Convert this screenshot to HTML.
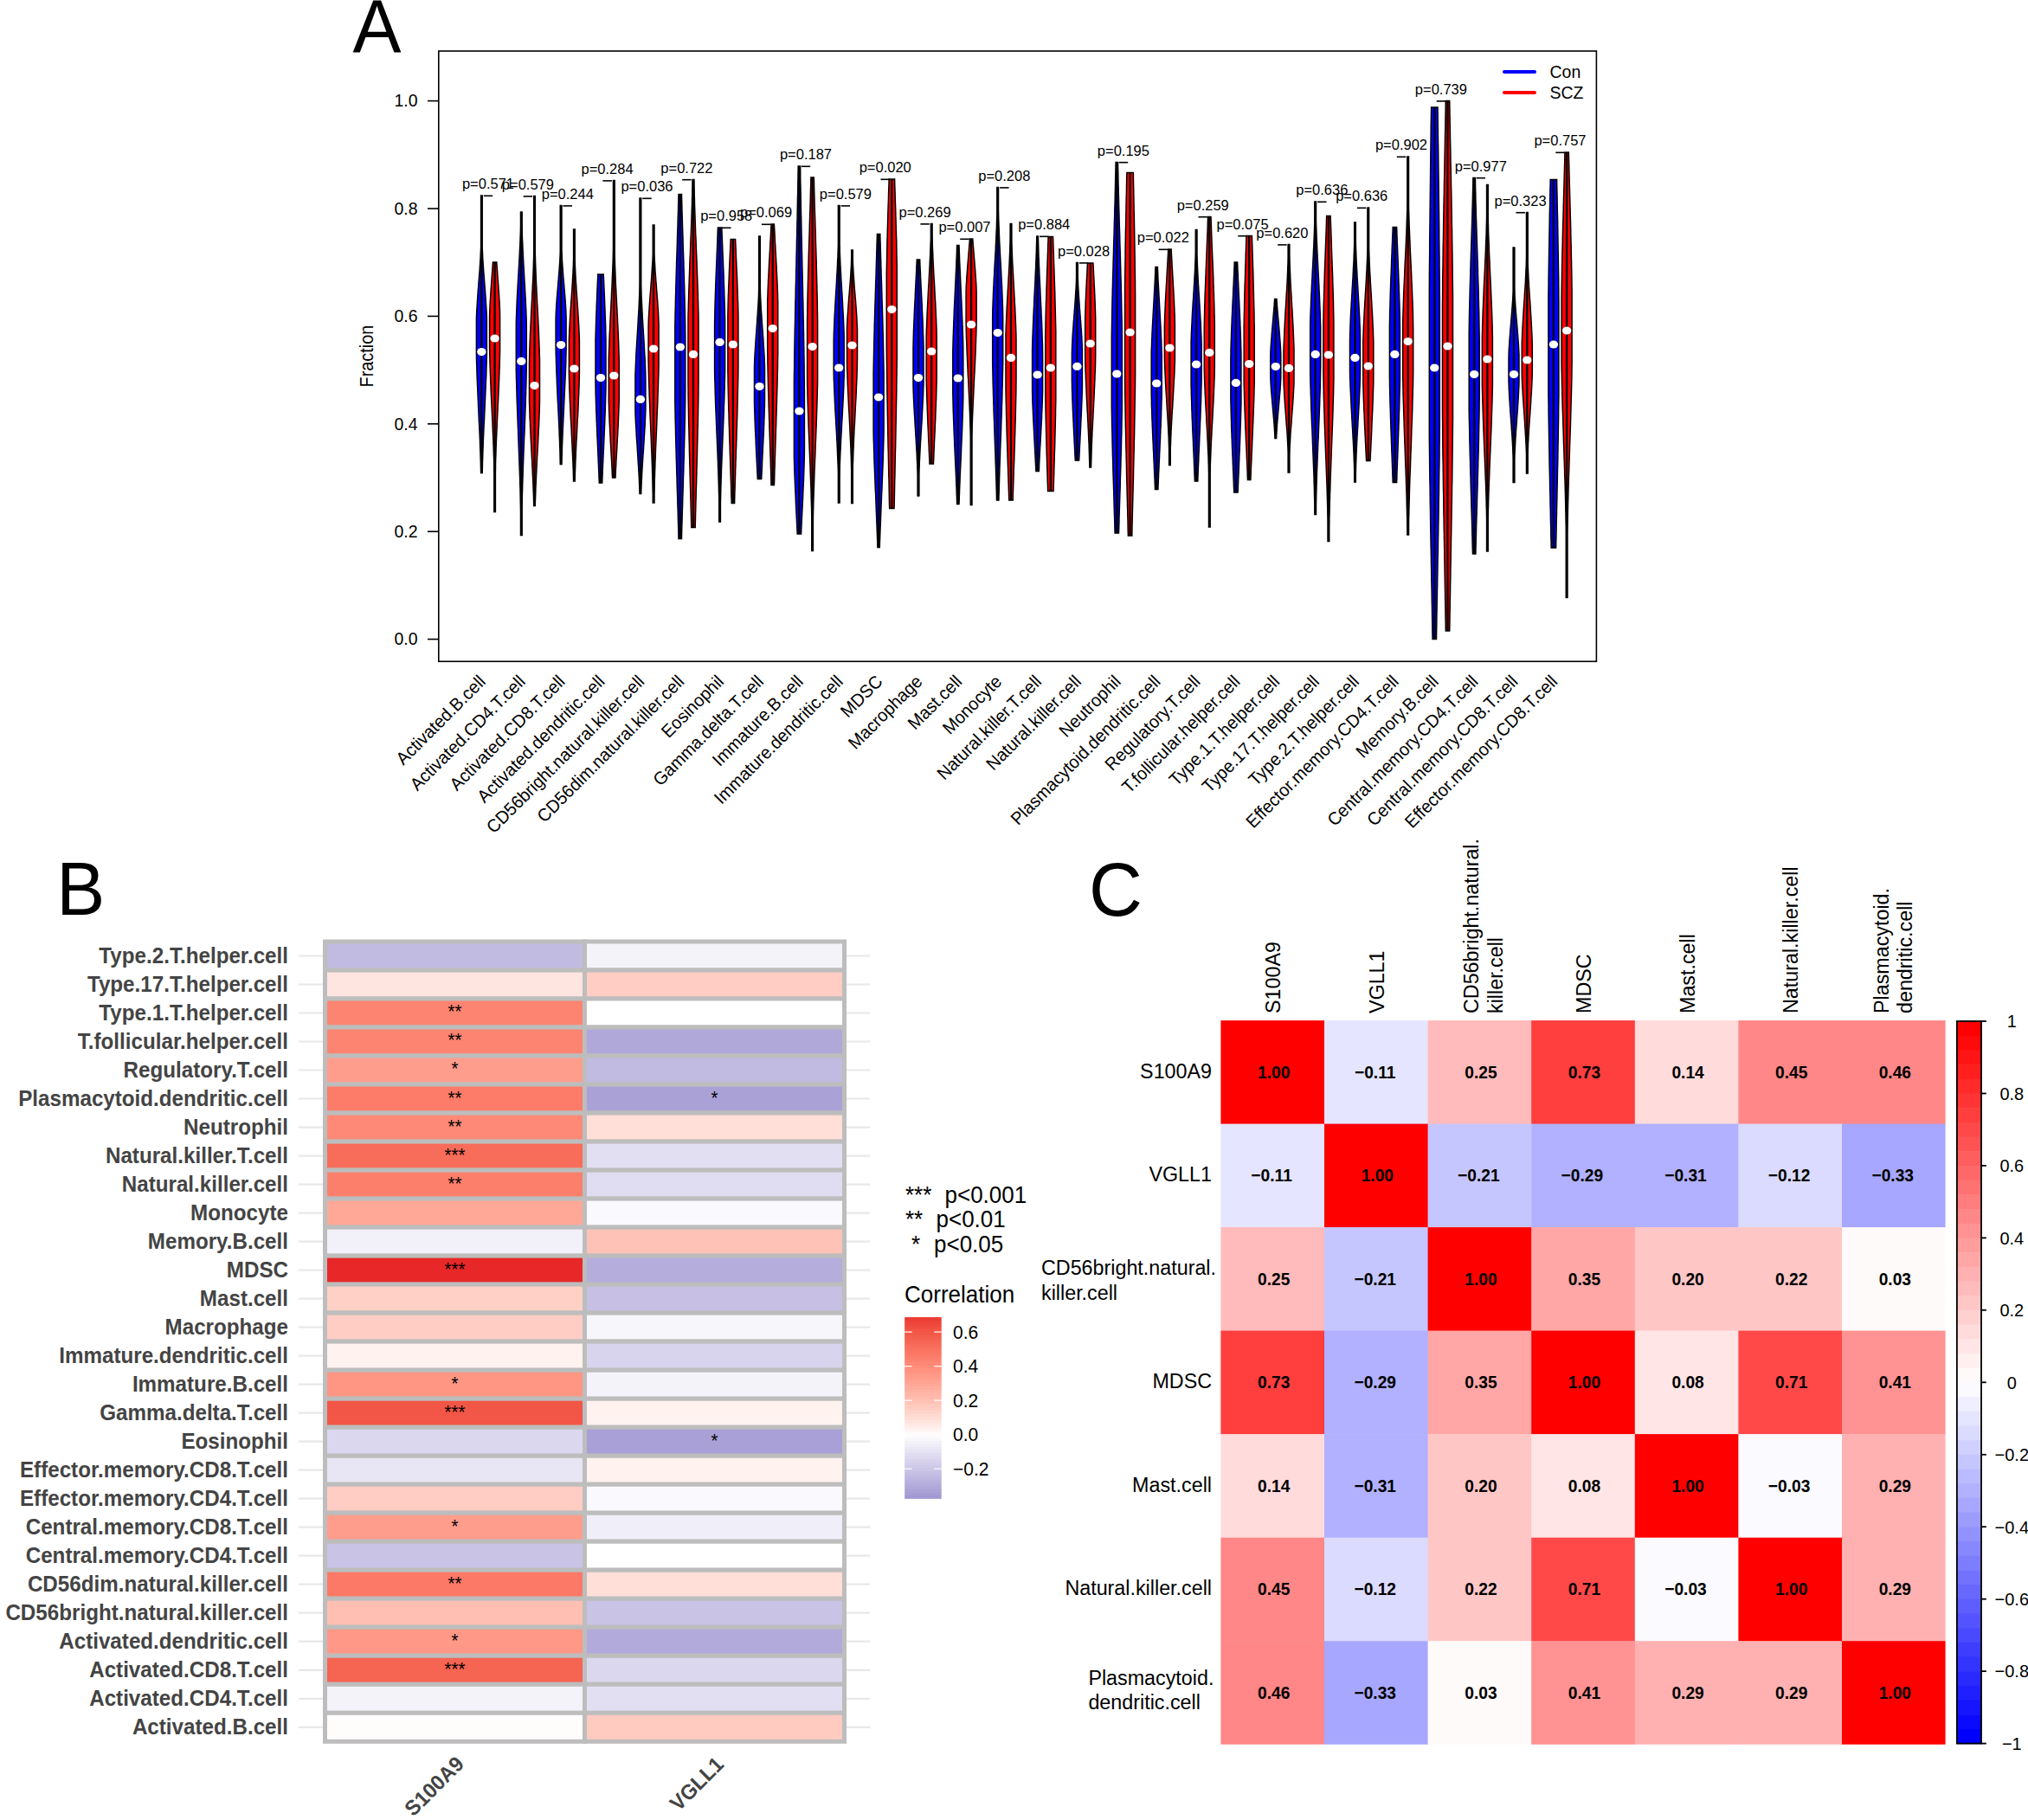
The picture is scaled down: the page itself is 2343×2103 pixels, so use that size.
<!DOCTYPE html>
<html lang="en"><head><meta charset="utf-8"><title>Figure</title>
<style>
html,body{margin:0;padding:0;background:#fff;}
body{width:2343px;height:2103px;overflow:hidden;}
svg{display:block;}
.t{font-family:'Liberation Sans', sans-serif;fill:#000;}
.tb{font-family:'Liberation Sans', sans-serif;}
.ln{stroke:#000;stroke-width:1.6;}
.vp{stroke:#000;stroke-width:1.5;stroke-linejoin:miter;}
</style></head><body>
<svg width="2343" height="2103" viewBox="0 0 2343 2103">
<rect width="2343" height="2103" fill="#fff"/>
<g id="panelA">
<text transform="translate(407.4,60.9) scale(1,1.045)" font-size="84" class="t">A</text>
<line x1="494" y1="738.6" x2="506.8" y2="738.6" class="ln"/>
<text transform="translate(482.6,745.4) scale(1,1.058)" font-size="19.5" text-anchor="end" class="t">0.0</text>
<line x1="494" y1="614.2" x2="506.8" y2="614.2" class="ln"/>
<text transform="translate(482.6,621) scale(1,1.058)" font-size="19.5" text-anchor="end" class="t">0.2</text>
<line x1="494" y1="489.8" x2="506.8" y2="489.8" class="ln"/>
<text transform="translate(482.6,496.6) scale(1,1.058)" font-size="19.5" text-anchor="end" class="t">0.4</text>
<line x1="494" y1="365.4" x2="506.8" y2="365.4" class="ln"/>
<text transform="translate(482.6,372.2) scale(1,1.058)" font-size="19.5" text-anchor="end" class="t">0.6</text>
<line x1="494" y1="241" x2="506.8" y2="241" class="ln"/>
<text transform="translate(482.6,247.8) scale(1,1.058)" font-size="19.5" text-anchor="end" class="t">0.8</text>
<line x1="494" y1="116.6" x2="506.8" y2="116.6" class="ln"/>
<text transform="translate(482.6,123.4) scale(1,1.058)" font-size="19.5" text-anchor="end" class="t">1.0</text>
<text transform="translate(430.6,411.6) rotate(-90) scale(1,1.065)" font-size="19.9" text-anchor="middle" class="t">Fraction</text>
<polygon points="555.6,226 555.6,230.6 555.6,235.2 555.6,239.7 555.6,244.3 555.6,248.9 555.6,253.5 555.6,258 555.6,262.6 555.6,267.2 555.6,271.8 555.6,276.3 555.6,280.9 555.6,285.5 555.4,290.1 555.2,294.7 555,299.2 554.7,303.8 554.4,308.4 554.1,313 553.7,317.5 553.4,322.1 553,326.7 552.7,331.3 552.3,335.9 552,340.4 551.7,345 551.4,349.6 551.1,354.2 550.8,358.7 550.6,363.3 550.4,367.9 550.4,372.5 550.4,377 550.4,381.6 550.4,386.2 550.4,390.8 550.4,395.4 550.4,399.9 550.4,404.5 550.4,409.1 550.5,413.7 550.6,418.2 550.8,422.8 550.9,427.4 551,432 551.2,436.5 551.4,441.1 551.6,445.7 551.8,450.3 552,454.9 552.2,459.4 552.4,464 552.6,468.6 552.8,473.2 553,477.7 553.2,482.3 553.4,486.9 553.7,491.5 553.9,496.1 554.1,500.6 554.3,505.2 554.5,509.8 554.6,514.4 554.8,518.9 555,523.5 555.1,528.1 555.3,532.7 555.4,537.2 555.5,541.8 555.6,546.4 557.2,546.4 557.3,541.8 557.4,537.2 557.5,532.7 557.7,528.1 557.8,523.5 558,518.9 558.2,514.4 558.3,509.8 558.5,505.2 558.7,500.6 558.9,496.1 559.1,491.5 559.4,486.9 559.6,482.3 559.8,477.7 560,473.2 560.2,468.6 560.4,464 560.6,459.4 560.8,454.9 561,450.3 561.2,445.7 561.4,441.1 561.6,436.5 561.8,432 561.9,427.4 562,422.8 562.2,418.2 562.3,413.7 562.4,409.1 562.4,404.5 562.4,399.9 562.4,395.4 562.4,390.8 562.4,386.2 562.4,381.6 562.4,377 562.4,372.5 562.4,367.9 562.2,363.3 562,358.7 561.7,354.2 561.4,349.6 561.1,345 560.8,340.4 560.5,335.9 560.1,331.3 559.8,326.7 559.4,322.1 559.1,317.5 558.7,313 558.4,308.4 558.1,303.8 557.8,299.2 557.6,294.7 557.4,290.1 557.2,285.5 557.2,280.9 557.2,276.3 557.2,271.8 557.2,267.2 557.2,262.6 557.2,258 557.2,253.5 557.2,248.9 557.2,244.3 557.2,239.7 557.2,235.2 557.2,230.6 557.2,226" fill="#0000FF" class="vp"/>
<line x1="556.4" y1="226" x2="556.4" y2="546.4" stroke="#000" stroke-width="2.3"/>
<ellipse cx="556.4" cy="406.6" rx="5.2" ry="4.6" fill="#fff"/>
<polygon points="569.5,303 569.2,307.1 568.9,311.2 568.6,315.4 568.3,319.5 568,323.6 567.7,327.7 567.4,331.8 567.1,336 566.8,340.1 566.6,344.2 566.3,348.3 566.1,352.4 565.9,356.6 565.8,360.7 565.6,364.8 565.6,368.9 565.6,373 565.6,377.2 565.6,381.3 565.6,385.4 565.6,389.5 565.6,393.6 565.6,397.8 565.6,401.9 565.7,406 565.8,410.1 565.9,414.2 566,418.4 566.1,422.5 566.3,426.6 566.4,430.7 566.6,434.8 566.7,439 566.9,443.1 567.1,447.2 567.2,451.3 567.4,455.4 567.6,459.6 567.8,463.7 568,467.8 568.2,471.9 568.4,476 568.6,480.2 568.8,484.3 569,488.4 569.1,492.5 569.3,496.6 569.5,500.8 569.7,504.9 569.9,509 570,513.1 570.2,517.2 570.3,521.4 570.4,525.5 570.6,529.6 570.7,533.7 570.8,537.8 570.8,542 570.9,546.1 570.9,550.2 570.9,554.3 570.9,558.4 570.9,562.6 570.9,566.7 570.9,570.8 570.9,574.9 570.9,579 570.9,583.2 570.9,587.3 570.9,591.4 572.4,591.4 572.4,587.3 572.4,583.2 572.4,579 572.4,574.9 572.4,570.8 572.4,566.7 572.4,562.6 572.4,558.4 572.4,554.3 572.4,550.2 572.4,546.1 572.5,542 572.5,537.8 572.6,533.7 572.7,529.6 572.9,525.5 573,521.4 573.1,517.2 573.3,513.1 573.4,509 573.6,504.9 573.8,500.8 574,496.6 574.2,492.5 574.3,488.4 574.5,484.3 574.7,480.2 574.9,476 575.1,471.9 575.3,467.8 575.5,463.7 575.7,459.6 575.9,455.4 576.1,451.3 576.2,447.2 576.4,443.1 576.6,439 576.7,434.8 576.9,430.7 577,426.6 577.2,422.5 577.3,418.4 577.4,414.2 577.5,410.1 577.6,406 577.6,401.9 577.6,397.8 577.6,393.6 577.6,389.5 577.6,385.4 577.6,381.3 577.6,377.2 577.6,373 577.6,368.9 577.6,364.8 577.5,360.7 577.4,356.6 577.2,352.4 577,348.3 576.7,344.2 576.5,340.1 576.2,336 575.9,331.8 575.6,327.7 575.3,323.6 575,319.5 574.7,315.4 574.4,311.2 574.1,307.1 573.8,303" fill="#FF0000" class="vp"/>
<line x1="571.6" y1="303" x2="571.6" y2="591.4" stroke="#000" stroke-width="2.3"/>
<ellipse cx="571.6" cy="391" rx="5.2" ry="4.6" fill="#fff"/>
<line x1="558.8" y1="226.3" x2="569.2" y2="226.3" class="ln"/>
<text transform="translate(564,218.1) scale(1,1.04)" font-size="16.5" text-anchor="middle" class="t">p=0.571</text>
<text transform="translate(562.2,788.8) rotate(-45) scale(1,1.04)" font-size="19.9" text-anchor="end" class="t">Activated.B.cell</text>
<polygon points="601.5,245 601.5,250.3 601.5,255.7 601.5,261 601.4,266.3 601.2,271.7 601,277 600.8,282.4 600.5,287.7 600.3,293 600,298.4 599.7,303.7 599.4,309 599.1,314.4 598.8,319.7 598.5,325.1 598.2,330.4 597.9,335.7 597.6,341.1 597.3,346.4 597.1,351.7 596.9,357.1 596.7,362.4 596.5,367.8 596.3,373.1 596.3,378.4 596.3,383.8 596.3,389.1 596.3,394.4 596.3,399.8 596.3,405.1 596.3,410.5 596.3,415.8 596.3,421.1 596.3,426.5 596.4,431.8 596.5,437.1 596.7,442.5 596.8,447.8 597,453.1 597.1,458.5 597.3,463.8 597.5,469.2 597.7,474.5 597.9,479.8 598.1,485.2 598.3,490.5 598.5,495.8 598.7,501.2 598.9,506.5 599.1,511.9 599.3,517.2 599.5,522.5 599.7,527.9 599.9,533.2 600.1,538.5 600.3,543.9 600.5,549.2 600.7,554.6 600.8,559.9 601,565.2 601.1,570.6 601.2,575.9 601.3,581.2 601.4,586.6 601.5,591.9 601.5,597.3 601.5,602.6 601.5,607.9 601.5,613.3 601.5,618.6 603.1,618.6 603.1,613.3 603.1,607.9 603.1,602.6 603.1,597.3 603.1,591.9 603.1,586.6 603.2,581.2 603.3,575.9 603.4,570.6 603.6,565.2 603.7,559.9 603.9,554.6 604.1,549.2 604.2,543.9 604.4,538.5 604.6,533.2 604.8,527.9 605,522.5 605.2,517.2 605.4,511.9 605.6,506.5 605.9,501.2 606.1,495.8 606.3,490.5 606.5,485.2 606.7,479.8 606.9,474.5 607.1,469.2 607.3,463.8 607.4,458.5 607.6,453.1 607.7,447.8 607.9,442.5 608,437.1 608.1,431.8 608.2,426.5 608.3,421.1 608.3,415.8 608.3,410.5 608.3,405.1 608.3,399.8 608.3,394.4 608.3,389.1 608.3,383.8 608.3,378.4 608.2,373.1 608.1,367.8 607.9,362.4 607.7,357.1 607.4,351.7 607.2,346.4 606.9,341.1 606.6,335.7 606.3,330.4 606,325.1 605.7,319.7 605.4,314.4 605.1,309 604.8,303.7 604.5,298.4 604.3,293 604,287.7 603.8,282.4 603.5,277 603.3,271.7 603.2,266.3 603.1,261 603.1,255.7 603.1,250.3 603.1,245" fill="#0000FF" class="vp"/>
<line x1="602.3" y1="245" x2="602.3" y2="618.6" stroke="#000" stroke-width="2.3"/>
<ellipse cx="602.3" cy="417.4" rx="5.2" ry="4.6" fill="#fff"/>
<polygon points="616.7,226.6 616.7,231.7 616.7,236.8 616.7,241.9 616.7,247 616.7,252.2 616.7,257.3 616.7,262.4 616.7,267.5 616.7,272.6 616.7,277.7 616.7,282.8 616.7,287.9 616.7,293 616.6,298.2 616.4,303.3 616.3,308.4 616.1,313.5 615.9,318.6 615.7,323.7 615.4,328.8 615.2,333.9 614.9,339.1 614.7,344.2 614.4,349.3 614.1,354.4 613.9,359.5 613.6,364.6 613.4,369.7 613.1,374.8 612.9,379.9 612.6,385.1 612.4,390.2 612.2,395.3 612,400.4 611.8,405.5 611.7,410.6 611.6,415.7 611.5,420.8 611.5,425.9 611.5,431.1 611.5,436.2 611.5,441.3 611.5,446.4 611.5,451.5 611.5,456.6 611.5,461.7 611.6,466.8 611.8,471.9 612,477.1 612.1,482.2 612.4,487.3 612.6,492.4 612.8,497.5 613.1,502.6 613.3,507.7 613.6,512.8 613.9,518 614.1,523.1 614.4,528.2 614.7,533.3 614.9,538.4 615.2,543.5 615.4,548.6 615.7,553.7 615.9,558.8 616.1,564 616.3,569.1 616.5,574.2 616.6,579.3 616.7,584.4 618.3,584.4 618.4,579.3 618.6,574.2 618.8,569.1 618.9,564 619.2,558.8 619.4,553.7 619.6,548.6 619.9,543.5 620.1,538.4 620.4,533.3 620.6,528.2 620.9,523.1 621.2,518 621.5,512.8 621.7,507.7 622,502.6 622.2,497.5 622.5,492.4 622.7,487.3 622.9,482.2 623.1,477.1 623.3,471.9 623.4,466.8 623.5,461.7 623.5,456.6 623.5,451.5 623.5,446.4 623.5,441.3 623.5,436.2 623.5,431.1 623.5,425.9 623.5,420.8 623.5,415.7 623.3,410.6 623.2,405.5 623,400.4 622.8,395.3 622.6,390.2 622.4,385.1 622.2,379.9 621.9,374.8 621.7,369.7 621.4,364.6 621.2,359.5 620.9,354.4 620.6,349.3 620.4,344.2 620.1,339.1 619.9,333.9 619.6,328.8 619.4,323.7 619.2,318.6 619,313.5 618.8,308.4 618.6,303.3 618.5,298.2 618.3,293 618.3,287.9 618.3,282.8 618.3,277.7 618.3,272.6 618.3,267.5 618.3,262.4 618.3,257.3 618.3,252.2 618.3,247 618.3,241.9 618.3,236.8 618.3,231.7 618.3,226.6" fill="#FF0000" class="vp"/>
<line x1="617.5" y1="226.6" x2="617.5" y2="584.4" stroke="#000" stroke-width="2.3"/>
<ellipse cx="617.5" cy="445.6" rx="5.2" ry="4.6" fill="#fff"/>
<line x1="604.7" y1="226.9" x2="615.1" y2="226.9" class="ln"/>
<text transform="translate(609.9,218.7) scale(1,1.04)" font-size="16.5" text-anchor="middle" class="t">p=0.579</text>
<text transform="translate(608.1,788.8) rotate(-45) scale(1,1.04)" font-size="19.9" text-anchor="end" class="t">Activated.CD4.T.cell</text>
<polygon points="647.3,237.6 647.3,241.9 647.3,246.1 647.3,250.4 647.3,254.7 647.3,258.9 647.3,263.2 647.3,267.5 647.3,271.7 647.3,276 647.3,280.3 647.3,284.6 647.3,288.8 647.2,293.1 647,297.4 646.8,301.6 646.5,305.9 646.2,310.2 645.9,314.4 645.5,318.7 645.2,323 644.8,327.2 644.5,331.5 644.1,335.8 643.8,340 643.4,344.3 643.1,348.6 642.8,352.9 642.6,357.1 642.3,361.4 642.2,365.7 642.1,369.9 642.1,374.2 642.1,378.5 642.1,382.7 642.1,387 642.1,391.3 642.1,395.5 642.1,399.8 642.2,404.1 642.2,408.3 642.4,412.6 642.5,416.9 642.6,421.1 642.8,425.4 642.9,429.7 643.1,434 643.3,438.2 643.4,442.5 643.6,446.8 643.8,451 644,455.3 644.2,459.6 644.4,463.8 644.7,468.1 644.9,472.4 645.1,476.6 645.3,480.9 645.5,485.2 645.7,489.4 645.9,493.7 646.1,498 646.2,502.3 646.4,506.5 646.6,510.8 646.7,515.1 646.9,519.3 647,523.6 647.1,527.9 647.2,532.1 647.3,536.4 648.9,536.4 649,532.1 649.1,527.9 649.3,523.6 649.4,519.3 649.5,515.1 649.7,510.8 649.9,506.5 650,502.3 650.2,498 650.4,493.7 650.6,489.4 650.8,485.2 651,480.9 651.2,476.6 651.4,472.4 651.6,468.1 651.8,463.8 652,459.6 652.2,455.3 652.4,451 652.6,446.8 652.8,442.5 653,438.2 653.2,434 653.4,429.7 653.5,425.4 653.7,421.1 653.8,416.9 653.9,412.6 654,408.3 654.1,404.1 654.1,399.8 654.1,395.5 654.1,391.3 654.1,387 654.1,382.7 654.1,378.5 654.1,374.2 654.1,369.9 654.1,365.7 653.9,361.4 653.7,357.1 653.5,352.9 653.2,348.6 652.9,344.3 652.5,340 652.2,335.8 651.8,331.5 651.5,327.2 651.1,323 650.7,318.7 650.4,314.4 650.1,310.2 649.8,305.9 649.5,301.6 649.3,297.4 649.1,293.1 648.9,288.8 648.9,284.6 648.9,280.3 648.9,276 648.9,271.7 648.9,267.5 648.9,263.2 648.9,258.9 648.9,254.7 648.9,250.4 648.9,246.1 648.9,241.9 648.9,237.6" fill="#0000FF" class="vp"/>
<line x1="648.1" y1="237.6" x2="648.1" y2="536.4" stroke="#000" stroke-width="2.3"/>
<ellipse cx="648.1" cy="398.6" rx="5.2" ry="4.6" fill="#fff"/>
<polygon points="662.6,265 662.6,269.2 662.6,273.3 662.6,277.5 662.6,281.6 662.6,285.8 662.6,289.9 662.6,294.1 662.6,298.3 662.5,302.4 662.4,306.6 662.2,310.7 662,314.9 661.8,319 661.5,323.2 661.3,327.4 661,331.5 660.8,335.7 660.5,339.8 660.2,344 659.9,348.1 659.6,352.3 659.3,356.5 659,360.6 658.8,364.8 658.5,368.9 658.3,373.1 658.1,377.2 657.8,381.4 657.7,385.6 657.5,389.7 657.4,393.9 657.4,398 657.4,402.2 657.4,406.3 657.4,410.5 657.4,414.7 657.4,418.8 657.4,423 657.4,427.1 657.4,431.3 657.5,435.4 657.6,439.6 657.7,443.8 657.8,447.9 658,452.1 658.2,456.2 658.3,460.4 658.5,464.5 658.7,468.7 658.9,472.9 659.1,477 659.3,481.2 659.5,485.3 659.8,489.5 660,493.6 660.2,497.8 660.4,502 660.6,506.1 660.8,510.3 661,514.4 661.2,518.6 661.4,522.7 661.6,526.9 661.8,531.1 662,535.2 662.1,539.4 662.3,543.5 662.4,547.7 662.5,551.8 662.6,556 664.2,556 664.3,551.8 664.4,547.7 664.5,543.5 664.7,539.4 664.8,535.2 665,531.1 665.2,526.9 665.3,522.7 665.5,518.6 665.7,514.4 665.9,510.3 666.2,506.1 666.4,502 666.6,497.8 666.8,493.6 667,489.5 667.2,485.3 667.5,481.2 667.7,477 667.9,472.9 668.1,468.7 668.3,464.5 668.4,460.4 668.6,456.2 668.8,452.1 668.9,447.9 669.1,443.8 669.2,439.6 669.3,435.4 669.4,431.3 669.4,427.1 669.4,423 669.4,418.8 669.4,414.7 669.4,410.5 669.4,406.3 669.4,402.2 669.4,398 669.4,393.9 669.3,389.7 669.1,385.6 668.9,381.4 668.7,377.2 668.5,373.1 668.3,368.9 668,364.8 667.7,360.6 667.5,356.5 667.2,352.3 666.9,348.1 666.6,344 666.3,339.8 666,335.7 665.8,331.5 665.5,327.4 665.2,323.2 665,319 664.8,314.9 664.6,310.7 664.4,306.6 664.3,302.4 664.2,298.3 664.2,294.1 664.2,289.9 664.2,285.8 664.2,281.6 664.2,277.5 664.2,273.3 664.2,269.2 664.2,265" fill="#FF0000" class="vp"/>
<line x1="663.4" y1="265" x2="663.4" y2="556" stroke="#000" stroke-width="2.3"/>
<ellipse cx="663.4" cy="426" rx="5.2" ry="4.6" fill="#fff"/>
<line x1="650.5" y1="237.9" x2="661" y2="237.9" class="ln"/>
<text transform="translate(655.8,229.7) scale(1,1.04)" font-size="16.5" text-anchor="middle" class="t">p=0.244</text>
<text transform="translate(654,788.8) rotate(-45) scale(1,1.04)" font-size="19.9" text-anchor="end" class="t">Activated.CD8.T.cell</text>
<polygon points="690.8,317 690.7,320.4 690.5,323.9 690.3,327.3 690.2,330.8 690,334.2 689.9,337.7 689.7,341.1 689.6,344.5 689.5,348 689.3,351.4 689.2,354.9 689.1,358.3 688.9,361.8 688.8,365.2 688.7,368.6 688.6,372.1 688.5,375.5 688.4,379 688.3,382.4 688.2,385.9 688.1,389.3 688,392.7 688,396.2 688,399.6 688,403.1 688,406.5 688,410 688,413.4 688,416.8 688,420.3 688,423.7 688,427.2 688,430.6 688,434.1 688,437.5 688,440.9 688,444.4 688.1,447.8 688.1,451.3 688.2,454.7 688.3,458.2 688.4,461.6 688.5,465 688.6,468.5 688.7,471.9 688.8,475.4 689,478.8 689.1,482.3 689.2,485.7 689.4,489.1 689.5,492.6 689.7,496 689.8,499.5 689.9,502.9 690.1,506.4 690.3,509.8 690.4,513.2 690.6,516.7 690.7,520.1 690.9,523.6 691,527 691.2,530.5 691.3,533.9 691.5,537.3 691.6,540.8 691.8,544.2 691.9,547.7 692,551.1 692.2,554.6 692.3,558 695.7,558 695.8,554.6 696,551.1 696.1,547.7 696.2,544.2 696.4,540.8 696.5,537.3 696.7,533.9 696.8,530.5 697,527 697.1,523.6 697.3,520.1 697.5,516.7 697.6,513.2 697.8,509.8 697.9,506.4 698.1,502.9 698.2,499.5 698.4,496 698.5,492.6 698.7,489.1 698.8,485.7 698.9,482.3 699.1,478.8 699.2,475.4 699.3,471.9 699.4,468.5 699.5,465 699.6,461.6 699.7,458.2 699.8,454.7 699.9,451.3 700,447.8 700,444.4 700,440.9 700,437.5 700,434.1 700,430.6 700,427.2 700,423.7 700,420.3 700,416.8 700,413.4 700,410 700,406.5 700,403.1 700,399.6 700,396.2 700,392.7 699.9,389.3 699.8,385.9 699.7,382.4 699.7,379 699.6,375.5 699.5,372.1 699.3,368.6 699.2,365.2 699.1,361.8 699,358.3 698.8,354.9 698.7,351.4 698.6,348 698.4,344.5 698.3,341.1 698.1,337.7 698,334.2 697.8,330.8 697.7,327.3 697.5,323.9 697.4,320.4 697.2,317" fill="#0000FF" class="vp"/>
<line x1="694" y1="317" x2="694" y2="558" stroke="#000" stroke-width="2.3"/>
<ellipse cx="694" cy="436.6" rx="5.2" ry="4.6" fill="#fff"/>
<polygon points="708.5,208.6 708.5,213.5 708.5,218.4 708.5,223.3 708.5,228.2 708.5,233.1 708.5,238 708.5,242.9 708.5,247.8 708.5,252.8 708.5,257.7 708.5,262.6 708.5,267.5 708.5,272.4 708.5,277.3 708.5,282.2 708.5,287.1 708.4,292 708.3,296.9 708.2,301.8 708,306.7 707.8,311.6 707.6,316.5 707.4,321.4 707.2,326.3 707,331.2 706.7,336.1 706.5,341.1 706.3,346 706,350.9 705.8,355.8 705.5,360.7 705.3,365.6 705,370.5 704.8,375.4 704.6,380.3 704.3,385.2 704.1,390.1 703.9,395 703.8,399.9 703.6,404.8 703.4,409.7 703.3,414.6 703.3,419.5 703.3,424.5 703.3,429.4 703.3,434.3 703.3,439.2 703.3,444.1 703.3,449 703.3,453.9 703.3,458.8 703.3,463.7 703.5,468.6 703.6,473.5 703.8,478.4 704,483.3 704.2,488.2 704.5,493.1 704.7,498 705,502.9 705.2,507.8 705.5,512.8 705.8,517.7 706,522.6 706.3,527.5 706.6,532.4 706.8,537.3 707.1,542.2 707.3,547.1 707.6,552 711,552 711.2,547.1 711.4,542.2 711.7,537.3 711.9,532.4 712.2,527.5 712.5,522.6 712.8,517.7 713,512.8 713.3,507.8 713.6,502.9 713.8,498 714.1,493.1 714.3,488.2 714.5,483.3 714.7,478.4 714.9,473.5 715.1,468.6 715.2,463.7 715.3,458.8 715.3,453.9 715.3,449 715.3,444.1 715.3,439.2 715.3,434.3 715.3,429.4 715.3,424.5 715.3,419.5 715.2,414.6 715.1,409.7 714.9,404.8 714.8,399.9 714.6,395 714.4,390.1 714.2,385.2 714,380.3 713.7,375.4 713.5,370.5 713.3,365.6 713,360.7 712.8,355.8 712.5,350.9 712.3,346 712,341.1 711.8,336.1 711.5,331.2 711.3,326.3 711.1,321.4 710.9,316.5 710.7,311.6 710.5,306.7 710.4,301.8 710.2,296.9 710.1,292 710.1,287.1 710.1,282.2 710.1,277.3 710.1,272.4 710.1,267.5 710.1,262.6 710.1,257.7 710.1,252.8 710.1,247.8 710.1,242.9 710.1,238 710.1,233.1 710.1,228.2 710.1,223.3 710.1,218.4 710.1,213.5 710.1,208.6" fill="#FF0000" class="vp"/>
<line x1="709.3" y1="208.6" x2="709.3" y2="552" stroke="#000" stroke-width="2.3"/>
<ellipse cx="709.3" cy="434" rx="5.2" ry="4.6" fill="#fff"/>
<line x1="696.4" y1="208.9" x2="706.9" y2="208.9" class="ln"/>
<text transform="translate(701.6,200.7) scale(1,1.04)" font-size="16.5" text-anchor="middle" class="t">p=0.284</text>
<text transform="translate(699.8,788.8) rotate(-45) scale(1,1.04)" font-size="19.9" text-anchor="end" class="t">Activated.dendritic.cell</text>
<polygon points="739.1,229 739.1,233.9 739.1,238.8 739.1,243.6 739.1,248.5 739.1,253.4 739.1,258.3 739.1,263.1 739.1,268 739.1,272.9 739.1,277.8 739.1,282.6 739.1,287.5 739.1,292.4 739.1,297.3 739.1,302.2 739.1,307 739.1,311.9 739.1,316.8 739.1,321.7 739.1,326.5 739,331.4 738.9,336.3 738.7,341.2 738.5,346.1 738.3,350.9 738.1,355.8 737.8,360.7 737.5,365.6 737.2,370.4 737,375.3 736.7,380.2 736.4,385.1 736.1,389.9 735.8,394.8 735.5,399.7 735.2,404.6 734.9,409.5 734.7,414.3 734.5,419.2 734.3,424.1 734.1,429 733.9,433.8 733.9,438.7 733.9,443.6 733.9,448.5 733.9,453.3 733.9,458.2 733.9,463.1 733.9,468 733.9,472.9 734,477.7 734.2,482.6 734.4,487.5 734.7,492.4 735,497.2 735.2,502.1 735.5,507 735.9,511.9 736.2,516.8 736.5,521.6 736.8,526.5 737.1,531.4 737.4,536.3 737.7,541.1 738,546 738.3,550.9 738.5,555.8 738.7,560.6 738.9,565.5 739.1,570.4 740.7,570.4 740.8,565.5 741,560.6 741.2,555.8 741.5,550.9 741.7,546 742,541.1 742.3,536.3 742.6,531.4 742.9,526.5 743.3,521.6 743.6,516.8 743.9,511.9 744.2,507 744.5,502.1 744.8,497.2 745.1,492.4 745.3,487.5 745.5,482.6 745.7,477.7 745.9,472.9 745.9,468 745.9,463.1 745.9,458.2 745.9,453.3 745.9,448.5 745.9,443.6 745.9,438.7 745.8,433.8 745.7,429 745.5,424.1 745.3,419.2 745.1,414.3 744.8,409.5 744.5,404.6 744.3,399.7 744,394.8 743.7,389.9 743.4,385.1 743.1,380.2 742.8,375.3 742.5,370.4 742.2,365.6 742,360.7 741.7,355.8 741.5,350.9 741.2,346.1 741,341.2 740.9,336.3 740.7,331.4 740.7,326.5 740.7,321.7 740.7,316.8 740.7,311.9 740.7,307 740.7,302.2 740.7,297.3 740.7,292.4 740.7,287.5 740.7,282.6 740.7,277.8 740.7,272.9 740.7,268 740.7,263.1 740.7,258.3 740.7,253.4 740.7,248.5 740.7,243.6 740.7,238.8 740.7,233.9 740.7,229" fill="#0000FF" class="vp"/>
<line x1="739.9" y1="229" x2="739.9" y2="570.4" stroke="#000" stroke-width="2.3"/>
<ellipse cx="739.9" cy="461.4" rx="5.2" ry="4.6" fill="#fff"/>
<polygon points="754.3,260 754.3,264.6 754.3,269.2 754.3,273.8 754.3,278.3 754.3,282.9 754.3,287.5 754.3,292.1 754.2,296.7 754,301.3 753.7,305.9 753.4,310.4 753.1,315 752.8,319.6 752.5,324.2 752.1,328.8 751.8,333.4 751.4,338 751,342.5 750.7,347.1 750.4,351.7 750.1,356.3 749.8,360.9 749.5,365.5 749.3,370.1 749.2,374.6 749.1,379.2 749.1,383.8 749.1,388.4 749.1,393 749.1,397.6 749.1,402.2 749.1,406.7 749.1,411.3 749.1,415.9 749.2,420.5 749.3,425.1 749.4,429.7 749.5,434.3 749.6,438.8 749.8,443.4 749.9,448 750.1,452.6 750.2,457.2 750.4,461.8 750.6,466.4 750.8,470.9 750.9,475.5 751.1,480.1 751.3,484.7 751.5,489.3 751.7,493.9 751.9,498.5 752.1,503 752.3,507.6 752.5,512.2 752.6,516.8 752.8,521.4 753,526 753.2,530.6 753.3,535.1 753.5,539.7 753.6,544.3 753.8,548.9 753.9,553.5 754,558.1 754.1,562.7 754.2,567.2 754.3,571.8 754.3,576.4 754.3,581 755.9,581 755.9,576.4 755.9,571.8 756,567.2 756.1,562.7 756.2,558.1 756.3,553.5 756.5,548.9 756.6,544.3 756.8,539.7 756.9,535.1 757.1,530.6 757.3,526 757.4,521.4 757.6,516.8 757.8,512.2 758,507.6 758.2,503 758.4,498.5 758.6,493.9 758.8,489.3 758.9,484.7 759.1,480.1 759.3,475.5 759.5,470.9 759.7,466.4 759.9,461.8 760,457.2 760.2,452.6 760.3,448 760.5,443.4 760.6,438.8 760.8,434.3 760.9,429.7 761,425.1 761.1,420.5 761.1,415.9 761.1,411.3 761.1,406.7 761.1,402.2 761.1,397.6 761.1,393 761.1,388.4 761.1,383.8 761.1,379.2 761.1,374.6 760.9,370.1 760.7,365.5 760.5,360.9 760.2,356.3 759.9,351.7 759.6,347.1 759.2,342.5 758.9,338 758.5,333.4 758.2,328.8 757.8,324.2 757.5,319.6 757.1,315 756.8,310.4 756.6,305.9 756.3,301.3 756.1,296.7 755.9,292.1 755.9,287.5 755.9,282.9 755.9,278.3 755.9,273.8 755.9,269.2 755.9,264.6 755.9,260" fill="#FF0000" class="vp"/>
<line x1="755.1" y1="260" x2="755.1" y2="581" stroke="#000" stroke-width="2.3"/>
<ellipse cx="755.1" cy="403" rx="5.2" ry="4.6" fill="#fff"/>
<line x1="742.3" y1="229.3" x2="752.7" y2="229.3" class="ln"/>
<text transform="translate(747.5,221.1) scale(1,1.04)" font-size="16.5" text-anchor="middle" class="t">p=0.036</text>
<text transform="translate(745.7,788.8) rotate(-45) scale(1,1.04)" font-size="19.9" text-anchor="end" class="t">CD56bright.natural.killer.cell</text>
<polygon points="784,224.4 783.9,230.1 783.7,235.8 783.6,241.5 783.4,247.2 783.2,252.8 783.1,258.5 782.9,264.2 782.7,269.9 782.5,275.6 782.4,281.3 782.2,287 782,292.7 781.8,298.4 781.6,304 781.5,309.7 781.3,315.4 781.1,321.1 781,326.8 780.8,332.5 780.7,338.2 780.5,343.9 780.4,349.5 780.3,355.2 780.1,360.9 780,366.6 779.9,372.3 779.8,378 779.8,383.7 779.8,389.4 779.8,395.1 779.8,400.7 779.8,406.4 779.8,412.1 779.8,417.8 779.8,423.5 779.8,429.2 779.8,434.9 779.8,440.6 779.8,446.3 779.8,451.9 779.8,457.6 779.8,463.3 779.9,469 780,474.7 780.1,480.4 780.2,486.1 780.4,491.8 780.5,497.5 780.6,503.1 780.8,508.8 780.9,514.5 781.1,520.2 781.2,525.9 781.4,531.6 781.6,537.3 781.7,543 781.9,548.6 782.1,554.3 782.2,560 782.4,565.7 782.6,571.4 782.8,577.1 782.9,582.8 783.1,588.5 783.3,594.2 783.4,599.8 783.6,605.5 783.8,611.2 783.9,616.9 784,622.6 787.5,622.6 787.6,616.9 787.7,611.2 787.9,605.5 788.1,599.8 788.2,594.2 788.4,588.5 788.6,582.8 788.7,577.1 788.9,571.4 789.1,565.7 789.3,560 789.4,554.3 789.6,548.6 789.8,543 789.9,537.3 790.1,531.6 790.3,525.9 790.4,520.2 790.6,514.5 790.7,508.8 790.9,503.1 791,497.5 791.1,491.8 791.3,486.1 791.4,480.4 791.5,474.7 791.6,469 791.7,463.3 791.7,457.6 791.8,451.9 791.8,446.3 791.8,440.6 791.8,434.9 791.8,429.2 791.8,423.5 791.8,417.8 791.8,412.1 791.8,406.4 791.8,400.7 791.8,395.1 791.8,389.4 791.7,383.7 791.7,378 791.6,372.3 791.5,366.6 791.4,360.9 791.2,355.2 791.1,349.5 791,343.9 790.8,338.2 790.7,332.5 790.5,326.8 790.4,321.1 790.2,315.4 790,309.7 789.9,304 789.7,298.4 789.5,292.7 789.3,287 789.1,281.3 789,275.6 788.8,269.9 788.6,264.2 788.4,258.5 788.3,252.8 788.1,247.2 787.9,241.5 787.8,235.8 787.6,230.1 787.5,224.4" fill="#0000FF" class="vp"/>
<line x1="785.8" y1="224.4" x2="785.8" y2="622.6" stroke="#000" stroke-width="2.3"/>
<ellipse cx="785.8" cy="401" rx="5.2" ry="4.6" fill="#fff"/>
<polygon points="800.1,207.4 800,213.1 799.9,218.9 799.8,224.6 799.6,230.4 799.5,236.1 799.3,241.9 799.1,247.6 798.9,253.4 798.7,259.1 798.5,264.9 798.3,270.6 798,276.3 797.8,282.1 797.6,287.8 797.4,293.6 797.1,299.3 796.9,305.1 796.7,310.8 796.5,316.6 796.3,322.3 796.1,328.1 795.9,333.8 795.7,339.6 795.6,345.3 795.4,351 795.3,356.8 795.1,362.5 795,368.3 795,374 795,379.8 795,385.5 795,391.3 795,397 795,402.8 795,408.5 795,414.2 795,420 795,425.7 795,431.5 795,437.2 795,443 795.1,448.7 795.1,454.5 795.2,460.2 795.3,466 795.4,471.7 795.5,477.4 795.6,483.2 795.7,488.9 795.9,494.7 796,500.4 796.1,506.2 796.3,511.9 796.4,517.7 796.5,523.4 796.7,529.2 796.8,534.9 797,540.7 797.1,546.4 797.3,552.1 797.4,557.9 797.6,563.6 797.8,569.4 797.9,575.1 798.1,580.9 798.2,586.6 798.4,592.4 798.5,598.1 798.7,603.9 798.8,609.6 803.2,609.6 803.3,603.9 803.5,598.1 803.6,592.4 803.8,586.6 803.9,580.9 804.1,575.1 804.2,569.4 804.4,563.6 804.6,557.9 804.7,552.1 804.9,546.4 805,540.7 805.2,534.9 805.3,529.2 805.5,523.4 805.6,517.7 805.7,511.9 805.9,506.2 806,500.4 806.1,494.7 806.3,488.9 806.4,483.2 806.5,477.4 806.6,471.7 806.7,466 806.8,460.2 806.9,454.5 806.9,448.7 807,443 807,437.2 807,431.5 807,425.7 807,420 807,414.2 807,408.5 807,402.8 807,397 807,391.3 807,385.5 807,379.8 807,374 807,368.3 806.9,362.5 806.7,356.8 806.6,351 806.4,345.3 806.3,339.6 806.1,333.8 805.9,328.1 805.7,322.3 805.5,316.6 805.3,310.8 805.1,305.1 804.9,299.3 804.6,293.6 804.4,287.8 804.2,282.1 804,276.3 803.7,270.6 803.5,264.9 803.3,259.1 803.1,253.4 802.9,247.6 802.7,241.9 802.5,236.1 802.4,230.4 802.2,224.6 802.1,218.9 802,213.1 801.9,207.4" fill="#FF0000" class="vp"/>
<line x1="801" y1="207.4" x2="801" y2="609.6" stroke="#000" stroke-width="2.3"/>
<ellipse cx="801" cy="409.4" rx="5.2" ry="4.6" fill="#fff"/>
<line x1="788.1" y1="207.7" x2="798.6" y2="207.7" class="ln"/>
<text transform="translate(793.4,199.5) scale(1,1.04)" font-size="16.5" text-anchor="middle" class="t">p=0.722</text>
<text transform="translate(791.6,788.8) rotate(-45) scale(1,1.04)" font-size="19.9" text-anchor="end" class="t">CD56dim.natural.killer.cell</text>
<polygon points="829.4,263 829.2,267.9 829,272.7 828.9,277.6 828.7,282.4 828.5,287.3 828.3,292.1 828.1,297 827.9,301.9 827.7,306.7 827.5,311.6 827.3,316.4 827.1,321.3 826.9,326.1 826.7,331 826.6,335.9 826.4,340.7 826.3,345.6 826.1,350.4 826,355.3 825.9,360.1 825.8,365 825.7,369.9 825.6,374.7 825.6,379.6 825.6,384.4 825.6,389.3 825.6,394.1 825.6,399 825.6,403.9 825.6,408.7 825.6,413.6 825.6,418.4 825.6,423.3 825.6,428.1 825.7,433 825.8,437.9 826,442.7 826.1,447.6 826.2,452.4 826.4,457.3 826.5,462.1 826.7,467 826.9,471.9 827.1,476.7 827.3,481.6 827.5,486.4 827.7,491.3 827.9,496.1 828.1,501 828.3,505.9 828.5,510.7 828.7,515.6 828.9,520.4 829.1,525.3 829.3,530.1 829.5,535 829.6,539.9 829.8,544.7 830,549.6 830.1,554.4 830.3,559.3 830.4,564.1 830.5,569 830.7,573.9 830.8,578.7 830.8,583.6 830.8,588.4 830.8,593.3 830.8,598.1 830.8,603 832.4,603 832.4,598.1 832.4,593.3 832.4,588.4 832.4,583.6 832.5,578.7 832.6,573.9 832.7,569 832.8,564.1 833,559.3 833.1,554.4 833.3,549.6 833.4,544.7 833.6,539.9 833.8,535 834,530.1 834.2,525.3 834.4,520.4 834.6,515.6 834.8,510.7 835,505.9 835.2,501 835.4,496.1 835.6,491.3 835.8,486.4 836,481.6 836.2,476.7 836.3,471.9 836.5,467 836.7,462.1 836.9,457.3 837,452.4 837.2,447.6 837.3,442.7 837.4,437.9 837.5,433 837.6,428.1 837.6,423.3 837.6,418.4 837.6,413.6 837.6,408.7 837.6,403.9 837.6,399 837.6,394.1 837.6,389.3 837.6,384.4 837.6,379.6 837.6,374.7 837.6,369.9 837.5,365 837.4,360.1 837.3,355.3 837.1,350.4 837,345.6 836.8,340.7 836.7,335.9 836.5,331 836.3,326.1 836.2,321.3 836,316.4 835.8,311.6 835.6,306.7 835.4,301.9 835.2,297 835,292.1 834.8,287.3 834.6,282.4 834.4,277.6 834.2,272.7 834,267.9 833.8,263" fill="#0000FF" class="vp"/>
<line x1="831.6" y1="263" x2="831.6" y2="603" stroke="#000" stroke-width="2.3"/>
<ellipse cx="831.6" cy="395.4" rx="5.2" ry="4.6" fill="#fff"/>
<polygon points="844.2,276.4 844,280.8 843.8,285.1 843.6,289.5 843.4,293.8 843.2,298.2 843,302.6 842.8,306.9 842.6,311.3 842.4,315.6 842.3,320 842.1,324.4 841.9,328.7 841.7,333.1 841.6,337.4 841.4,341.8 841.3,346.2 841.2,350.5 841.1,354.9 841,359.2 840.9,363.6 840.9,368 840.9,372.3 840.9,376.7 840.9,381 840.9,385.4 840.9,389.8 840.9,394.1 840.9,398.5 840.9,402.8 840.9,407.2 840.9,411.6 840.9,415.9 840.9,420.3 840.9,424.6 840.9,429 841,433.4 841.1,437.7 841.1,442.1 841.2,446.4 841.3,450.8 841.4,455.2 841.5,459.5 841.6,463.9 841.7,468.2 841.8,472.6 842,477 842.1,481.3 842.2,485.7 842.3,490 842.5,494.4 842.6,498.8 842.7,503.1 842.9,507.5 843,511.8 843.2,516.2 843.3,520.6 843.4,524.9 843.6,529.3 843.7,533.6 843.9,538 844,542.4 844.1,546.7 844.3,551.1 844.4,555.4 844.6,559.8 844.7,564.2 844.8,568.5 844.9,572.9 845.1,577.2 845.2,581.6 848.6,581.6 848.7,577.2 848.8,572.9 848.9,568.5 849.1,564.2 849.2,559.8 849.3,555.4 849.5,551.1 849.6,546.7 849.7,542.4 849.9,538 850,533.6 850.2,529.3 850.3,524.9 850.4,520.6 850.6,516.2 850.7,511.8 850.9,507.5 851,503.1 851.1,498.8 851.3,494.4 851.4,490 851.5,485.7 851.7,481.3 851.8,477 851.9,472.6 852,468.2 852.1,463.9 852.2,459.5 852.3,455.2 852.4,450.8 852.5,446.4 852.6,442.1 852.7,437.7 852.8,433.4 852.8,429 852.9,424.6 852.9,420.3 852.9,415.9 852.9,411.6 852.9,407.2 852.9,402.8 852.9,398.5 852.9,394.1 852.9,389.8 852.9,385.4 852.9,381 852.9,376.7 852.9,372.3 852.9,368 852.9,363.6 852.8,359.2 852.7,354.9 852.6,350.5 852.4,346.2 852.3,341.8 852.1,337.4 852,333.1 851.8,328.7 851.7,324.4 851.5,320 851.3,315.6 851.1,311.3 850.9,306.9 850.7,302.6 850.5,298.2 850.3,293.8 850.2,289.5 850,285.1 849.8,280.8 849.6,276.4" fill="#FF0000" class="vp"/>
<line x1="846.9" y1="276.4" x2="846.9" y2="581.6" stroke="#000" stroke-width="2.3"/>
<ellipse cx="846.9" cy="398" rx="5.2" ry="4.6" fill="#fff"/>
<line x1="834" y1="263.3" x2="844.5" y2="263.3" class="ln"/>
<text transform="translate(839.2,255.1) scale(1,1.04)" font-size="16.5" text-anchor="middle" class="t">p=0.958</text>
<text transform="translate(837.4,788.8) rotate(-45) scale(1,1.04)" font-size="19.9" text-anchor="end" class="t">Eosinophil</text>
<polygon points="876.7,273 876.7,277 876.7,281 876.7,285 876.7,289 876.7,293 876.7,297 876.7,301 876.7,305 876.7,309.1 876.7,313.1 876.7,317.1 876.7,321.1 876.7,325.1 876.7,329.1 876.7,333.1 876.6,337.1 876.5,341.1 876.3,345.1 876.1,349.1 875.9,353.1 875.6,357.1 875.4,361.1 875.1,365.1 874.8,369.1 874.6,373.1 874.3,377.1 874,381.2 873.7,385.2 873.4,389.2 873.1,393.2 872.9,397.2 872.6,401.2 872.4,405.2 872.1,409.2 871.9,413.2 871.7,417.2 871.6,421.2 871.5,425.2 871.5,429.2 871.5,433.2 871.5,437.2 871.5,441.2 871.5,445.2 871.5,449.3 871.5,453.3 871.5,457.3 871.5,461.3 871.5,465.3 871.6,469.3 871.7,473.3 871.9,477.3 872,481.3 872.1,485.3 872.3,489.3 872.4,493.3 872.6,497.3 872.8,501.3 873,505.3 873.2,509.3 873.3,513.3 873.5,517.3 873.7,521.4 873.9,525.4 874.1,529.4 874.3,533.4 874.5,537.4 874.7,541.4 874.9,545.4 875.1,549.4 875.3,553.4 879.7,553.4 879.9,549.4 880.1,545.4 880.3,541.4 880.5,537.4 880.6,533.4 880.8,529.4 881,525.4 881.2,521.4 881.4,517.3 881.6,513.3 881.8,509.3 882,505.3 882.2,501.3 882.4,497.3 882.5,493.3 882.7,489.3 882.8,485.3 883,481.3 883.1,477.3 883.2,473.3 883.4,469.3 883.4,465.3 883.5,461.3 883.5,457.3 883.5,453.3 883.5,449.3 883.5,445.2 883.5,441.2 883.5,437.2 883.5,433.2 883.5,429.2 883.5,425.2 883.4,421.2 883.2,417.2 883.1,413.2 882.9,409.2 882.6,405.2 882.4,401.2 882.1,397.2 881.9,393.2 881.6,389.2 881.3,385.2 881,381.2 880.7,377.1 880.4,373.1 880.1,369.1 879.9,365.1 879.6,361.1 879.3,357.1 879.1,353.1 878.9,349.1 878.7,345.1 878.5,341.1 878.4,337.1 878.3,333.1 878.3,329.1 878.3,325.1 878.3,321.1 878.3,317.1 878.3,313.1 878.3,309.1 878.3,305 878.3,301 878.3,297 878.3,293 878.3,289 878.3,285 878.3,281 878.3,277 878.3,273" fill="#0000FF" class="vp"/>
<line x1="877.5" y1="273" x2="877.5" y2="553.4" stroke="#000" stroke-width="2.3"/>
<ellipse cx="877.5" cy="446.6" rx="5.2" ry="4.6" fill="#fff"/>
<polygon points="891,259 890.8,263.3 890.6,267.6 890.4,271.9 890.2,276.2 889.9,280.5 889.7,284.9 889.5,289.2 889.2,293.5 889,297.8 888.7,302.1 888.5,306.4 888.3,310.7 888.1,315 887.9,319.3 887.6,323.6 887.5,327.9 887.3,332.2 887.1,336.6 887,340.9 886.8,345.2 886.7,349.5 886.7,353.8 886.7,358.1 886.7,362.4 886.7,366.7 886.7,371 886.7,375.3 886.7,379.6 886.7,383.9 886.7,388.3 886.7,392.6 886.7,396.9 886.7,401.2 886.7,405.5 886.8,409.8 886.9,414.1 886.9,418.4 887,422.7 887.1,427 887.2,431.3 887.3,435.7 887.4,440 887.5,444.3 887.6,448.6 887.7,452.9 887.9,457.2 888,461.5 888.1,465.8 888.2,470.1 888.4,474.4 888.5,478.7 888.6,483 888.8,487.4 888.9,491.7 889,496 889.2,500.3 889.3,504.6 889.5,508.9 889.6,513.2 889.7,517.5 889.9,521.8 890,526.1 890.2,530.4 890.3,534.7 890.4,539.1 890.6,543.4 890.7,547.7 890.8,552 890.9,556.3 891,560.6 894.4,560.6 894.6,556.3 894.7,552 894.8,547.7 894.9,543.4 895.1,539.1 895.2,534.7 895.3,530.4 895.5,526.1 895.6,521.8 895.7,517.5 895.9,513.2 896,508.9 896.2,504.6 896.3,500.3 896.4,496 896.6,491.7 896.7,487.4 896.8,483 897,478.7 897.1,474.4 897.2,470.1 897.4,465.8 897.5,461.5 897.6,457.2 897.7,452.9 897.9,448.6 898,444.3 898.1,440 898.2,435.7 898.3,431.3 898.4,427 898.5,422.7 898.5,418.4 898.6,414.1 898.7,409.8 898.7,405.5 898.7,401.2 898.7,396.9 898.7,392.6 898.7,388.3 898.7,383.9 898.7,379.6 898.7,375.3 898.7,371 898.7,366.7 898.7,362.4 898.7,358.1 898.7,353.8 898.7,349.5 898.6,345.2 898.5,340.9 898.4,336.6 898.2,332.2 898,327.9 897.8,323.6 897.6,319.3 897.4,315 897.2,310.7 897,306.4 896.7,302.1 896.5,297.8 896.3,293.5 896,289.2 895.8,284.9 895.5,280.5 895.3,276.2 895.1,271.9 894.9,267.6 894.6,263.3 894.4,259" fill="#FF0000" class="vp"/>
<line x1="892.7" y1="259" x2="892.7" y2="560.6" stroke="#000" stroke-width="2.3"/>
<ellipse cx="892.7" cy="379.6" rx="5.2" ry="4.6" fill="#fff"/>
<line x1="879.9" y1="259.3" x2="890.3" y2="259.3" class="ln"/>
<text transform="translate(885.1,251.1) scale(1,1.04)" font-size="16.5" text-anchor="middle" class="t">p=0.069</text>
<text transform="translate(883.3,788.8) rotate(-45) scale(1,1.04)" font-size="19.9" text-anchor="end" class="t">Gamma.delta.T.cell</text>
<polygon points="922.2,192 922.1,198.1 922,204.1 921.9,210.2 921.8,216.3 921.7,222.4 921.5,228.4 921.4,234.5 921.3,240.6 921.2,246.6 921.1,252.7 920.9,258.8 920.8,264.9 920.7,270.9 920.5,277 920.4,283.1 920.3,289.1 920.1,295.2 920,301.3 919.9,307.4 919.7,313.4 919.6,319.5 919.5,325.6 919.3,331.6 919.2,337.7 919.1,343.8 918.9,349.9 918.8,355.9 918.7,362 918.6,368.1 918.5,374.1 918.3,380.2 918.2,386.3 918.1,392.4 918,398.4 917.9,404.5 917.8,410.6 917.7,416.6 917.7,422.7 917.6,428.8 917.5,434.9 917.4,440.9 917.4,447 917.4,453.1 917.4,459.1 917.4,465.2 917.4,471.3 917.4,477.4 917.4,483.4 917.4,489.5 917.4,495.6 917.4,501.6 917.4,507.7 917.4,513.8 917.4,519.9 917.4,525.9 917.5,532 917.7,538.1 917.9,544.1 918.1,550.2 918.4,556.3 918.6,562.4 918.9,568.4 919.2,574.5 919.4,580.6 919.7,586.6 920,592.7 920.3,598.8 920.6,604.9 920.9,610.9 921.2,617 925.6,617 925.8,610.9 926.1,604.9 926.4,598.8 926.7,592.7 927,586.6 927.3,580.6 927.6,574.5 927.8,568.4 928.1,562.4 928.4,556.3 928.6,550.2 928.8,544.1 929,538.1 929.2,532 929.3,525.9 929.4,519.9 929.4,513.8 929.4,507.7 929.4,501.6 929.4,495.6 929.4,489.5 929.4,483.4 929.4,477.4 929.4,471.3 929.4,465.2 929.4,459.1 929.4,453.1 929.3,447 929.3,440.9 929.2,434.9 929.1,428.8 929.1,422.7 929,416.6 928.9,410.6 928.8,404.5 928.7,398.4 928.6,392.4 928.5,386.3 928.4,380.2 928.3,374.1 928.1,368.1 928,362 927.9,355.9 927.8,349.9 927.6,343.8 927.5,337.7 927.4,331.6 927.3,325.6 927.1,319.5 927,313.4 926.8,307.4 926.7,301.3 926.6,295.2 926.4,289.1 926.3,283.1 926.2,277 926,270.9 925.9,264.9 925.8,258.8 925.7,252.7 925.5,246.6 925.4,240.6 925.3,234.5 925.2,228.4 925.1,222.4 925,216.3 924.8,210.2 924.7,204.1 924.7,198.1 924.6,192" fill="#0000FF" class="vp"/>
<line x1="923.4" y1="192" x2="923.4" y2="617" stroke="#000" stroke-width="2.3"/>
<ellipse cx="923.4" cy="475" rx="5.2" ry="4.6" fill="#fff"/>
<polygon points="936.9,205 936.8,211.2 936.6,217.3 936.4,223.5 936.3,229.7 936.1,235.8 935.9,242 935.7,248.2 935.5,254.3 935.3,260.5 935.2,266.7 935,272.8 934.8,279 934.6,285.2 934.4,291.3 934.2,297.5 934.1,303.7 933.9,309.8 933.7,316 933.6,322.1 933.4,328.3 933.3,334.5 933.1,340.6 933,346.8 932.9,353 932.8,359.1 932.7,365.3 932.6,371.5 932.6,377.6 932.6,383.8 932.6,390 932.6,396.1 932.6,402.3 932.6,408.5 932.6,414.6 932.6,420.8 932.6,427 932.6,433.1 932.6,439.3 932.7,445.5 932.9,451.6 933,457.8 933.2,464 933.4,470.1 933.6,476.3 933.8,482.5 934,488.6 934.2,494.8 934.5,501 934.7,507.1 935,513.3 935.2,519.5 935.5,525.6 935.7,531.8 936,537.9 936.2,544.1 936.4,550.3 936.6,556.4 936.9,562.6 937.1,568.8 937.2,574.9 937.4,581.1 937.6,587.3 937.7,593.4 937.8,599.6 937.8,605.8 937.8,611.9 937.8,618.1 937.8,624.3 937.8,630.4 937.8,636.6 939.4,636.6 939.4,630.4 939.4,624.3 939.4,618.1 939.4,611.9 939.4,605.8 939.4,599.6 939.5,593.4 939.7,587.3 939.8,581.1 940,574.9 940.2,568.8 940.4,562.6 940.6,556.4 940.8,550.3 941,544.1 941.3,537.9 941.5,531.8 941.8,525.6 942,519.5 942.2,513.3 942.5,507.1 942.7,501 943,494.8 943.2,488.6 943.4,482.5 943.6,476.3 943.8,470.1 944,464 944.2,457.8 944.3,451.6 944.5,445.5 944.6,439.3 944.6,433.1 944.6,427 944.6,420.8 944.6,414.6 944.6,408.5 944.6,402.3 944.6,396.1 944.6,390 944.6,383.8 944.6,377.6 944.6,371.5 944.5,365.3 944.4,359.1 944.3,353 944.2,346.8 944.1,340.6 943.9,334.5 943.8,328.3 943.6,322.1 943.5,316 943.3,309.8 943.2,303.7 943,297.5 942.8,291.3 942.6,285.2 942.4,279 942.3,272.8 942.1,266.7 941.9,260.5 941.7,254.3 941.5,248.2 941.3,242 941.1,235.8 941,229.7 940.8,223.5 940.6,217.3 940.5,211.2 940.3,205" fill="#FF0000" class="vp"/>
<line x1="938.6" y1="205" x2="938.6" y2="636.6" stroke="#000" stroke-width="2.3"/>
<ellipse cx="938.6" cy="400.6" rx="5.2" ry="4.6" fill="#fff"/>
<line x1="925.8" y1="192.3" x2="936.2" y2="192.3" class="ln"/>
<text transform="translate(931,184.1) scale(1,1.04)" font-size="16.5" text-anchor="middle" class="t">p=0.187</text>
<text transform="translate(929.2,788.8) rotate(-45) scale(1,1.04)" font-size="19.9" text-anchor="end" class="t">Immature.B.cell</text>
<polygon points="968.4,237.6 968.4,242.5 968.4,247.4 968.4,252.3 968.4,257.2 968.4,262.1 968.4,267 968.4,271.9 968.4,276.8 968.4,281.8 968.3,286.7 968.1,291.6 968,296.5 967.7,301.4 967.5,306.3 967.3,311.2 967,316.1 966.7,321 966.5,325.9 966.2,330.8 965.9,335.7 965.6,340.6 965.3,345.5 965,350.4 964.7,355.3 964.5,360.2 964.2,365.1 964,370.1 963.8,375 963.6,379.9 963.4,384.8 963.3,389.7 963.2,394.6 963.2,399.5 963.2,404.4 963.2,409.3 963.2,414.2 963.2,419.1 963.2,424 963.2,428.9 963.3,433.8 963.4,438.7 963.6,443.6 963.8,448.5 964,453.5 964.2,458.4 964.4,463.3 964.7,468.2 964.9,473.1 965.2,478 965.5,482.9 965.7,487.8 966,492.7 966.3,497.6 966.6,502.5 966.8,507.4 967.1,512.3 967.3,517.2 967.5,522.1 967.7,527 967.9,531.9 968.1,536.8 968.3,541.8 968.4,546.7 968.4,551.6 968.4,556.5 968.4,561.4 968.4,566.3 968.4,571.2 968.4,576.1 968.4,581 970,581 970,576.1 970,571.2 970,566.3 970,561.4 970,556.5 970,551.6 970.1,546.7 970.2,541.8 970.3,536.8 970.5,531.9 970.7,527 970.9,522.1 971.2,517.2 971.4,512.3 971.6,507.4 971.9,502.5 972.2,497.6 972.4,492.7 972.7,487.8 973,482.9 973.3,478 973.5,473.1 973.8,468.2 974,463.3 974.3,458.4 974.5,453.5 974.7,448.5 974.9,443.6 975,438.7 975.2,433.8 975.2,428.9 975.2,424 975.2,419.1 975.2,414.2 975.2,409.3 975.2,404.4 975.2,399.5 975.2,394.6 975.2,389.7 975.1,384.8 974.9,379.9 974.7,375 974.5,370.1 974.3,365.1 974,360.2 973.7,355.3 973.5,350.4 973.2,345.5 972.9,340.6 972.6,335.7 972.3,330.8 972,325.9 971.7,321 971.5,316.1 971.2,311.2 970.9,306.3 970.7,301.4 970.5,296.5 970.3,291.6 970.2,286.7 970,281.8 970,276.8 970,271.9 970,267 970,262.1 970,257.2 970,252.3 970,247.4 970,242.5 970,237.6" fill="#0000FF" class="vp"/>
<line x1="969.2" y1="237.6" x2="969.2" y2="581" stroke="#000" stroke-width="2.3"/>
<ellipse cx="969.2" cy="425" rx="5.2" ry="4.6" fill="#fff"/>
<polygon points="983.7,289 983.7,293.2 983.7,297.4 983.6,301.5 983.5,305.7 983.3,309.9 983,314.1 982.8,318.3 982.5,322.4 982.2,326.6 981.8,330.8 981.5,335 981.2,339.2 980.8,343.3 980.5,347.5 980.2,351.7 979.9,355.9 979.6,360.1 979.3,364.2 979,368.4 978.8,372.6 978.6,376.8 978.5,381 978.5,385.1 978.5,389.3 978.5,393.5 978.5,397.7 978.5,401.9 978.5,406 978.5,410.2 978.5,414.4 978.5,418.6 978.6,422.8 978.7,426.9 978.9,431.1 979,435.3 979.2,439.5 979.3,443.7 979.5,447.8 979.7,452 979.9,456.2 980.1,460.4 980.3,464.6 980.5,468.7 980.7,472.9 981,477.1 981.2,481.3 981.4,485.5 981.6,489.6 981.8,493.8 982,498 982.2,502.2 982.4,506.4 982.6,510.5 982.8,514.7 983,518.9 983.1,523.1 983.3,527.3 983.4,531.4 983.5,535.6 983.6,539.8 983.7,544 983.7,548.2 983.7,552.3 983.7,556.5 983.7,560.7 983.7,564.9 983.7,569.1 983.7,573.2 983.7,577.4 983.7,581.6 985.3,581.6 985.3,577.4 985.3,573.2 985.3,569.1 985.3,564.9 985.3,560.7 985.3,556.5 985.3,552.3 985.3,548.2 985.3,544 985.3,539.8 985.4,535.6 985.6,531.4 985.7,527.3 985.8,523.1 986,518.9 986.2,514.7 986.3,510.5 986.5,506.4 986.7,502.2 986.9,498 987.1,493.8 987.4,489.6 987.6,485.5 987.8,481.3 988,477.1 988.2,472.9 988.4,468.7 988.6,464.6 988.9,460.4 989.1,456.2 989.3,452 989.4,447.8 989.6,443.7 989.8,439.5 990,435.3 990.1,431.1 990.2,426.9 990.3,422.8 990.4,418.6 990.5,414.4 990.5,410.2 990.5,406 990.5,401.9 990.5,397.7 990.5,393.5 990.5,389.3 990.5,385.1 990.5,381 990.3,376.8 990.1,372.6 989.9,368.4 989.7,364.2 989.4,360.1 989.1,355.9 988.8,351.7 988.5,347.5 988.1,343.3 987.8,339.2 987.4,335 987.1,330.8 986.8,326.6 986.5,322.4 986.2,318.3 985.9,314.1 985.7,309.9 985.5,305.7 985.3,301.5 985.3,297.4 985.3,293.2 985.3,289" fill="#FF0000" class="vp"/>
<line x1="984.5" y1="289" x2="984.5" y2="581.6" stroke="#000" stroke-width="2.3"/>
<ellipse cx="984.5" cy="399" rx="5.2" ry="4.6" fill="#fff"/>
<line x1="971.6" y1="237.9" x2="982.1" y2="237.9" class="ln"/>
<text transform="translate(976.9,229.7) scale(1,1.04)" font-size="16.5" text-anchor="middle" class="t">p=0.579</text>
<text transform="translate(975.1,788.8) rotate(-45) scale(1,1.04)" font-size="19.9" text-anchor="end" class="t">Immature.dendritic.cell</text>
<polygon points="1013.4,270.6 1013.3,275.8 1013.1,280.9 1013,286.1 1012.8,291.3 1012.7,296.4 1012.5,301.6 1012.4,306.8 1012.2,311.9 1012.1,317.1 1011.9,322.3 1011.7,327.5 1011.6,332.6 1011.4,337.8 1011.3,343 1011.1,348.1 1010.9,353.3 1010.8,358.5 1010.6,363.6 1010.5,368.8 1010.3,374 1010.2,379.1 1010.1,384.3 1009.9,389.5 1009.8,394.6 1009.7,399.8 1009.6,405 1009.5,410.2 1009.4,415.3 1009.3,420.5 1009.2,425.7 1009.1,430.8 1009.1,436 1009.1,441.2 1009.1,446.3 1009.1,451.5 1009.1,456.7 1009.1,461.8 1009.1,467 1009.1,472.2 1009.1,477.3 1009.1,482.5 1009.1,487.7 1009.1,492.8 1009.1,498 1009.2,503.2 1009.3,508.4 1009.5,513.5 1009.6,518.7 1009.8,523.9 1009.9,529 1010.1,534.2 1010.3,539.4 1010.5,544.5 1010.7,549.7 1010.9,554.9 1011.1,560 1011.3,565.2 1011.6,570.4 1011.8,575.5 1012,580.7 1012.2,585.9 1012.4,591.1 1012.6,596.2 1012.8,601.4 1013,606.6 1013.2,611.7 1013.4,616.9 1013.6,622.1 1013.8,627.2 1013.9,632.4 1016.3,632.4 1016.4,627.2 1016.6,622.1 1016.8,616.9 1017,611.7 1017.2,606.6 1017.4,601.4 1017.6,596.2 1017.8,591.1 1018,585.9 1018.2,580.7 1018.4,575.5 1018.6,570.4 1018.9,565.2 1019.1,560 1019.3,554.9 1019.5,549.7 1019.7,544.5 1019.9,539.4 1020.1,534.2 1020.3,529 1020.4,523.9 1020.6,518.7 1020.7,513.5 1020.9,508.4 1021,503.2 1021.1,498 1021.1,492.8 1021.1,487.7 1021.1,482.5 1021.1,477.3 1021.1,472.2 1021.1,467 1021.1,461.8 1021.1,456.7 1021.1,451.5 1021.1,446.3 1021.1,441.2 1021.1,436 1021.1,430.8 1021,425.7 1020.9,420.5 1020.8,415.3 1020.7,410.2 1020.6,405 1020.5,399.8 1020.4,394.6 1020.3,389.5 1020.1,384.3 1020,379.1 1019.9,374 1019.7,368.8 1019.6,363.6 1019.4,358.5 1019.3,353.3 1019.1,348.1 1018.9,343 1018.8,337.8 1018.6,332.6 1018.5,327.5 1018.3,322.3 1018.1,317.1 1018,311.9 1017.8,306.8 1017.7,301.6 1017.5,296.4 1017.4,291.3 1017.2,286.1 1017.1,280.9 1016.9,275.8 1016.8,270.6" fill="#0000FF" class="vp"/>
<line x1="1015.1" y1="270.6" x2="1015.1" y2="632.4" stroke="#000" stroke-width="2.3"/>
<ellipse cx="1015.1" cy="459" rx="5.2" ry="4.6" fill="#fff"/>
<polygon points="1027.1,207 1027,212.4 1026.8,217.9 1026.6,223.3 1026.5,228.7 1026.3,234.2 1026.1,239.6 1025.9,245 1025.8,250.5 1025.6,255.9 1025.5,261.3 1025.3,266.8 1025.2,272.2 1025,277.6 1024.9,283.1 1024.8,288.5 1024.7,293.9 1024.6,299.4 1024.5,304.8 1024.4,310.3 1024.3,315.7 1024.3,321.1 1024.3,326.6 1024.3,332 1024.3,337.4 1024.3,342.9 1024.3,348.3 1024.3,353.7 1024.3,359.2 1024.3,364.6 1024.3,370 1024.3,375.5 1024.3,380.9 1024.3,386.3 1024.3,391.8 1024.3,397.2 1024.3,402.6 1024.4,408.1 1024.4,413.5 1024.5,418.9 1024.6,424.4 1024.6,429.8 1024.7,435.2 1024.8,440.7 1024.9,446.1 1024.9,451.5 1025,457 1025.1,462.4 1025.2,467.8 1025.3,473.3 1025.4,478.7 1025.5,484.1 1025.6,489.6 1025.7,495 1025.8,500.5 1025.9,505.9 1026,511.3 1026.1,516.8 1026.3,522.2 1026.4,527.6 1026.5,533.1 1026.6,538.5 1026.7,543.9 1026.8,549.4 1027,554.8 1027.1,560.2 1027.2,565.7 1027.3,571.1 1027.4,576.5 1027.5,582 1027.7,587.4 1033,587.4 1033.2,582 1033.3,576.5 1033.4,571.1 1033.5,565.7 1033.6,560.2 1033.7,554.8 1033.9,549.4 1034,543.9 1034.1,538.5 1034.2,533.1 1034.3,527.6 1034.4,522.2 1034.6,516.8 1034.7,511.3 1034.8,505.9 1034.9,500.5 1035,495 1035.1,489.6 1035.2,484.1 1035.3,478.7 1035.4,473.3 1035.5,467.8 1035.6,462.4 1035.7,457 1035.8,451.5 1035.8,446.1 1035.9,440.7 1036,435.2 1036.1,429.8 1036.1,424.4 1036.2,418.9 1036.3,413.5 1036.3,408.1 1036.3,402.6 1036.3,397.2 1036.3,391.8 1036.3,386.3 1036.3,380.9 1036.3,375.5 1036.3,370 1036.3,364.6 1036.3,359.2 1036.3,353.7 1036.3,348.3 1036.3,342.9 1036.3,337.4 1036.3,332 1036.3,326.6 1036.3,321.1 1036.3,315.7 1036.3,310.3 1036.2,304.8 1036.1,299.4 1036,293.9 1035.9,288.5 1035.8,283.1 1035.7,277.6 1035.5,272.2 1035.4,266.8 1035.2,261.3 1035.1,255.9 1034.9,250.5 1034.8,245 1034.6,239.6 1034.4,234.2 1034.2,228.7 1034.1,223.3 1033.9,217.9 1033.7,212.4 1033.6,207" fill="#FF0000" class="vp"/>
<line x1="1030.3" y1="207" x2="1030.3" y2="587.4" stroke="#000" stroke-width="2.3"/>
<ellipse cx="1030.3" cy="357.6" rx="5.2" ry="4.6" fill="#fff"/>
<line x1="1017.5" y1="207.3" x2="1027.9" y2="207.3" class="ln"/>
<text transform="translate(1022.7,199.1) scale(1,1.04)" font-size="16.5" text-anchor="middle" class="t">p=0.020</text>
<text transform="translate(1020.9,788.8) rotate(-45) scale(1,1.04)" font-size="19.9" text-anchor="end" class="t">MDSC</text>
<polygon points="1059.3,300 1059.1,303.9 1058.9,307.8 1058.8,311.7 1058.6,315.6 1058.4,319.5 1058.2,323.4 1058,327.3 1057.8,331.2 1057.6,335.1 1057.4,339 1057.3,342.9 1057.1,346.8 1056.9,350.7 1056.7,354.6 1056.5,358.5 1056.3,362.4 1056.2,366.3 1056,370.2 1055.8,374.1 1055.7,378 1055.5,381.9 1055.4,385.8 1055.3,389.7 1055.2,393.6 1055.1,397.5 1055,401.4 1055,405.3 1055,409.2 1055,413.1 1055,417 1055,420.9 1055,424.8 1055,428.7 1055,432.6 1055,436.5 1055,440.4 1055,444.3 1055.1,448.2 1055.2,452.1 1055.4,456 1055.5,459.9 1055.7,463.8 1055.9,467.7 1056.1,471.6 1056.3,475.5 1056.5,479.4 1056.8,483.3 1057,487.2 1057.2,491.1 1057.5,495 1057.7,498.9 1057.9,502.8 1058.2,506.7 1058.4,510.6 1058.6,514.5 1058.8,518.4 1059.1,522.3 1059.3,526.2 1059.4,530.1 1059.6,534 1059.8,537.9 1059.9,541.8 1060.1,545.7 1060.2,549.6 1060.2,553.5 1060.2,557.4 1060.2,561.3 1060.2,565.2 1060.2,569.1 1060.2,573 1061.8,573 1061.8,569.1 1061.8,565.2 1061.8,561.3 1061.8,557.4 1061.8,553.5 1061.8,549.6 1061.9,545.7 1062,541.8 1062.2,537.9 1062.3,534 1062.5,530.1 1062.7,526.2 1062.9,522.3 1063.1,518.4 1063.3,514.5 1063.5,510.6 1063.8,506.7 1064,502.8 1064.2,498.9 1064.5,495 1064.7,491.1 1065,487.2 1065.2,483.3 1065.4,479.4 1065.6,475.5 1065.8,471.6 1066,467.7 1066.2,463.8 1066.4,459.9 1066.6,456 1066.7,452.1 1066.8,448.2 1067,444.3 1067,440.4 1067,436.5 1067,432.6 1067,428.7 1067,424.8 1067,420.9 1067,417 1067,413.1 1067,409.2 1067,405.3 1067,401.4 1066.9,397.5 1066.8,393.6 1066.7,389.7 1066.5,385.8 1066.4,381.9 1066.3,378 1066.1,374.1 1066,370.2 1065.8,366.3 1065.6,362.4 1065.4,358.5 1065.3,354.6 1065.1,350.7 1064.9,346.8 1064.7,342.9 1064.5,339 1064.3,335.1 1064.1,331.2 1063.9,327.3 1063.7,323.4 1063.5,319.5 1063.4,315.6 1063.2,311.7 1063,307.8 1062.8,303.9 1062.7,300" fill="#0000FF" class="vp"/>
<line x1="1061" y1="300" x2="1061" y2="573" stroke="#000" stroke-width="2.3"/>
<ellipse cx="1061" cy="436.6" rx="5.2" ry="4.6" fill="#fff"/>
<polygon points="1075.4,258.6 1075.4,262.6 1075.4,266.5 1075.4,270.5 1075.4,274.5 1075.3,278.4 1075.1,282.4 1075,286.3 1074.8,290.3 1074.7,294.3 1074.5,298.2 1074.3,302.2 1074.1,306.2 1073.9,310.1 1073.7,314.1 1073.5,318 1073.3,322 1073.1,326 1072.9,329.9 1072.6,333.9 1072.4,337.9 1072.2,341.8 1072,345.8 1071.8,349.7 1071.6,353.7 1071.4,357.7 1071.2,361.6 1071,365.6 1070.9,369.6 1070.7,373.5 1070.6,377.5 1070.4,381.4 1070.3,385.4 1070.2,389.4 1070.2,393.3 1070.2,397.3 1070.2,401.3 1070.2,405.2 1070.2,409.2 1070.2,413.2 1070.2,417.1 1070.2,421.1 1070.2,425 1070.2,429 1070.2,433 1070.2,436.9 1070.3,440.9 1070.4,444.9 1070.5,448.8 1070.6,452.8 1070.7,456.7 1070.9,460.7 1071,464.7 1071.2,468.6 1071.3,472.6 1071.5,476.6 1071.6,480.5 1071.8,484.5 1071.9,488.4 1072.1,492.4 1072.3,496.4 1072.5,500.3 1072.6,504.3 1072.8,508.3 1073,512.2 1073.2,516.2 1073.3,520.1 1073.5,524.1 1073.7,528.1 1073.9,532 1074,536 1078.4,536 1078.6,532 1078.8,528.1 1078.9,524.1 1079.1,520.1 1079.3,516.2 1079.4,512.2 1079.6,508.3 1079.8,504.3 1080,500.3 1080.2,496.4 1080.3,492.4 1080.5,488.4 1080.7,484.5 1080.8,480.5 1081,476.6 1081.1,472.6 1081.3,468.6 1081.4,464.7 1081.6,460.7 1081.7,456.7 1081.8,452.8 1081.9,448.8 1082,444.9 1082.1,440.9 1082.2,436.9 1082.2,433 1082.2,429 1082.2,425 1082.2,421.1 1082.2,417.1 1082.2,413.2 1082.2,409.2 1082.2,405.2 1082.2,401.3 1082.2,397.3 1082.2,393.3 1082.2,389.4 1082.1,385.4 1082,381.4 1081.9,377.5 1081.7,373.5 1081.6,369.6 1081.4,365.6 1081.2,361.6 1081.1,357.7 1080.9,353.7 1080.7,349.7 1080.4,345.8 1080.2,341.8 1080,337.9 1079.8,333.9 1079.6,329.9 1079.4,326 1079.1,322 1078.9,318 1078.7,314.1 1078.5,310.1 1078.3,306.2 1078.1,302.2 1077.9,298.2 1077.8,294.3 1077.6,290.3 1077.4,286.3 1077.3,282.4 1077.2,278.4 1077.1,274.5 1077,270.5 1077,266.5 1077,262.6 1077,258.6" fill="#FF0000" class="vp"/>
<line x1="1076.2" y1="258.6" x2="1076.2" y2="536" stroke="#000" stroke-width="2.3"/>
<ellipse cx="1076.2" cy="406" rx="5.2" ry="4.6" fill="#fff"/>
<line x1="1063.4" y1="258.9" x2="1073.8" y2="258.9" class="ln"/>
<text transform="translate(1068.6,250.7) scale(1,1.04)" font-size="16.5" text-anchor="middle" class="t">p=0.269</text>
<text transform="translate(1066.8,788.8) rotate(-45) scale(1,1.04)" font-size="19.9" text-anchor="end" class="t">Macrophage</text>
<polygon points="1105.6,283.4 1105.5,287.7 1105.4,291.9 1105.2,296.2 1105,300.5 1104.9,304.8 1104.7,309 1104.5,313.3 1104.3,317.6 1104.1,321.8 1103.9,326.1 1103.7,330.4 1103.5,334.7 1103.3,338.9 1103.1,343.2 1102.9,347.5 1102.7,351.7 1102.5,356 1102.3,360.3 1102.2,364.6 1102,368.8 1101.8,373.1 1101.7,377.4 1101.5,381.6 1101.4,385.9 1101.2,390.2 1101.1,394.5 1101,398.7 1100.9,403 1100.8,407.3 1100.8,411.5 1100.8,415.8 1100.8,420.1 1100.8,424.4 1100.8,428.6 1100.8,432.9 1100.8,437.2 1100.8,441.4 1100.8,445.7 1100.8,450 1100.8,454.3 1100.9,458.5 1101,462.8 1101.1,467.1 1101.2,471.3 1101.3,475.6 1101.5,479.9 1101.6,484.2 1101.8,488.4 1102,492.7 1102.1,497 1102.3,501.2 1102.5,505.5 1102.7,509.8 1102.8,514.1 1103,518.3 1103.2,522.6 1103.4,526.9 1103.6,531.1 1103.8,535.4 1104,539.7 1104.2,544 1104.4,548.2 1104.6,552.5 1104.7,556.8 1104.9,561 1105.1,565.3 1105.2,569.6 1105.4,573.9 1105.5,578.1 1105.6,582.4 1108,582.4 1108.2,578.1 1108.3,573.9 1108.5,569.6 1108.6,565.3 1108.8,561 1109,556.8 1109.1,552.5 1109.3,548.2 1109.5,544 1109.7,539.7 1109.9,535.4 1110.1,531.1 1110.3,526.9 1110.5,522.6 1110.6,518.3 1110.8,514.1 1111,509.8 1111.2,505.5 1111.4,501.2 1111.6,497 1111.7,492.7 1111.9,488.4 1112,484.2 1112.2,479.9 1112.3,475.6 1112.5,471.3 1112.6,467.1 1112.7,462.8 1112.8,458.5 1112.8,454.3 1112.8,450 1112.8,445.7 1112.8,441.4 1112.8,437.2 1112.8,432.9 1112.8,428.6 1112.8,424.4 1112.8,420.1 1112.8,415.8 1112.8,411.5 1112.8,407.3 1112.8,403 1112.7,398.7 1112.6,394.5 1112.5,390.2 1112.3,385.9 1112.2,381.6 1112,377.4 1111.9,373.1 1111.7,368.8 1111.5,364.6 1111.3,360.3 1111.1,356 1111,351.7 1110.8,347.5 1110.6,343.2 1110.4,338.9 1110.2,334.7 1110,330.4 1109.8,326.1 1109.6,321.8 1109.4,317.6 1109.2,313.3 1109,309 1108.8,304.8 1108.6,300.5 1108.5,296.2 1108.3,291.9 1108.2,287.7 1108,283.4" fill="#0000FF" class="vp"/>
<line x1="1106.8" y1="283.4" x2="1106.8" y2="582.4" stroke="#000" stroke-width="2.3"/>
<ellipse cx="1106.8" cy="437" rx="5.2" ry="4.6" fill="#fff"/>
<polygon points="1120.4,276 1120.1,280.4 1119.7,284.8 1119.4,289.2 1119,293.6 1118.7,298 1118.3,302.3 1117.9,306.7 1117.6,311.1 1117.3,315.5 1116.9,319.9 1116.7,324.3 1116.4,328.7 1116.2,333.1 1116.1,337.5 1116.1,341.9 1116.1,346.3 1116.1,350.7 1116.1,355 1116.1,359.4 1116.1,363.8 1116.1,368.2 1116.1,372.6 1116.2,377 1116.3,381.4 1116.4,385.8 1116.5,390.2 1116.7,394.6 1116.9,399 1117,403.4 1117.2,407.7 1117.4,412.1 1117.6,416.5 1117.8,420.9 1118,425.3 1118.2,429.7 1118.4,434.1 1118.7,438.5 1118.9,442.9 1119.1,447.3 1119.3,451.7 1119.5,456 1119.7,460.4 1119.9,464.8 1120.1,469.2 1120.3,473.6 1120.5,478 1120.6,482.4 1120.8,486.8 1120.9,491.2 1121.1,495.6 1121.2,500 1121.3,504.4 1121.3,508.7 1121.3,513.1 1121.3,517.5 1121.3,521.9 1121.3,526.3 1121.3,530.7 1121.3,535.1 1121.3,539.5 1121.3,543.9 1121.3,548.3 1121.3,552.7 1121.3,557.1 1121.3,561.4 1121.3,565.8 1121.3,570.2 1121.3,574.6 1121.3,579 1121.3,583.4 1122.9,583.4 1122.9,579 1122.9,574.6 1122.9,570.2 1122.9,565.8 1122.9,561.4 1122.9,557.1 1122.9,552.7 1122.9,548.3 1122.9,543.9 1122.9,539.5 1122.9,535.1 1122.9,530.7 1122.9,526.3 1122.9,521.9 1122.9,517.5 1122.9,513.1 1122.9,508.7 1122.9,504.4 1123,500 1123.1,495.6 1123.2,491.2 1123.4,486.8 1123.5,482.4 1123.7,478 1123.9,473.6 1124.1,469.2 1124.3,464.8 1124.5,460.4 1124.7,456 1124.9,451.7 1125.1,447.3 1125.3,442.9 1125.5,438.5 1125.7,434.1 1126,429.7 1126.2,425.3 1126.4,420.9 1126.6,416.5 1126.8,412.1 1127,407.7 1127.2,403.4 1127.3,399 1127.5,394.6 1127.6,390.2 1127.8,385.8 1127.9,381.4 1128,377 1128.1,372.6 1128.1,368.2 1128.1,363.8 1128.1,359.4 1128.1,355 1128.1,350.7 1128.1,346.3 1128.1,341.9 1128.1,337.5 1128,333.1 1127.8,328.7 1127.5,324.3 1127.2,319.9 1126.9,315.5 1126.6,311.1 1126.2,306.7 1125.9,302.3 1125.5,298 1125.2,293.6 1124.8,289.2 1124.4,284.8 1124.1,280.4 1123.8,276" fill="#FF0000" class="vp"/>
<line x1="1122.1" y1="276" x2="1122.1" y2="583.4" stroke="#000" stroke-width="2.3"/>
<ellipse cx="1122.1" cy="375" rx="5.2" ry="4.6" fill="#fff"/>
<line x1="1109.2" y1="276.3" x2="1119.7" y2="276.3" class="ln"/>
<text transform="translate(1114.5,268.1) scale(1,1.04)" font-size="16.5" text-anchor="middle" class="t">p=0.007</text>
<text transform="translate(1112.7,788.8) rotate(-45) scale(1,1.04)" font-size="19.9" text-anchor="end" class="t">Mast.cell</text>
<polygon points="1151.9,216.6 1151.9,221.8 1151.9,226.9 1151.9,232.1 1151.9,237.3 1151.9,242.4 1151.9,247.6 1151.7,252.7 1151.5,257.9 1151.4,263.1 1151.1,268.2 1150.9,273.4 1150.7,278.6 1150.4,283.7 1150.2,288.9 1149.9,294 1149.6,299.2 1149.3,304.4 1149,309.5 1148.8,314.7 1148.5,319.9 1148.2,325 1148,330.2 1147.7,335.3 1147.5,340.5 1147.3,345.7 1147.1,350.8 1146.9,356 1146.8,361.2 1146.7,366.3 1146.7,371.5 1146.7,376.6 1146.7,381.8 1146.7,387 1146.7,392.1 1146.7,397.3 1146.7,402.5 1146.7,407.6 1146.7,412.8 1146.7,418 1146.8,423.1 1146.9,428.3 1147,433.4 1147.1,438.6 1147.2,443.8 1147.4,448.9 1147.5,454.1 1147.7,459.3 1147.8,464.4 1148,469.6 1148.1,474.7 1148.3,479.9 1148.5,485.1 1148.7,490.2 1148.9,495.4 1149,500.6 1149.2,505.7 1149.4,510.9 1149.6,516 1149.8,521.2 1150,526.4 1150.1,531.5 1150.3,536.7 1150.5,541.9 1150.6,547 1150.8,552.2 1151,557.3 1151.1,562.5 1151.3,567.7 1151.4,572.8 1151.5,578 1153.9,578 1154,572.8 1154.2,567.7 1154.3,562.5 1154.5,557.3 1154.6,552.2 1154.8,547 1154.9,541.9 1155.1,536.7 1155.3,531.5 1155.5,526.4 1155.6,521.2 1155.8,516 1156,510.9 1156.2,505.7 1156.4,500.6 1156.6,495.4 1156.7,490.2 1156.9,485.1 1157.1,479.9 1157.3,474.7 1157.4,469.6 1157.6,464.4 1157.8,459.3 1157.9,454.1 1158,448.9 1158.2,443.8 1158.3,438.6 1158.4,433.4 1158.5,428.3 1158.6,423.1 1158.7,418 1158.7,412.8 1158.7,407.6 1158.7,402.5 1158.7,397.3 1158.7,392.1 1158.7,387 1158.7,381.8 1158.7,376.6 1158.7,371.5 1158.7,366.3 1158.6,361.2 1158.5,356 1158.3,350.8 1158.1,345.7 1157.9,340.5 1157.7,335.3 1157.5,330.2 1157.2,325 1156.9,319.9 1156.7,314.7 1156.4,309.5 1156.1,304.4 1155.8,299.2 1155.5,294 1155.3,288.9 1155,283.7 1154.7,278.6 1154.5,273.4 1154.3,268.2 1154.1,263.1 1153.9,257.9 1153.7,252.7 1153.6,247.6 1153.5,242.4 1153.5,237.3 1153.5,232.1 1153.5,226.9 1153.5,221.8 1153.5,216.6" fill="#0000FF" class="vp"/>
<line x1="1152.7" y1="216.6" x2="1152.7" y2="578" stroke="#000" stroke-width="2.3"/>
<ellipse cx="1152.7" cy="384.6" rx="5.2" ry="4.6" fill="#fff"/>
<polygon points="1167.2,258.6 1167.2,263.2 1167.2,267.7 1167.2,272.3 1167.1,276.9 1167,281.4 1166.8,286 1166.7,290.5 1166.5,295.1 1166.3,299.7 1166.1,304.2 1165.9,308.8 1165.6,313.4 1165.4,317.9 1165.1,322.5 1164.9,327 1164.6,331.6 1164.3,336.2 1164.1,340.7 1163.8,345.3 1163.6,349.9 1163.3,354.4 1163.1,359 1162.9,363.5 1162.7,368.1 1162.5,372.7 1162.3,377.2 1162.2,381.8 1162,386.4 1162,390.9 1162,395.5 1162,400 1162,404.6 1162,409.2 1162,413.7 1162,418.3 1162,422.9 1162,427.4 1162,432 1162,436.6 1162,441.1 1162,445.7 1162,450.2 1162.1,454.8 1162.2,459.4 1162.3,463.9 1162.4,468.5 1162.5,473.1 1162.6,477.6 1162.7,482.2 1162.9,486.7 1163,491.3 1163.1,495.9 1163.2,500.4 1163.4,505 1163.5,509.6 1163.7,514.1 1163.8,518.7 1164,523.2 1164.1,527.8 1164.3,532.4 1164.4,536.9 1164.6,541.5 1164.7,546.1 1164.9,550.6 1165,555.2 1165.2,559.7 1165.3,564.3 1165.5,568.9 1165.6,573.4 1165.8,578 1170.2,578 1170.3,573.4 1170.4,568.9 1170.6,564.3 1170.7,559.7 1170.9,555.2 1171,550.6 1171.2,546.1 1171.3,541.5 1171.5,536.9 1171.7,532.4 1171.8,527.8 1172,523.2 1172.1,518.7 1172.3,514.1 1172.4,509.6 1172.5,505 1172.7,500.4 1172.8,495.9 1172.9,491.3 1173.1,486.7 1173.2,482.2 1173.3,477.6 1173.4,473.1 1173.5,468.5 1173.6,463.9 1173.7,459.4 1173.8,454.8 1173.9,450.2 1173.9,445.7 1174,441.1 1174,436.6 1174,432 1174,427.4 1174,422.9 1174,418.3 1174,413.7 1174,409.2 1174,404.6 1174,400 1174,395.5 1174,390.9 1173.9,386.4 1173.7,381.8 1173.6,377.2 1173.4,372.7 1173.2,368.1 1173,363.5 1172.8,359 1172.6,354.4 1172.3,349.9 1172.1,345.3 1171.8,340.7 1171.6,336.2 1171.3,331.6 1171.1,327 1170.8,322.5 1170.6,317.9 1170.3,313.4 1170.1,308.8 1169.8,304.2 1169.6,299.7 1169.4,295.1 1169.2,290.5 1169.1,286 1168.9,281.4 1168.8,276.9 1168.8,272.3 1168.8,267.7 1168.8,263.2 1168.8,258.6" fill="#FF0000" class="vp"/>
<line x1="1168" y1="258.6" x2="1168" y2="578" stroke="#000" stroke-width="2.3"/>
<ellipse cx="1168" cy="413.4" rx="5.2" ry="4.6" fill="#fff"/>
<line x1="1155.1" y1="216.9" x2="1165.6" y2="216.9" class="ln"/>
<text transform="translate(1160.3,208.7) scale(1,1.04)" font-size="16.5" text-anchor="middle" class="t">p=0.208</text>
<text transform="translate(1158.5,788.8) rotate(-45) scale(1,1.04)" font-size="19.9" text-anchor="end" class="t">Monocyte</text>
<polygon points="1197.8,273 1197.7,276.9 1197.6,280.8 1197.5,284.6 1197.4,288.5 1197.3,292.4 1197.1,296.3 1197,300.1 1196.8,304 1196.7,307.9 1196.5,311.8 1196.3,315.6 1196.1,319.5 1196,323.4 1195.8,327.3 1195.6,331.2 1195.4,335 1195.2,338.9 1195,342.8 1194.8,346.7 1194.7,350.5 1194.5,354.4 1194.3,358.3 1194.1,362.2 1193.9,366.1 1193.8,369.9 1193.6,373.8 1193.5,377.7 1193.3,381.6 1193.2,385.4 1193,389.3 1192.9,393.2 1192.8,397.1 1192.7,400.9 1192.6,404.8 1192.6,408.7 1192.6,412.6 1192.6,416.5 1192.6,420.3 1192.6,424.2 1192.6,428.1 1192.6,432 1192.6,435.8 1192.6,439.7 1192.6,443.6 1192.6,447.5 1192.6,451.3 1192.7,455.2 1192.8,459.1 1192.9,463 1193,466.9 1193.2,470.7 1193.4,474.6 1193.5,478.5 1193.7,482.4 1193.9,486.2 1194.1,490.1 1194.3,494 1194.5,497.9 1194.7,501.8 1194.9,505.6 1195.1,509.5 1195.3,513.4 1195.5,517.3 1195.7,521.1 1195.9,525 1196.1,528.9 1196.3,532.8 1196.5,536.6 1196.7,540.5 1196.9,544.4 1200.3,544.4 1200.5,540.5 1200.6,536.6 1200.8,532.8 1201,528.9 1201.2,525 1201.4,521.1 1201.6,517.3 1201.9,513.4 1202.1,509.5 1202.3,505.6 1202.5,501.8 1202.7,497.9 1202.9,494 1203.1,490.1 1203.3,486.2 1203.5,482.4 1203.6,478.5 1203.8,474.6 1204,470.7 1204.1,466.9 1204.3,463 1204.4,459.1 1204.5,455.2 1204.6,451.3 1204.6,447.5 1204.6,443.6 1204.6,439.7 1204.6,435.8 1204.6,432 1204.6,428.1 1204.6,424.2 1204.6,420.3 1204.6,416.5 1204.6,412.6 1204.6,408.7 1204.5,404.8 1204.5,400.9 1204.4,397.1 1204.2,393.2 1204.1,389.3 1204,385.4 1203.9,381.6 1203.7,377.7 1203.6,373.8 1203.4,369.9 1203.2,366.1 1203,362.2 1202.9,358.3 1202.7,354.4 1202.5,350.5 1202.3,346.7 1202.1,342.8 1201.9,338.9 1201.8,335 1201.6,331.2 1201.4,327.3 1201.2,323.4 1201,319.5 1200.8,315.6 1200.7,311.8 1200.5,307.9 1200.3,304 1200.2,300.1 1200,296.3 1199.9,292.4 1199.8,288.5 1199.7,284.6 1199.6,280.8 1199.5,276.9 1199.4,273" fill="#0000FF" class="vp"/>
<line x1="1198.6" y1="273" x2="1198.6" y2="544.4" stroke="#000" stroke-width="2.3"/>
<ellipse cx="1198.6" cy="433" rx="5.2" ry="4.6" fill="#fff"/>
<polygon points="1211.1,273.6 1211,277.8 1210.8,282 1210.7,286.2 1210.6,290.4 1210.4,294.6 1210.3,298.8 1210.1,303 1210,307.2 1209.8,311.4 1209.7,315.6 1209.5,319.8 1209.4,324 1209.3,328.2 1209.1,332.4 1209,336.6 1208.9,340.8 1208.8,345 1208.6,349.2 1208.5,353.4 1208.4,357.6 1208.3,361.8 1208.2,366 1208.1,370.2 1208,374.4 1208,378.6 1207.9,382.8 1207.8,387 1207.8,391.2 1207.8,395.4 1207.8,399.6 1207.8,403.8 1207.8,408 1207.8,412.2 1207.8,416.4 1207.8,420.6 1207.8,424.8 1207.8,429 1207.8,433.2 1207.8,437.4 1207.8,441.6 1207.8,445.8 1207.8,450 1207.8,454.2 1207.9,458.4 1207.9,462.6 1208,466.8 1208,471 1208.1,475.2 1208.2,479.4 1208.3,483.6 1208.4,487.8 1208.5,492 1208.6,496.2 1208.7,500.4 1208.8,504.6 1208.9,508.8 1209,513 1209.1,517.2 1209.2,521.4 1209.3,525.6 1209.5,529.8 1209.6,534 1209.7,538.2 1209.8,542.4 1210,546.6 1210.1,550.8 1210.2,555 1210.4,559.2 1210.5,563.4 1210.6,567.6 1217,567.6 1217.2,563.4 1217.3,559.2 1217.4,555 1217.6,550.8 1217.7,546.6 1217.8,542.4 1217.9,538.2 1218.1,534 1218.2,529.8 1218.3,525.6 1218.4,521.4 1218.6,517.2 1218.7,513 1218.8,508.8 1218.9,504.6 1219,500.4 1219.1,496.2 1219.2,492 1219.3,487.8 1219.4,483.6 1219.5,479.4 1219.5,475.2 1219.6,471 1219.7,466.8 1219.8,462.6 1219.8,458.4 1219.8,454.2 1219.8,450 1219.8,445.8 1219.8,441.6 1219.8,437.4 1219.8,433.2 1219.8,429 1219.8,424.8 1219.8,420.6 1219.8,416.4 1219.8,412.2 1219.8,408 1219.8,403.8 1219.8,399.6 1219.8,395.4 1219.8,391.2 1219.8,387 1219.8,382.8 1219.7,378.6 1219.6,374.4 1219.5,370.2 1219.4,366 1219.3,361.8 1219.2,357.6 1219.1,353.4 1219,349.2 1218.9,345 1218.8,340.8 1218.7,336.6 1218.5,332.4 1218.4,328.2 1218.3,324 1218.1,319.8 1218,315.6 1217.8,311.4 1217.7,307.2 1217.5,303 1217.4,298.8 1217.3,294.6 1217.1,290.4 1217,286.2 1216.8,282 1216.7,277.8 1216.5,273.6" fill="#FF0000" class="vp"/>
<line x1="1213.8" y1="273.6" x2="1213.8" y2="567.6" stroke="#000" stroke-width="2.3"/>
<ellipse cx="1213.8" cy="425" rx="5.2" ry="4.6" fill="#fff"/>
<line x1="1201" y1="273.3" x2="1211.4" y2="273.3" class="ln"/>
<text transform="translate(1206.2,265.1) scale(1,1.04)" font-size="16.5" text-anchor="middle" class="t">p=0.884</text>
<text transform="translate(1204.4,788.8) rotate(-45) scale(1,1.04)" font-size="19.9" text-anchor="end" class="t">Natural.killer.T.cell</text>
<polygon points="1243.6,303.6 1243.6,306.9 1243.6,310.1 1243.6,313.4 1243.6,316.7 1243.6,319.9 1243.5,323.2 1243.4,326.4 1243.3,329.7 1243.1,333 1242.9,336.2 1242.7,339.5 1242.5,342.8 1242.3,346 1242,349.3 1241.8,352.5 1241.6,355.8 1241.3,359.1 1241.1,362.3 1240.8,365.6 1240.6,368.9 1240.3,372.1 1240.1,375.4 1239.9,378.6 1239.6,381.9 1239.4,385.2 1239.2,388.4 1239,391.7 1238.9,395 1238.7,398.2 1238.6,401.5 1238.5,404.7 1238.4,408 1238.4,411.3 1238.4,414.5 1238.4,417.8 1238.4,421.1 1238.4,424.3 1238.4,427.6 1238.4,430.9 1238.4,434.1 1238.4,437.4 1238.4,440.6 1238.5,443.9 1238.5,447.2 1238.6,450.4 1238.7,453.7 1238.8,457 1238.9,460.2 1239,463.5 1239.2,466.7 1239.3,470 1239.4,473.3 1239.6,476.5 1239.7,479.8 1239.9,483.1 1240,486.3 1240.2,489.6 1240.3,492.8 1240.5,496.1 1240.6,499.4 1240.8,502.6 1241,505.9 1241.1,509.2 1241.3,512.4 1241.5,515.7 1241.6,518.9 1241.8,522.2 1241.9,525.5 1242.1,528.7 1242.3,532 1246.6,532 1246.8,528.7 1247,525.5 1247.1,522.2 1247.3,518.9 1247.4,515.7 1247.6,512.4 1247.8,509.2 1247.9,505.9 1248.1,502.6 1248.3,499.4 1248.4,496.1 1248.6,492.8 1248.7,489.6 1248.9,486.3 1249,483.1 1249.2,479.8 1249.3,476.5 1249.5,473.3 1249.6,470 1249.7,466.7 1249.9,463.5 1250,460.2 1250.1,457 1250.2,453.7 1250.3,450.4 1250.4,447.2 1250.4,443.9 1250.4,440.6 1250.4,437.4 1250.4,434.1 1250.4,430.9 1250.4,427.6 1250.4,424.3 1250.4,421.1 1250.4,417.8 1250.4,414.5 1250.4,411.3 1250.4,408 1250.4,404.7 1250.3,401.5 1250.2,398.2 1250,395 1249.9,391.7 1249.7,388.4 1249.5,385.2 1249.3,381.9 1249,378.6 1248.8,375.4 1248.6,372.1 1248.3,368.9 1248.1,365.6 1247.8,362.3 1247.6,359.1 1247.3,355.8 1247.1,352.5 1246.9,349.3 1246.6,346 1246.4,342.8 1246.2,339.5 1246,336.2 1245.8,333 1245.6,329.7 1245.5,326.4 1245.4,323.2 1245.2,319.9 1245.2,316.7 1245.2,313.4 1245.2,310.1 1245.2,306.9 1245.2,303.6" fill="#0000FF" class="vp"/>
<line x1="1244.4" y1="303.6" x2="1244.4" y2="532" stroke="#000" stroke-width="2.3"/>
<ellipse cx="1244.4" cy="423.4" rx="5.2" ry="4.6" fill="#fff"/>
<polygon points="1256.5,304 1256.3,307.4 1256.1,310.7 1256,314.1 1255.8,317.5 1255.6,320.9 1255.4,324.2 1255.3,327.6 1255.1,331 1254.9,334.3 1254.8,337.7 1254.6,341.1 1254.5,344.5 1254.3,347.8 1254.2,351.2 1254.1,354.6 1254,357.9 1253.9,361.3 1253.8,364.7 1253.7,368.1 1253.7,371.4 1253.7,374.8 1253.7,378.2 1253.7,381.5 1253.7,384.9 1253.7,388.3 1253.7,391.7 1253.7,395 1253.7,398.4 1253.7,401.8 1253.7,405.1 1253.7,408.5 1253.7,411.9 1253.8,415.3 1253.8,418.6 1253.9,422 1254,425.4 1254.1,428.7 1254.3,432.1 1254.4,435.5 1254.5,438.9 1254.7,442.2 1254.8,445.6 1255,449 1255.1,452.3 1255.3,455.7 1255.4,459.1 1255.6,462.5 1255.8,465.8 1255.9,469.2 1256.1,472.6 1256.3,475.9 1256.5,479.3 1256.6,482.7 1256.8,486.1 1257,489.4 1257.1,492.8 1257.3,496.2 1257.5,499.5 1257.6,502.9 1257.8,506.3 1257.9,509.7 1258.1,513 1258.2,516.4 1258.3,519.8 1258.4,523.1 1258.5,526.5 1258.6,529.9 1258.7,533.3 1258.8,536.6 1258.9,540 1260.5,540 1260.6,536.6 1260.7,533.3 1260.8,529.9 1260.9,526.5 1261,523.1 1261.1,519.8 1261.2,516.4 1261.3,513 1261.5,509.7 1261.6,506.3 1261.8,502.9 1261.9,499.5 1262.1,496.2 1262.3,492.8 1262.4,489.4 1262.6,486.1 1262.8,482.7 1262.9,479.3 1263.1,475.9 1263.3,472.6 1263.5,469.2 1263.6,465.8 1263.8,462.5 1264,459.1 1264.1,455.7 1264.3,452.3 1264.4,449 1264.6,445.6 1264.7,442.2 1264.9,438.9 1265,435.5 1265.1,432.1 1265.3,428.7 1265.4,425.4 1265.5,422 1265.6,418.6 1265.6,415.3 1265.7,411.9 1265.7,408.5 1265.7,405.1 1265.7,401.8 1265.7,398.4 1265.7,395 1265.7,391.7 1265.7,388.3 1265.7,384.9 1265.7,381.5 1265.7,378.2 1265.7,374.8 1265.7,371.4 1265.7,368.1 1265.6,364.7 1265.5,361.3 1265.4,357.9 1265.3,354.6 1265.2,351.2 1265.1,347.8 1264.9,344.5 1264.8,341.1 1264.6,337.7 1264.5,334.3 1264.3,331 1264.1,327.6 1264,324.2 1263.8,320.9 1263.6,317.5 1263.4,314.1 1263.3,310.7 1263.1,307.4 1262.9,304" fill="#FF0000" class="vp"/>
<line x1="1259.7" y1="304" x2="1259.7" y2="540" stroke="#000" stroke-width="2.3"/>
<ellipse cx="1259.7" cy="397" rx="5.2" ry="4.6" fill="#fff"/>
<line x1="1246.8" y1="303.9" x2="1257.3" y2="303.9" class="ln"/>
<text transform="translate(1252.1,295.7) scale(1,1.04)" font-size="16.5" text-anchor="middle" class="t">p=0.028</text>
<text transform="translate(1250.3,788.8) rotate(-45) scale(1,1.04)" font-size="19.9" text-anchor="end" class="t">Natural.killer.cell</text>
<polygon points="1289.1,187.4 1289,193.5 1288.9,199.6 1288.7,205.8 1288.6,211.9 1288.5,218 1288.3,224.1 1288.2,230.3 1288,236.4 1287.8,242.5 1287.7,248.6 1287.5,254.8 1287.3,260.9 1287.2,267 1287,273.1 1286.8,279.2 1286.6,285.4 1286.5,291.5 1286.3,297.6 1286.1,303.7 1286,309.9 1285.8,316 1285.6,322.1 1285.5,328.2 1285.3,334.3 1285.2,340.5 1285,346.6 1284.9,352.7 1284.8,358.8 1284.7,365 1284.6,371.1 1284.5,377.2 1284.4,383.3 1284.3,389.5 1284.3,395.6 1284.3,401.7 1284.3,407.8 1284.3,413.9 1284.3,420.1 1284.3,426.2 1284.3,432.3 1284.3,438.4 1284.3,444.6 1284.3,450.7 1284.3,456.8 1284.3,462.9 1284.3,469.1 1284.4,475.2 1284.5,481.3 1284.6,487.4 1284.7,493.5 1284.9,499.7 1285,505.8 1285.1,511.9 1285.3,518 1285.4,524.2 1285.6,530.3 1285.8,536.4 1285.9,542.5 1286.1,548.6 1286.3,554.8 1286.5,560.9 1286.7,567 1286.9,573.1 1287,579.3 1287.2,585.4 1287.4,591.5 1287.6,597.6 1287.8,603.8 1287.9,609.9 1288.1,616 1292.5,616 1292.7,609.9 1292.9,603.8 1293,597.6 1293.2,591.5 1293.4,585.4 1293.6,579.3 1293.8,573.1 1294,567 1294.2,560.9 1294.3,554.8 1294.5,548.6 1294.7,542.5 1294.9,536.4 1295,530.3 1295.2,524.2 1295.4,518 1295.5,511.9 1295.6,505.8 1295.8,499.7 1295.9,493.5 1296,487.4 1296.1,481.3 1296.2,475.2 1296.3,469.1 1296.3,462.9 1296.3,456.8 1296.3,450.7 1296.3,444.6 1296.3,438.4 1296.3,432.3 1296.3,426.2 1296.3,420.1 1296.3,413.9 1296.3,407.8 1296.3,401.7 1296.3,395.6 1296.3,389.5 1296.2,383.3 1296.2,377.2 1296.1,371.1 1296,365 1295.8,358.8 1295.7,352.7 1295.6,346.6 1295.5,340.5 1295.3,334.3 1295.2,328.2 1295,322.1 1294.8,316 1294.7,309.9 1294.5,303.7 1294.4,297.6 1294.2,291.5 1294,285.4 1293.8,279.2 1293.7,273.1 1293.5,267 1293.3,260.9 1293.1,254.8 1293,248.6 1292.8,242.5 1292.6,236.4 1292.5,230.3 1292.3,224.1 1292.2,218 1292,211.9 1291.9,205.8 1291.8,199.6 1291.6,193.5 1291.5,187.4" fill="#0000FF" class="vp"/>
<line x1="1290.3" y1="187.4" x2="1290.3" y2="616" stroke="#000" stroke-width="2.3"/>
<ellipse cx="1290.3" cy="432" rx="5.2" ry="4.6" fill="#fff"/>
<polygon points="1301.9,199.6 1301.7,205.6 1301.6,211.6 1301.5,217.6 1301.4,223.6 1301.2,229.6 1301.1,235.5 1301,241.5 1300.9,247.5 1300.8,253.5 1300.7,259.5 1300.5,265.5 1300.4,271.5 1300.3,277.5 1300.2,283.5 1300.1,289.5 1300.1,295.5 1300,301.5 1299.9,307.4 1299.8,313.4 1299.7,319.4 1299.7,325.4 1299.6,331.4 1299.6,337.4 1299.6,343.4 1299.6,349.4 1299.6,355.4 1299.6,361.4 1299.6,367.4 1299.6,373.4 1299.6,379.3 1299.6,385.3 1299.6,391.3 1299.6,397.3 1299.6,403.3 1299.6,409.3 1299.6,415.3 1299.6,421.3 1299.6,427.3 1299.6,433.3 1299.6,439.3 1299.7,445.2 1299.7,451.2 1299.8,457.2 1299.9,463.2 1300,469.2 1300.1,475.2 1300.2,481.2 1300.3,487.2 1300.4,493.2 1300.6,499.2 1300.7,505.2 1300.8,511.2 1300.9,517.1 1301.1,523.1 1301.2,529.1 1301.4,535.1 1301.5,541.1 1301.6,547.1 1301.8,553.1 1301.9,559.1 1302.1,565.1 1302.2,571.1 1302.4,577.1 1302.5,583.1 1302.7,589 1302.8,595 1303,601 1303.1,607 1303.2,613 1303.4,619 1307.8,619 1307.9,613 1308,607 1308.2,601 1308.3,595 1308.5,589 1308.6,583.1 1308.8,577.1 1308.9,571.1 1309.1,565.1 1309.2,559.1 1309.4,553.1 1309.5,547.1 1309.6,541.1 1309.8,535.1 1309.9,529.1 1310.1,523.1 1310.2,517.1 1310.3,511.2 1310.5,505.2 1310.6,499.2 1310.7,493.2 1310.8,487.2 1310.9,481.2 1311,475.2 1311.1,469.2 1311.2,463.2 1311.3,457.2 1311.4,451.2 1311.5,445.2 1311.5,439.3 1311.6,433.3 1311.6,427.3 1311.6,421.3 1311.6,415.3 1311.6,409.3 1311.6,403.3 1311.6,397.3 1311.6,391.3 1311.6,385.3 1311.6,379.3 1311.6,373.4 1311.6,367.4 1311.6,361.4 1311.6,355.4 1311.6,349.4 1311.6,343.4 1311.6,337.4 1311.5,331.4 1311.5,325.4 1311.4,319.4 1311.3,313.4 1311.2,307.4 1311.2,301.5 1311.1,295.5 1311,289.5 1310.9,283.5 1310.8,277.5 1310.7,271.5 1310.6,265.5 1310.5,259.5 1310.4,253.5 1310.3,247.5 1310.1,241.5 1310,235.5 1309.9,229.6 1309.8,223.6 1309.7,217.6 1309.5,211.6 1309.4,205.6 1309.3,199.6" fill="#FF0000" class="vp"/>
<line x1="1305.6" y1="199.6" x2="1305.6" y2="619" stroke="#000" stroke-width="2.3"/>
<ellipse cx="1305.6" cy="384" rx="5.2" ry="4.6" fill="#fff"/>
<line x1="1292.7" y1="187.7" x2="1303.2" y2="187.7" class="ln"/>
<text transform="translate(1297.9,179.5) scale(1,1.04)" font-size="16.5" text-anchor="middle" class="t">p=0.195</text>
<text transform="translate(1296.1,788.8) rotate(-45) scale(1,1.04)" font-size="19.9" text-anchor="end" class="t">Neutrophil</text>
<polygon points="1335,308.6 1334.8,312.3 1334.7,315.9 1334.5,319.6 1334.4,323.3 1334.2,326.9 1334,330.6 1333.8,334.3 1333.6,337.9 1333.4,341.6 1333.2,345.3 1333,349 1332.8,352.6 1332.6,356.3 1332.4,360 1332.2,363.6 1332,367.3 1331.8,371 1331.6,374.6 1331.4,378.3 1331.2,382 1331,385.6 1330.9,389.3 1330.7,393 1330.6,396.6 1330.5,400.3 1330.3,404 1330.2,407.7 1330.2,411.3 1330.2,415 1330.2,418.7 1330.2,422.3 1330.2,426 1330.2,429.7 1330.2,433.3 1330.2,437 1330.2,440.7 1330.2,444.3 1330.2,448 1330.2,451.7 1330.2,455.3 1330.3,459 1330.4,462.7 1330.4,466.3 1330.5,470 1330.7,473.7 1330.8,477.4 1330.9,481 1331,484.7 1331.2,488.4 1331.3,492 1331.5,495.7 1331.6,499.4 1331.8,503 1331.9,506.7 1332.1,510.4 1332.3,514 1332.4,517.7 1332.6,521.4 1332.8,525 1332.9,528.7 1333.1,532.4 1333.3,536.1 1333.4,539.7 1333.6,543.4 1333.7,547.1 1333.9,550.7 1334.1,554.4 1334.2,558.1 1334.4,561.7 1334.5,565.4 1337.9,565.4 1338,561.7 1338.2,558.1 1338.3,554.4 1338.5,550.7 1338.6,547.1 1338.8,543.4 1339,539.7 1339.1,536.1 1339.3,532.4 1339.5,528.7 1339.6,525 1339.8,521.4 1340,517.7 1340.1,514 1340.3,510.4 1340.5,506.7 1340.6,503 1340.8,499.4 1340.9,495.7 1341.1,492 1341.2,488.4 1341.4,484.7 1341.5,481 1341.6,477.4 1341.7,473.7 1341.8,470 1341.9,466.3 1342,462.7 1342.1,459 1342.2,455.3 1342.2,451.7 1342.2,448 1342.2,444.3 1342.2,440.7 1342.2,437 1342.2,433.3 1342.2,429.7 1342.2,426 1342.2,422.3 1342.2,418.7 1342.2,415 1342.2,411.3 1342.1,407.7 1342,404 1341.9,400.3 1341.8,396.6 1341.7,393 1341.5,389.3 1341.3,385.6 1341.2,382 1341,378.3 1340.8,374.6 1340.6,371 1340.4,367.3 1340.2,363.6 1340,360 1339.8,356.3 1339.6,352.6 1339.4,349 1339.2,345.3 1339,341.6 1338.8,337.9 1338.6,334.3 1338.4,330.6 1338.2,326.9 1338,323.3 1337.8,319.6 1337.7,315.9 1337.5,312.3 1337.4,308.6" fill="#0000FF" class="vp"/>
<line x1="1336.2" y1="308.6" x2="1336.2" y2="565.4" stroke="#000" stroke-width="2.3"/>
<ellipse cx="1336.2" cy="443" rx="5.2" ry="4.6" fill="#fff"/>
<polygon points="1349.7,288 1349.6,291.6 1349.4,295.1 1349.2,298.7 1349,302.3 1348.8,305.8 1348.6,309.4 1348.4,313 1348.2,316.5 1348,320.1 1347.8,323.7 1347.6,327.2 1347.4,330.8 1347.2,334.4 1347,337.9 1346.8,341.5 1346.6,345.1 1346.4,348.6 1346.3,352.2 1346.1,355.7 1346,359.3 1345.8,362.9 1345.7,366.4 1345.6,370 1345.5,373.6 1345.4,377.1 1345.4,380.7 1345.4,384.3 1345.4,387.8 1345.4,391.4 1345.4,395 1345.4,398.5 1345.4,402.1 1345.4,405.7 1345.4,409.2 1345.4,412.8 1345.5,416.4 1345.6,419.9 1345.7,423.5 1345.9,427.1 1346,430.6 1346.2,434.2 1346.4,437.8 1346.5,441.3 1346.7,444.9 1346.9,448.5 1347.1,452 1347.4,455.6 1347.6,459.2 1347.8,462.7 1348,466.3 1348.2,469.9 1348.4,473.4 1348.7,477 1348.9,480.5 1349.1,484.1 1349.3,487.7 1349.5,491.2 1349.7,494.8 1349.8,498.4 1350,501.9 1350.2,505.5 1350.3,509.1 1350.4,512.6 1350.5,516.2 1350.6,519.8 1350.6,523.3 1350.6,526.9 1350.6,530.5 1350.6,534 1350.6,537.6 1352.2,537.6 1352.2,534 1352.2,530.5 1352.2,526.9 1352.2,523.3 1352.2,519.8 1352.3,516.2 1352.5,512.6 1352.6,509.1 1352.7,505.5 1352.9,501.9 1353,498.4 1353.2,494.8 1353.4,491.2 1353.6,487.7 1353.8,484.1 1354,480.5 1354.2,477 1354.4,473.4 1354.7,469.9 1354.9,466.3 1355.1,462.7 1355.3,459.2 1355.5,455.6 1355.7,452 1355.9,448.5 1356.1,444.9 1356.3,441.3 1356.5,437.8 1356.7,434.2 1356.9,430.6 1357,427.1 1357.1,423.5 1357.3,419.9 1357.4,416.4 1357.4,412.8 1357.4,409.2 1357.4,405.7 1357.4,402.1 1357.4,398.5 1357.4,395 1357.4,391.4 1357.4,387.8 1357.4,384.3 1357.4,380.7 1357.4,377.1 1357.4,373.6 1357.3,370 1357.2,366.4 1357.1,362.9 1356.9,359.3 1356.8,355.7 1356.6,352.2 1356.5,348.6 1356.3,345.1 1356.1,341.5 1355.9,337.9 1355.7,334.4 1355.5,330.8 1355.3,327.2 1355.1,323.7 1354.9,320.1 1354.7,316.5 1354.5,313 1354.3,309.4 1354.1,305.8 1353.9,302.3 1353.7,298.7 1353.5,295.1 1353.3,291.6 1353.1,288" fill="#FF0000" class="vp"/>
<line x1="1351.4" y1="288" x2="1351.4" y2="537.6" stroke="#000" stroke-width="2.3"/>
<ellipse cx="1351.4" cy="402" rx="5.2" ry="4.6" fill="#fff"/>
<line x1="1338.6" y1="288.3" x2="1349" y2="288.3" class="ln"/>
<text transform="translate(1343.8,280.1) scale(1,1.04)" font-size="16.5" text-anchor="middle" class="t">p=0.022</text>
<text transform="translate(1342,788.8) rotate(-45) scale(1,1.04)" font-size="19.9" text-anchor="end" class="t">Plasmacytoid.dendritic.cell</text>
<polygon points="1381.3,265.4 1381.3,269.6 1381.3,273.7 1381.3,277.9 1381.3,282 1381.3,286.2 1381.3,290.3 1381.2,294.5 1381.1,298.6 1380.9,302.8 1380.7,306.9 1380.6,311.1 1380.4,315.2 1380.1,319.4 1379.9,323.5 1379.7,327.7 1379.4,331.8 1379.2,336 1378.9,340.1 1378.7,344.3 1378.4,348.4 1378.1,352.6 1377.9,356.7 1377.6,360.9 1377.4,365 1377.2,369.2 1377,373.3 1376.8,377.5 1376.6,381.6 1376.4,385.8 1376.3,389.9 1376.1,394.1 1376.1,398.2 1376.1,402.4 1376.1,406.5 1376.1,410.7 1376.1,414.9 1376.1,419 1376.1,423.2 1376.1,427.3 1376.1,431.5 1376.1,435.6 1376.1,439.8 1376.1,443.9 1376.2,448.1 1376.3,452.2 1376.4,456.4 1376.5,460.5 1376.7,464.7 1376.8,468.8 1376.9,473 1377.1,477.1 1377.2,481.3 1377.4,485.4 1377.6,489.6 1377.7,493.7 1377.9,497.9 1378.1,502 1378.3,506.2 1378.5,510.3 1378.6,514.5 1378.8,518.6 1379,522.8 1379.2,526.9 1379.4,531.1 1379.5,535.2 1379.7,539.4 1379.9,543.5 1380,547.7 1380.2,551.8 1380.4,556 1383.8,556 1383.9,551.8 1384.1,547.7 1384.2,543.5 1384.4,539.4 1384.6,535.2 1384.8,531.1 1384.9,526.9 1385.1,522.8 1385.3,518.6 1385.5,514.5 1385.7,510.3 1385.8,506.2 1386,502 1386.2,497.9 1386.4,493.7 1386.5,489.6 1386.7,485.4 1386.9,481.3 1387,477.1 1387.2,473 1387.3,468.8 1387.5,464.7 1387.6,460.5 1387.7,456.4 1387.8,452.2 1387.9,448.1 1388,443.9 1388.1,439.8 1388.1,435.6 1388.1,431.5 1388.1,427.3 1388.1,423.2 1388.1,419 1388.1,414.9 1388.1,410.7 1388.1,406.5 1388.1,402.4 1388.1,398.2 1388,394.1 1387.9,389.9 1387.7,385.8 1387.5,381.6 1387.4,377.5 1387.2,373.3 1386.9,369.2 1386.7,365 1386.5,360.9 1386.2,356.7 1386,352.6 1385.7,348.4 1385.5,344.3 1385.2,340.1 1384.9,336 1384.7,331.8 1384.4,327.7 1384.2,323.5 1384,319.4 1383.8,315.2 1383.6,311.1 1383.4,306.9 1383.2,302.8 1383.1,298.6 1382.9,294.5 1382.9,290.3 1382.9,286.2 1382.9,282 1382.9,277.9 1382.9,273.7 1382.9,269.6 1382.9,265.4" fill="#0000FF" class="vp"/>
<line x1="1382.1" y1="265.4" x2="1382.1" y2="556" stroke="#000" stroke-width="2.3"/>
<ellipse cx="1382.1" cy="421" rx="5.2" ry="4.6" fill="#fff"/>
<polygon points="1395.6,250.4 1395.4,255.5 1395.3,260.6 1395.1,265.8 1394.9,270.9 1394.7,276 1394.5,281.1 1394.3,286.3 1394.1,291.4 1393.9,296.5 1393.7,301.6 1393.5,306.8 1393.3,311.9 1393.1,317 1392.9,322.1 1392.7,327.2 1392.5,332.4 1392.3,337.5 1392.1,342.6 1392,347.7 1391.8,352.9 1391.7,358 1391.6,363.1 1391.5,368.2 1391.4,373.3 1391.3,378.5 1391.3,383.6 1391.3,388.7 1391.3,393.8 1391.3,399 1391.3,404.1 1391.3,409.2 1391.3,414.3 1391.3,419.5 1391.3,424.6 1391.4,429.7 1391.5,434.8 1391.7,439.9 1391.9,445.1 1392.1,450.2 1392.3,455.3 1392.6,460.4 1392.8,465.6 1393.1,470.7 1393.4,475.8 1393.7,480.9 1393.9,486.1 1394.2,491.2 1394.5,496.3 1394.8,501.4 1395,506.5 1395.3,511.7 1395.5,516.8 1395.7,521.9 1396,527 1396.1,532.2 1396.3,537.3 1396.4,542.4 1396.5,547.5 1396.5,552.6 1396.5,557.8 1396.5,562.9 1396.5,568 1396.5,573.1 1396.5,578.3 1396.5,583.4 1396.5,588.5 1396.5,593.6 1396.5,598.8 1396.5,603.9 1396.5,609 1398.1,609 1398.1,603.9 1398.1,598.8 1398.1,593.6 1398.1,588.5 1398.1,583.4 1398.1,578.3 1398.1,573.1 1398.1,568 1398.1,562.9 1398.1,557.8 1398.1,552.6 1398.1,547.5 1398.2,542.4 1398.3,537.3 1398.5,532.2 1398.7,527 1398.9,521.9 1399.1,516.8 1399.3,511.7 1399.6,506.5 1399.9,501.4 1400.1,496.3 1400.4,491.2 1400.7,486.1 1401,480.9 1401.2,475.8 1401.5,470.7 1401.8,465.6 1402,460.4 1402.3,455.3 1402.5,450.2 1402.7,445.1 1402.9,439.9 1403.1,434.8 1403.2,429.7 1403.3,424.6 1403.3,419.5 1403.3,414.3 1403.3,409.2 1403.3,404.1 1403.3,399 1403.3,393.8 1403.3,388.7 1403.3,383.6 1403.3,378.5 1403.3,373.3 1403.2,368.2 1403,363.1 1402.9,358 1402.8,352.9 1402.6,347.7 1402.5,342.6 1402.3,337.5 1402.1,332.4 1401.9,327.2 1401.8,322.1 1401.6,317 1401.4,311.9 1401.2,306.8 1401,301.6 1400.7,296.5 1400.5,291.4 1400.3,286.3 1400.1,281.1 1399.9,276 1399.7,270.9 1399.5,265.8 1399.4,260.6 1399.2,255.5 1399,250.4" fill="#FF0000" class="vp"/>
<line x1="1397.3" y1="250.4" x2="1397.3" y2="609" stroke="#000" stroke-width="2.3"/>
<ellipse cx="1397.3" cy="407.4" rx="5.2" ry="4.6" fill="#fff"/>
<line x1="1384.5" y1="250.7" x2="1394.9" y2="250.7" class="ln"/>
<text transform="translate(1389.7,242.5) scale(1,1.04)" font-size="16.5" text-anchor="middle" class="t">p=0.259</text>
<text transform="translate(1387.9,788.8) rotate(-45) scale(1,1.04)" font-size="19.9" text-anchor="end" class="t">Regulatory.T.cell</text>
<polygon points="1426.2,303 1426.1,306.8 1425.9,310.6 1425.8,314.4 1425.6,318.2 1425.4,322 1425.3,325.8 1425.1,329.6 1424.9,333.4 1424.7,337.2 1424.6,341 1424.4,344.8 1424.2,348.6 1424,352.4 1423.8,356.2 1423.7,360 1423.5,363.8 1423.3,367.6 1423.2,371.4 1423,375.2 1422.9,379 1422.7,382.8 1422.6,386.6 1422.5,390.4 1422.3,394.2 1422.2,398 1422.1,401.8 1422,405.6 1422,409.4 1421.9,413.2 1421.9,417 1421.9,420.8 1421.9,424.6 1421.9,428.4 1421.9,432.2 1421.9,436 1421.9,439.8 1421.9,443.6 1421.9,447.4 1421.9,451.2 1421.9,455 1421.9,458.8 1421.9,462.6 1422,466.4 1422.1,470.2 1422.2,474 1422.3,477.8 1422.4,481.6 1422.5,485.4 1422.6,489.2 1422.7,493 1422.8,496.8 1423,500.6 1423.1,504.4 1423.3,508.2 1423.4,512 1423.5,515.8 1423.7,519.6 1423.9,523.4 1424,527.2 1424.2,531 1424.3,534.8 1424.5,538.6 1424.6,542.4 1424.8,546.2 1425,550 1425.1,553.8 1425.3,557.6 1425.4,561.4 1425.6,565.2 1425.7,569 1430.1,569 1430.3,565.2 1430.4,561.4 1430.6,557.6 1430.7,553.8 1430.9,550 1431.1,546.2 1431.2,542.4 1431.4,538.6 1431.5,534.8 1431.7,531 1431.8,527.2 1432,523.4 1432.2,519.6 1432.3,515.8 1432.5,512 1432.6,508.2 1432.7,504.4 1432.9,500.6 1433,496.8 1433.1,493 1433.3,489.2 1433.4,485.4 1433.5,481.6 1433.6,477.8 1433.7,474 1433.8,470.2 1433.9,466.4 1433.9,462.6 1433.9,458.8 1433.9,455 1433.9,451.2 1433.9,447.4 1433.9,443.6 1433.9,439.8 1433.9,436 1433.9,432.2 1433.9,428.4 1433.9,424.6 1433.9,420.8 1433.9,417 1433.9,413.2 1433.9,409.4 1433.8,405.6 1433.7,401.8 1433.6,398 1433.5,394.2 1433.4,390.4 1433.3,386.6 1433.1,382.8 1433,379 1432.8,375.2 1432.7,371.4 1432.5,367.6 1432.4,363.8 1432.2,360 1432,356.2 1431.8,352.4 1431.7,348.6 1431.5,344.8 1431.3,341 1431.1,337.2 1430.9,333.4 1430.8,329.6 1430.6,325.8 1430.4,322 1430.3,318.2 1430.1,314.4 1429.9,310.6 1429.8,306.8 1429.6,303" fill="#0000FF" class="vp"/>
<line x1="1427.9" y1="303" x2="1427.9" y2="569" stroke="#000" stroke-width="2.3"/>
<ellipse cx="1427.9" cy="442.4" rx="5.2" ry="4.6" fill="#fff"/>
<polygon points="1440,272.4 1439.9,276.4 1439.7,280.5 1439.6,284.5 1439.5,288.5 1439.3,292.6 1439.2,296.6 1439.1,300.6 1439,304.7 1438.8,308.7 1438.7,312.7 1438.6,316.7 1438.5,320.8 1438.4,324.8 1438.2,328.8 1438.1,332.9 1438,336.9 1437.9,340.9 1437.8,345 1437.7,349 1437.6,353 1437.6,357.1 1437.5,361.1 1437.4,365.1 1437.3,369.2 1437.3,373.2 1437.2,377.2 1437.2,381.2 1437.2,385.3 1437.2,389.3 1437.2,393.3 1437.2,397.4 1437.2,401.4 1437.2,405.4 1437.2,409.5 1437.2,413.5 1437.2,417.5 1437.2,421.6 1437.2,425.6 1437.2,429.6 1437.2,433.7 1437.2,437.7 1437.2,441.7 1437.3,445.8 1437.4,449.8 1437.5,453.8 1437.6,457.8 1437.7,461.9 1437.8,465.9 1438,469.9 1438.1,474 1438.3,478 1438.4,482 1438.6,486.1 1438.7,490.1 1438.9,494.1 1439.1,498.2 1439.3,502.2 1439.4,506.2 1439.6,510.3 1439.8,514.3 1440,518.3 1440.2,522.3 1440.3,526.4 1440.5,530.4 1440.7,534.4 1440.9,538.5 1441,542.5 1441.2,546.5 1441.3,550.6 1441.5,554.6 1444.9,554.6 1445,550.6 1445.2,546.5 1445.3,542.5 1445.5,538.5 1445.7,534.4 1445.9,530.4 1446,526.4 1446.2,522.3 1446.4,518.3 1446.6,514.3 1446.7,510.3 1446.9,506.2 1447.1,502.2 1447.3,498.2 1447.4,494.1 1447.6,490.1 1447.8,486.1 1447.9,482 1448.1,478 1448.2,474 1448.4,469.9 1448.5,465.9 1448.7,461.9 1448.8,457.8 1448.9,453.8 1449,449.8 1449.1,445.8 1449.2,441.7 1449.2,437.7 1449.2,433.7 1449.2,429.6 1449.2,425.6 1449.2,421.6 1449.2,417.5 1449.2,413.5 1449.2,409.5 1449.2,405.4 1449.2,401.4 1449.2,397.4 1449.2,393.3 1449.2,389.3 1449.2,385.3 1449.2,381.2 1449.2,377.2 1449.1,373.2 1449,369.2 1449,365.1 1448.9,361.1 1448.8,357.1 1448.7,353 1448.6,349 1448.5,345 1448.4,340.9 1448.3,336.9 1448.2,332.9 1448.1,328.8 1448,324.8 1447.9,320.8 1447.8,316.7 1447.7,312.7 1447.5,308.7 1447.4,304.7 1447.3,300.6 1447.2,296.6 1447,292.6 1446.9,288.5 1446.8,284.5 1446.6,280.5 1446.5,276.4 1446.4,272.4" fill="#FF0000" class="vp"/>
<line x1="1443.2" y1="272.4" x2="1443.2" y2="554.6" stroke="#000" stroke-width="2.3"/>
<ellipse cx="1443.2" cy="420.6" rx="5.2" ry="4.6" fill="#fff"/>
<line x1="1430.3" y1="272.7" x2="1440.8" y2="272.7" class="ln"/>
<text transform="translate(1435.6,264.5) scale(1,1.04)" font-size="16.5" text-anchor="middle" class="t">p=0.075</text>
<text transform="translate(1433.8,788.8) rotate(-45) scale(1,1.04)" font-size="19.9" text-anchor="end" class="t">T.follicular.helper.cell</text>
<polygon points="1472.6,345.6 1472.5,347.9 1472.3,350.2 1472.2,352.5 1472,354.8 1471.8,357.1 1471.6,359.4 1471.4,361.7 1471.2,364 1471,366.3 1470.8,368.6 1470.6,370.9 1470.4,373.2 1470.2,375.5 1470,377.8 1469.8,380.1 1469.6,382.4 1469.4,384.7 1469.2,387 1469.1,389.3 1468.9,391.6 1468.7,393.9 1468.5,396.2 1468.4,398.5 1468.2,400.8 1468.1,403.1 1468,405.4 1467.9,407.7 1467.8,410 1467.8,412.3 1467.8,414.6 1467.8,416.9 1467.8,419.2 1467.8,421.5 1467.8,423.8 1467.8,426.1 1467.8,428.4 1467.8,430.7 1467.8,433 1467.8,435.3 1467.9,437.6 1468,439.9 1468.1,442.2 1468.2,444.5 1468.4,446.8 1468.5,449.1 1468.7,451.4 1468.9,453.7 1469.1,456 1469.3,458.3 1469.5,460.6 1469.7,462.9 1469.9,465.2 1470.1,467.5 1470.3,469.8 1470.5,472.1 1470.7,474.4 1470.9,476.7 1471.1,479 1471.3,481.3 1471.5,483.6 1471.7,485.9 1471.9,488.2 1472.1,490.5 1472.2,492.8 1472.4,495.1 1472.5,497.4 1472.7,499.7 1472.8,502 1472.9,504.3 1473,506.6 1474.6,506.6 1474.7,504.3 1474.8,502 1474.9,499.7 1475.1,497.4 1475.2,495.1 1475.4,492.8 1475.5,490.5 1475.7,488.2 1475.9,485.9 1476.1,483.6 1476.3,481.3 1476.5,479 1476.7,476.7 1476.9,474.4 1477.1,472.1 1477.3,469.8 1477.5,467.5 1477.7,465.2 1477.9,462.9 1478.1,460.6 1478.3,458.3 1478.5,456 1478.7,453.7 1478.9,451.4 1479.1,449.1 1479.2,446.8 1479.4,444.5 1479.5,442.2 1479.6,439.9 1479.7,437.6 1479.8,435.3 1479.8,433 1479.8,430.7 1479.8,428.4 1479.8,426.1 1479.8,423.8 1479.8,421.5 1479.8,419.2 1479.8,416.9 1479.8,414.6 1479.8,412.3 1479.8,410 1479.7,407.7 1479.6,405.4 1479.5,403.1 1479.4,400.8 1479.2,398.5 1479.1,396.2 1478.9,393.9 1478.7,391.6 1478.5,389.3 1478.4,387 1478.2,384.7 1478,382.4 1477.8,380.1 1477.6,377.8 1477.4,375.5 1477.2,373.2 1477,370.9 1476.8,368.6 1476.6,366.3 1476.4,364 1476.2,361.7 1476,359.4 1475.8,357.1 1475.6,354.8 1475.4,352.5 1475.3,350.2 1475.1,347.9 1475,345.6" fill="#0000FF" class="vp"/>
<line x1="1473.8" y1="345.6" x2="1473.8" y2="506.6" stroke="#000" stroke-width="2.3"/>
<ellipse cx="1473.8" cy="423.6" rx="5.2" ry="4.6" fill="#fff"/>
<polygon points="1488.2,282.6 1488.2,286.4 1488.2,290.1 1488.2,293.9 1488.2,297.7 1488.1,301.4 1488,305.2 1487.8,308.9 1487.7,312.7 1487.5,316.5 1487.4,320.2 1487.2,324 1487,327.8 1486.8,331.5 1486.6,335.3 1486.3,339 1486.1,342.8 1485.9,346.6 1485.7,350.3 1485.5,354.1 1485.2,357.9 1485,361.6 1484.8,365.4 1484.6,369.1 1484.4,372.9 1484.2,376.7 1484,380.4 1483.8,384.2 1483.7,388 1483.5,391.7 1483.4,395.5 1483.2,399.2 1483.1,403 1483,406.8 1483,410.5 1483,414.3 1483,418.1 1483,421.8 1483,425.6 1483,429.4 1483,433.1 1483,436.9 1483.1,440.6 1483.2,444.4 1483.4,448.2 1483.6,451.9 1483.8,455.7 1484,459.5 1484.3,463.2 1484.5,467 1484.8,470.7 1485.1,474.5 1485.4,478.3 1485.7,482 1485.9,485.8 1486.2,489.6 1486.5,493.3 1486.8,497.1 1487.1,500.8 1487.3,504.6 1487.5,508.4 1487.7,512.1 1487.9,515.9 1488.1,519.7 1488.2,523.4 1488.2,527.2 1488.2,530.9 1488.2,534.7 1488.2,538.5 1488.2,542.2 1488.2,546 1489.8,546 1489.8,542.2 1489.8,538.5 1489.8,534.7 1489.8,530.9 1489.8,527.2 1489.9,523.4 1490,519.7 1490.2,515.9 1490.4,512.1 1490.6,508.4 1490.8,504.6 1491,500.8 1491.3,497.1 1491.6,493.3 1491.9,489.6 1492.2,485.8 1492.4,482 1492.7,478.3 1493,474.5 1493.3,470.7 1493.6,467 1493.8,463.2 1494.1,459.5 1494.3,455.7 1494.5,451.9 1494.7,448.2 1494.9,444.4 1495,440.6 1495,436.9 1495,433.1 1495,429.4 1495,425.6 1495,421.8 1495,418.1 1495,414.3 1495,410.5 1495,406.8 1495,403 1494.9,399.2 1494.7,395.5 1494.6,391.7 1494.4,388 1494.3,384.2 1494.1,380.4 1493.9,376.7 1493.7,372.9 1493.5,369.1 1493.3,365.4 1493.1,361.6 1492.9,357.9 1492.6,354.1 1492.4,350.3 1492.2,346.6 1492,342.8 1491.8,339 1491.5,335.3 1491.3,331.5 1491.1,327.8 1490.9,324 1490.7,320.2 1490.6,316.5 1490.4,312.7 1490.3,308.9 1490.1,305.2 1490,301.4 1489.9,297.7 1489.8,293.9 1489.8,290.1 1489.8,286.4 1489.8,282.6" fill="#FF0000" class="vp"/>
<line x1="1489" y1="282.6" x2="1489" y2="546" stroke="#000" stroke-width="2.3"/>
<ellipse cx="1489" cy="425.4" rx="5.2" ry="4.6" fill="#fff"/>
<line x1="1476.2" y1="282.9" x2="1486.6" y2="282.9" class="ln"/>
<text transform="translate(1481.4,274.7) scale(1,1.04)" font-size="16.5" text-anchor="middle" class="t">p=0.620</text>
<text transform="translate(1479.6,788.8) rotate(-45) scale(1,1.04)" font-size="19.9" text-anchor="end" class="t">Type.1.T.helper.cell</text>
<polygon points="1518.9,233 1518.9,238.2 1518.9,243.3 1518.9,248.5 1518.8,253.7 1518.7,258.8 1518.6,264 1518.4,269.1 1518.2,274.3 1518,279.5 1517.8,284.6 1517.5,289.8 1517.3,295 1517,300.1 1516.8,305.3 1516.5,310.4 1516.2,315.6 1516,320.8 1515.7,325.9 1515.4,331.1 1515.2,336.3 1514.9,341.4 1514.7,346.6 1514.5,351.7 1514.3,356.9 1514.1,362.1 1513.9,367.2 1513.8,372.4 1513.7,377.6 1513.7,382.7 1513.7,387.9 1513.7,393 1513.7,398.2 1513.7,403.4 1513.7,408.5 1513.7,413.7 1513.7,418.9 1513.7,424 1513.7,429.2 1513.8,434.4 1513.9,439.5 1514,444.7 1514.2,449.8 1514.3,455 1514.5,460.2 1514.7,465.3 1514.8,470.5 1515,475.7 1515.2,480.8 1515.4,486 1515.6,491.1 1515.9,496.3 1516.1,501.5 1516.3,506.6 1516.5,511.8 1516.7,517 1516.9,522.1 1517.1,527.3 1517.3,532.4 1517.5,537.6 1517.7,542.8 1517.9,547.9 1518.1,553.1 1518.2,558.3 1518.4,563.4 1518.5,568.6 1518.6,573.7 1518.8,578.9 1518.9,584.1 1518.9,589.2 1518.9,594.4 1520.5,594.4 1520.5,589.2 1520.5,584.1 1520.6,578.9 1520.7,573.7 1520.8,568.6 1521,563.4 1521.1,558.3 1521.3,553.1 1521.4,547.9 1521.6,542.8 1521.8,537.6 1522,532.4 1522.2,527.3 1522.4,522.1 1522.6,517 1522.8,511.8 1523.1,506.6 1523.3,501.5 1523.5,496.3 1523.7,491.1 1523.9,486 1524.1,480.8 1524.3,475.7 1524.5,470.5 1524.7,465.3 1524.8,460.2 1525,455 1525.2,449.8 1525.3,444.7 1525.4,439.5 1525.5,434.4 1525.6,429.2 1525.7,424 1525.7,418.9 1525.7,413.7 1525.7,408.5 1525.7,403.4 1525.7,398.2 1525.7,393 1525.7,387.9 1525.7,382.7 1525.7,377.6 1525.5,372.4 1525.4,367.2 1525.2,362.1 1525,356.9 1524.8,351.7 1524.6,346.6 1524.4,341.4 1524.1,336.3 1523.9,331.1 1523.6,325.9 1523.4,320.8 1523.1,315.6 1522.8,310.4 1522.6,305.3 1522.3,300.1 1522.1,295 1521.8,289.8 1521.6,284.6 1521.4,279.5 1521.1,274.3 1521,269.1 1520.8,264 1520.6,258.8 1520.5,253.7 1520.5,248.5 1520.5,243.3 1520.5,238.2 1520.5,233" fill="#0000FF" class="vp"/>
<line x1="1519.7" y1="233" x2="1519.7" y2="594.4" stroke="#000" stroke-width="2.3"/>
<ellipse cx="1519.7" cy="409.4" rx="5.2" ry="4.6" fill="#fff"/>
<polygon points="1532.7,249.4 1532.5,254.8 1532.4,260.1 1532.2,265.5 1532,270.9 1531.8,276.3 1531.6,281.6 1531.4,287 1531.2,292.4 1531,297.7 1530.8,303.1 1530.6,308.5 1530.4,313.9 1530.3,319.2 1530.1,324.6 1529.9,330 1529.8,335.3 1529.6,340.7 1529.5,346.1 1529.3,351.5 1529.2,356.8 1529.1,362.2 1529,367.6 1528.9,372.9 1528.9,378.3 1528.9,383.7 1528.9,389.1 1528.9,394.4 1528.9,399.8 1528.9,405.2 1528.9,410.5 1528.9,415.9 1528.9,421.3 1528.9,426.7 1528.9,432 1529,437.4 1529.1,442.8 1529.2,448.1 1529.3,453.5 1529.4,458.9 1529.6,464.3 1529.7,469.6 1529.9,475 1530.1,480.4 1530.2,485.7 1530.4,491.1 1530.6,496.5 1530.8,501.9 1531,507.2 1531.2,512.6 1531.4,518 1531.6,523.3 1531.8,528.7 1532,534.1 1532.2,539.5 1532.4,544.8 1532.6,550.2 1532.8,555.6 1533,560.9 1533.2,566.3 1533.3,571.7 1533.5,577.1 1533.6,582.4 1533.8,587.8 1533.9,593.2 1534,598.5 1534.1,603.9 1534.1,609.3 1534.1,614.7 1534.1,620 1534.1,625.4 1535.7,625.4 1535.7,620 1535.7,614.7 1535.7,609.3 1535.8,603.9 1535.8,598.5 1536,593.2 1536.1,587.8 1536.2,582.4 1536.4,577.1 1536.5,571.7 1536.7,566.3 1536.9,560.9 1537,555.6 1537.2,550.2 1537.4,544.8 1537.6,539.5 1537.8,534.1 1538,528.7 1538.2,523.3 1538.4,518 1538.6,512.6 1538.8,507.2 1539,501.9 1539.2,496.5 1539.4,491.1 1539.6,485.7 1539.8,480.4 1540,475 1540.1,469.6 1540.3,464.3 1540.4,458.9 1540.6,453.5 1540.7,448.1 1540.8,442.8 1540.9,437.4 1540.9,432 1540.9,426.7 1540.9,421.3 1540.9,415.9 1540.9,410.5 1540.9,405.2 1540.9,399.8 1540.9,394.4 1540.9,389.1 1540.9,383.7 1540.9,378.3 1540.9,372.9 1540.8,367.6 1540.7,362.2 1540.6,356.8 1540.5,351.5 1540.4,346.1 1540.2,340.7 1540.1,335.3 1539.9,330 1539.7,324.6 1539.6,319.2 1539.4,313.9 1539.2,308.5 1539,303.1 1538.8,297.7 1538.6,292.4 1538.4,287 1538.3,281.6 1538.1,276.3 1537.9,270.9 1537.7,265.5 1537.5,260.1 1537.3,254.8 1537.1,249.4" fill="#FF0000" class="vp"/>
<line x1="1534.9" y1="249.4" x2="1534.9" y2="625.4" stroke="#000" stroke-width="2.3"/>
<ellipse cx="1534.9" cy="410" rx="5.2" ry="4.6" fill="#fff"/>
<line x1="1522.1" y1="233.3" x2="1532.5" y2="233.3" class="ln"/>
<text transform="translate(1527.3,225.1) scale(1,1.04)" font-size="16.5" text-anchor="middle" class="t">p=0.636</text>
<text transform="translate(1525.5,788.8) rotate(-45) scale(1,1.04)" font-size="19.9" text-anchor="end" class="t">Type.17.T.helper.cell</text>
<polygon points="1564.7,257 1564.7,261.3 1564.7,265.6 1564.7,269.9 1564.7,274.1 1564.7,278.4 1564.7,282.7 1564.5,287 1564.4,291.3 1564.2,295.6 1564.1,299.9 1563.9,304.1 1563.6,308.4 1563.4,312.7 1563.2,317 1563,321.3 1562.7,325.6 1562.5,329.9 1562.2,334.1 1562,338.4 1561.7,342.7 1561.5,347 1561.2,351.3 1561,355.6 1560.7,359.9 1560.5,364.1 1560.3,368.4 1560.1,372.7 1560,377 1559.8,381.3 1559.7,385.6 1559.6,389.9 1559.5,394.1 1559.5,398.4 1559.5,402.7 1559.5,407 1559.5,411.3 1559.5,415.6 1559.5,419.9 1559.5,424.1 1559.5,428.4 1559.6,432.7 1559.7,437 1559.9,441.3 1560,445.6 1560.2,449.9 1560.4,454.1 1560.6,458.4 1560.8,462.7 1561,467 1561.2,471.3 1561.5,475.6 1561.7,479.9 1561.9,484.1 1562.2,488.4 1562.4,492.7 1562.7,497 1562.9,501.3 1563.1,505.6 1563.4,509.9 1563.6,514.1 1563.8,518.4 1564,522.7 1564.2,527 1564.3,531.3 1564.5,535.6 1564.6,539.9 1564.7,544.1 1564.7,548.4 1564.7,552.7 1564.7,557 1566.3,557 1566.3,552.7 1566.3,548.4 1566.4,544.1 1566.5,539.9 1566.6,535.6 1566.8,531.3 1566.9,527 1567.1,522.7 1567.3,518.4 1567.5,514.1 1567.7,509.9 1567.9,505.6 1568.2,501.3 1568.4,497 1568.7,492.7 1568.9,488.4 1569.1,484.1 1569.4,479.9 1569.6,475.6 1569.9,471.3 1570.1,467 1570.3,462.7 1570.5,458.4 1570.7,454.1 1570.9,449.9 1571.1,445.6 1571.2,441.3 1571.4,437 1571.5,432.7 1571.5,428.4 1571.5,424.1 1571.5,419.9 1571.5,415.6 1571.5,411.3 1571.5,407 1571.5,402.7 1571.5,398.4 1571.5,394.1 1571.5,389.9 1571.4,385.6 1571.3,381.3 1571.1,377 1570.9,372.7 1570.8,368.4 1570.5,364.1 1570.3,359.9 1570.1,355.6 1569.9,351.3 1569.6,347 1569.4,342.7 1569.1,338.4 1568.9,334.1 1568.6,329.9 1568.4,325.6 1568.1,321.3 1567.9,317 1567.7,312.7 1567.4,308.4 1567.2,304.1 1567,299.9 1566.8,295.6 1566.7,291.3 1566.5,287 1566.4,282.7 1566.3,278.4 1566.3,274.1 1566.3,269.9 1566.3,265.6 1566.3,261.3 1566.3,257" fill="#0000FF" class="vp"/>
<line x1="1565.5" y1="257" x2="1565.5" y2="557" stroke="#000" stroke-width="2.3"/>
<ellipse cx="1565.5" cy="413.4" rx="5.2" ry="4.6" fill="#fff"/>
<polygon points="1580,240 1580,244.2 1580,248.4 1580,252.5 1580,256.7 1580,260.9 1580,265.1 1580,269.3 1580,273.4 1580,277.6 1580,281.8 1580,286 1579.9,290.2 1579.7,294.3 1579.6,298.5 1579.4,302.7 1579.2,306.9 1579.1,311.1 1578.8,315.2 1578.6,319.4 1578.4,323.6 1578.2,327.8 1577.9,332 1577.7,336.1 1577.4,340.3 1577.2,344.5 1576.9,348.7 1576.7,352.9 1576.4,357 1576.2,361.2 1576,365.4 1575.8,369.6 1575.6,373.8 1575.4,377.9 1575.2,382.1 1575.1,386.3 1574.9,390.5 1574.8,394.7 1574.8,398.8 1574.8,403 1574.8,407.2 1574.8,411.4 1574.8,415.6 1574.8,419.7 1574.8,423.9 1574.8,428.1 1574.8,432.3 1574.8,436.5 1574.8,440.6 1574.9,444.8 1575,449 1575.1,453.2 1575.3,457.4 1575.4,461.5 1575.6,465.7 1575.7,469.9 1575.9,474.1 1576.1,478.3 1576.3,482.4 1576.4,486.6 1576.6,490.8 1576.8,495 1577,499.2 1577.2,503.3 1577.4,507.5 1577.6,511.7 1577.8,515.9 1578,520.1 1578.2,524.2 1578.4,528.4 1578.6,532.6 1583,532.6 1583.2,528.4 1583.4,524.2 1583.6,520.1 1583.8,515.9 1584,511.7 1584.2,507.5 1584.4,503.3 1584.6,499.2 1584.8,495 1584.9,490.8 1585.1,486.6 1585.3,482.4 1585.5,478.3 1585.7,474.1 1585.9,469.9 1586,465.7 1586.2,461.5 1586.3,457.4 1586.4,453.2 1586.6,449 1586.7,444.8 1586.8,440.6 1586.8,436.5 1586.8,432.3 1586.8,428.1 1586.8,423.9 1586.8,419.7 1586.8,415.6 1586.8,411.4 1586.8,407.2 1586.8,403 1586.8,398.8 1586.8,394.7 1586.7,390.5 1586.5,386.3 1586.4,382.1 1586.2,377.9 1586,373.8 1585.8,369.6 1585.6,365.4 1585.4,361.2 1585.1,357 1584.9,352.9 1584.7,348.7 1584.4,344.5 1584.2,340.3 1583.9,336.1 1583.7,332 1583.4,327.8 1583.2,323.6 1583,319.4 1582.7,315.2 1582.5,311.1 1582.3,306.9 1582.1,302.7 1582,298.5 1581.8,294.3 1581.7,290.2 1581.6,286 1581.6,281.8 1581.6,277.6 1581.6,273.4 1581.6,269.3 1581.6,265.1 1581.6,260.9 1581.6,256.7 1581.6,252.5 1581.6,248.4 1581.6,244.2 1581.6,240" fill="#FF0000" class="vp"/>
<line x1="1580.8" y1="240" x2="1580.8" y2="532.6" stroke="#000" stroke-width="2.3"/>
<ellipse cx="1580.8" cy="423" rx="5.2" ry="4.6" fill="#fff"/>
<line x1="1567.9" y1="240.3" x2="1578.4" y2="240.3" class="ln"/>
<text transform="translate(1573.2,232.1) scale(1,1.04)" font-size="16.5" text-anchor="middle" class="t">p=0.636</text>
<text transform="translate(1571.4,788.8) rotate(-45) scale(1,1.04)" font-size="19.9" text-anchor="end" class="t">Type.2.T.helper.cell</text>
<polygon points="1609.2,262.6 1609.1,266.8 1608.9,271 1608.7,275.2 1608.6,279.5 1608.4,283.7 1608.2,287.9 1608.1,292.1 1607.9,296.3 1607.7,300.5 1607.6,304.7 1607.4,309 1607.3,313.2 1607.1,317.4 1606.9,321.6 1606.8,325.8 1606.6,330 1606.5,334.2 1606.3,338.5 1606.2,342.7 1606.1,346.9 1606,351.1 1605.9,355.3 1605.7,359.5 1605.6,363.7 1605.6,368 1605.5,372.2 1605.4,376.4 1605.4,380.6 1605.4,384.8 1605.4,389 1605.4,393.2 1605.4,397.5 1605.4,401.7 1605.4,405.9 1605.4,410.1 1605.4,414.3 1605.4,418.5 1605.4,422.7 1605.4,427 1605.4,431.2 1605.4,435.4 1605.5,439.6 1605.5,443.8 1605.6,448 1605.7,452.2 1605.8,456.5 1605.9,460.7 1606,464.9 1606.1,469.1 1606.3,473.3 1606.4,477.5 1606.5,481.7 1606.7,486 1606.8,490.2 1606.9,494.4 1607.1,498.6 1607.2,502.8 1607.4,507 1607.5,511.2 1607.7,515.5 1607.8,519.7 1608,523.9 1608.2,528.1 1608.3,532.3 1608.5,536.5 1608.6,540.7 1608.8,545 1608.9,549.2 1609.1,553.4 1609.2,557.6 1613.6,557.6 1613.8,553.4 1613.9,549.2 1614,545 1614.2,540.7 1614.4,536.5 1614.5,532.3 1614.7,528.1 1614.8,523.9 1615,519.7 1615.1,515.5 1615.3,511.2 1615.4,507 1615.6,502.8 1615.7,498.6 1615.9,494.4 1616,490.2 1616.2,486 1616.3,481.7 1616.4,477.5 1616.6,473.3 1616.7,469.1 1616.8,464.9 1616.9,460.7 1617,456.5 1617.1,452.2 1617.2,448 1617.3,443.8 1617.4,439.6 1617.4,435.4 1617.4,431.2 1617.4,427 1617.4,422.7 1617.4,418.5 1617.4,414.3 1617.4,410.1 1617.4,405.9 1617.4,401.7 1617.4,397.5 1617.4,393.2 1617.4,389 1617.4,384.8 1617.4,380.6 1617.4,376.4 1617.3,372.2 1617.3,368 1617.2,363.7 1617.1,359.5 1617,355.3 1616.9,351.1 1616.7,346.9 1616.6,342.7 1616.5,338.5 1616.3,334.2 1616.2,330 1616,325.8 1615.9,321.6 1615.7,317.4 1615.6,313.2 1615.4,309 1615.2,304.7 1615.1,300.5 1614.9,296.3 1614.7,292.1 1614.6,287.9 1614.4,283.7 1614.2,279.5 1614.1,275.2 1613.9,271 1613.8,266.8 1613.6,262.6" fill="#0000FF" class="vp"/>
<line x1="1611.4" y1="262.6" x2="1611.4" y2="557.6" stroke="#000" stroke-width="2.3"/>
<ellipse cx="1611.4" cy="409.4" rx="5.2" ry="4.6" fill="#fff"/>
<polygon points="1625.9,181 1625.9,187.2 1625.9,193.5 1625.9,199.7 1625.9,206 1625.9,212.2 1625.9,218.5 1625.9,224.7 1625.9,230.9 1625.8,237.2 1625.7,243.4 1625.5,249.7 1625.3,255.9 1625.1,262.2 1624.9,268.4 1624.6,274.6 1624.4,280.9 1624.1,287.1 1623.8,293.4 1623.5,299.6 1623.2,305.9 1622.9,312.1 1622.7,318.3 1622.4,324.6 1622.1,330.8 1621.8,337.1 1621.6,343.3 1621.4,349.6 1621.2,355.8 1621,362 1620.8,368.3 1620.7,374.5 1620.7,380.8 1620.7,387 1620.7,393.3 1620.7,399.5 1620.7,405.7 1620.7,412 1620.7,418.2 1620.7,424.5 1620.7,430.7 1620.7,437 1620.9,443.2 1621,449.4 1621.1,455.7 1621.3,461.9 1621.5,468.2 1621.7,474.4 1621.9,480.7 1622.1,486.9 1622.3,493.1 1622.5,499.4 1622.7,505.6 1622.9,511.9 1623.2,518.1 1623.4,524.4 1623.6,530.6 1623.8,536.8 1624.1,543.1 1624.3,549.3 1624.5,555.6 1624.7,561.8 1624.9,568.1 1625.1,574.3 1625.2,580.5 1625.4,586.8 1625.5,593 1625.7,599.3 1625.8,605.5 1625.9,611.8 1625.9,618 1627.5,618 1627.5,611.8 1627.5,605.5 1627.6,599.3 1627.8,593 1627.9,586.8 1628.1,580.5 1628.3,574.3 1628.4,568.1 1628.6,561.8 1628.8,555.6 1629,549.3 1629.3,543.1 1629.5,536.8 1629.7,530.6 1629.9,524.4 1630.2,518.1 1630.4,511.9 1630.6,505.6 1630.8,499.4 1631,493.1 1631.3,486.9 1631.5,480.7 1631.7,474.4 1631.8,468.2 1632,461.9 1632.2,455.7 1632.3,449.4 1632.5,443.2 1632.6,437 1632.7,430.7 1632.7,424.5 1632.7,418.2 1632.7,412 1632.7,405.7 1632.7,399.5 1632.7,393.3 1632.7,387 1632.7,380.8 1632.6,374.5 1632.5,368.3 1632.4,362 1632.2,355.8 1632,349.6 1631.7,343.3 1631.5,337.1 1631.2,330.8 1630.9,324.6 1630.7,318.3 1630.4,312.1 1630.1,305.9 1629.8,299.6 1629.5,293.4 1629.2,287.1 1629,280.9 1628.7,274.6 1628.5,268.4 1628.2,262.2 1628,255.9 1627.8,249.7 1627.6,243.4 1627.5,237.2 1627.5,230.9 1627.5,224.7 1627.5,218.5 1627.5,212.2 1627.5,206 1627.5,199.7 1627.5,193.5 1627.5,187.2 1627.5,181" fill="#FF0000" class="vp"/>
<line x1="1626.7" y1="181" x2="1626.7" y2="618" stroke="#000" stroke-width="2.3"/>
<ellipse cx="1626.7" cy="394.6" rx="5.2" ry="4.6" fill="#fff"/>
<line x1="1613.8" y1="181.3" x2="1624.3" y2="181.3" class="ln"/>
<text transform="translate(1619,173.1) scale(1,1.04)" font-size="16.5" text-anchor="middle" class="t">p=0.902</text>
<text transform="translate(1617.2,788.8) rotate(-45) scale(1,1.04)" font-size="19.9" text-anchor="end" class="t">Effector.memory.CD4.T.cell</text>
<polygon points="1653.6,124 1653.5,132.8 1653.3,141.6 1653.2,150.3 1653.1,159.1 1653,167.9 1652.9,176.7 1652.8,185.4 1652.7,194.2 1652.6,203 1652.5,211.8 1652.4,220.5 1652.3,229.3 1652.2,238.1 1652.1,246.9 1652,255.7 1651.9,264.4 1651.8,273.2 1651.7,282 1651.7,290.8 1651.6,299.5 1651.5,308.3 1651.4,317.1 1651.4,325.9 1651.3,334.7 1651.3,343.4 1651.3,352.2 1651.3,361 1651.3,369.8 1651.3,378.5 1651.3,387.3 1651.3,396.1 1651.3,404.9 1651.3,413.6 1651.3,422.4 1651.3,431.2 1651.3,440 1651.3,448.8 1651.3,457.5 1651.3,466.3 1651.3,475.1 1651.3,483.9 1651.3,492.6 1651.3,501.4 1651.4,510.2 1651.5,519 1651.6,527.7 1651.7,536.5 1651.8,545.3 1651.9,554.1 1652.1,562.9 1652.2,571.6 1652.3,580.4 1652.5,589.2 1652.6,598 1652.7,606.7 1652.9,615.5 1653,624.3 1653.2,633.1 1653.4,641.9 1653.5,650.6 1653.7,659.4 1653.8,668.2 1654,677 1654.2,685.7 1654.3,694.5 1654.5,703.3 1654.6,712.1 1654.8,720.8 1654.9,729.6 1655.1,738.4 1659.5,738.4 1659.6,729.6 1659.8,720.8 1659.9,712.1 1660.1,703.3 1660.2,694.5 1660.4,685.7 1660.6,677 1660.7,668.2 1660.9,659.4 1661,650.6 1661.2,641.9 1661.4,633.1 1661.5,624.3 1661.7,615.5 1661.8,606.7 1662,598 1662.1,589.2 1662.2,580.4 1662.4,571.6 1662.5,562.9 1662.6,554.1 1662.7,545.3 1662.9,536.5 1663,527.7 1663,519 1663.1,510.2 1663.2,501.4 1663.3,492.6 1663.3,483.9 1663.3,475.1 1663.3,466.3 1663.3,457.5 1663.3,448.8 1663.3,440 1663.3,431.2 1663.3,422.4 1663.3,413.6 1663.3,404.9 1663.3,396.1 1663.3,387.3 1663.3,378.5 1663.3,369.8 1663.3,361 1663.3,352.2 1663.3,343.4 1663.2,334.7 1663.2,325.9 1663.1,317.1 1663,308.3 1663,299.5 1662.9,290.8 1662.8,282 1662.7,273.2 1662.7,264.4 1662.6,255.7 1662.5,246.9 1662.4,238.1 1662.3,229.3 1662.2,220.5 1662.1,211.8 1662,203 1661.9,194.2 1661.8,185.4 1661.7,176.7 1661.6,167.9 1661.4,159.1 1661.3,150.3 1661.2,141.6 1661.1,132.8 1661,124" fill="#0000FF" class="vp"/>
<line x1="1657.3" y1="124" x2="1657.3" y2="738.4" stroke="#000" stroke-width="2.3"/>
<ellipse cx="1657.3" cy="425" rx="5.2" ry="4.6" fill="#fff"/>
<polygon points="1670.3,116.6 1670.2,125.3 1670,134.1 1669.9,142.8 1669.7,151.6 1669.5,160.3 1669.4,169.1 1669.2,177.8 1669,186.6 1668.9,195.3 1668.7,204.1 1668.5,212.8 1668.4,221.6 1668.2,230.3 1668,239.1 1667.9,247.8 1667.7,256.6 1667.6,265.3 1667.5,274.1 1667.3,282.8 1667.2,291.6 1667.1,300.3 1667,309.1 1666.8,317.8 1666.7,326.6 1666.7,335.3 1666.6,344.1 1666.5,352.8 1666.5,361.6 1666.5,370.3 1666.5,379.1 1666.5,387.8 1666.5,396.6 1666.5,405.3 1666.5,414.1 1666.5,422.8 1666.5,431.5 1666.5,440.3 1666.5,449 1666.5,457.8 1666.5,466.5 1666.5,475.3 1666.6,484 1666.7,492.8 1666.8,501.5 1666.8,510.3 1666.9,519 1667,527.8 1667.2,536.5 1667.3,545.3 1667.4,554 1667.5,562.8 1667.7,571.5 1667.8,580.3 1667.9,589 1668.1,597.8 1668.2,606.5 1668.4,615.3 1668.5,624 1668.7,632.8 1668.8,641.5 1669,650.3 1669.1,659 1669.3,667.8 1669.4,676.5 1669.6,685.3 1669.7,694 1669.9,702.8 1670,711.5 1670.2,720.3 1670.3,729 1674.7,729 1674.9,720.3 1675,711.5 1675.2,702.8 1675.3,694 1675.5,685.3 1675.6,676.5 1675.8,667.8 1675.9,659 1676.1,650.3 1676.2,641.5 1676.4,632.8 1676.5,624 1676.7,615.3 1676.8,606.5 1677,597.8 1677.1,589 1677.3,580.3 1677.4,571.5 1677.5,562.8 1677.7,554 1677.8,545.3 1677.9,536.5 1678,527.8 1678.1,519 1678.2,510.3 1678.3,501.5 1678.4,492.8 1678.5,484 1678.5,475.3 1678.5,466.5 1678.5,457.8 1678.5,449 1678.5,440.3 1678.5,431.5 1678.5,422.8 1678.5,414.1 1678.5,405.3 1678.5,396.6 1678.5,387.8 1678.5,379.1 1678.5,370.3 1678.5,361.6 1678.5,352.8 1678.5,344.1 1678.4,335.3 1678.3,326.6 1678.2,317.8 1678.1,309.1 1678,300.3 1677.9,291.6 1677.7,282.8 1677.6,274.1 1677.5,265.3 1677.3,256.6 1677.2,247.8 1677,239.1 1676.9,230.3 1676.7,221.6 1676.5,212.8 1676.4,204.1 1676.2,195.3 1676,186.6 1675.9,177.8 1675.7,169.1 1675.5,160.3 1675.4,151.6 1675.2,142.8 1675,134.1 1674.9,125.3 1674.7,116.6" fill="#FF0000" class="vp"/>
<line x1="1672.5" y1="116.6" x2="1672.5" y2="729" stroke="#000" stroke-width="2.3"/>
<ellipse cx="1672.5" cy="400" rx="5.2" ry="4.6" fill="#fff"/>
<line x1="1659.7" y1="116.9" x2="1670.1" y2="116.9" class="ln"/>
<text transform="translate(1664.9,108.7) scale(1,1.04)" font-size="16.5" text-anchor="middle" class="t">p=0.739</text>
<text transform="translate(1663.1,788.8) rotate(-45) scale(1,1.04)" font-size="19.9" text-anchor="end" class="t">Memory.B.cell</text>
<polygon points="1701.9,205.4 1701.8,211.6 1701.7,217.8 1701.5,224 1701.4,230.2 1701.2,236.4 1701,242.7 1700.9,248.9 1700.7,255.1 1700.5,261.3 1700.3,267.5 1700.1,273.7 1699.9,279.9 1699.7,286.1 1699.5,292.3 1699.3,298.5 1699.1,304.7 1698.9,310.9 1698.8,317.2 1698.6,323.4 1698.4,329.6 1698.2,335.8 1698.1,342 1697.9,348.2 1697.8,354.4 1697.6,360.6 1697.5,366.8 1697.4,373 1697.3,379.2 1697.2,385.4 1697.2,391.7 1697.2,397.9 1697.2,404.1 1697.2,410.3 1697.2,416.5 1697.2,422.7 1697.2,428.9 1697.2,435.1 1697.2,441.3 1697.2,447.5 1697.2,453.7 1697.2,460 1697.2,466.2 1697.2,472.4 1697.3,478.6 1697.4,484.8 1697.6,491 1697.7,497.2 1697.8,503.4 1697.9,509.6 1698.1,515.8 1698.2,522 1698.4,528.2 1698.6,534.5 1698.7,540.7 1698.9,546.9 1699.1,553.1 1699.2,559.3 1699.4,565.5 1699.6,571.7 1699.8,577.9 1699.9,584.1 1700.1,590.3 1700.3,596.5 1700.5,602.7 1700.7,609 1700.8,615.2 1701,621.4 1701.1,627.6 1701.3,633.8 1701.5,640 1704.9,640 1705,633.8 1705.2,627.6 1705.3,621.4 1705.5,615.2 1705.6,609 1705.8,602.7 1706,596.5 1706.2,590.3 1706.4,584.1 1706.5,577.9 1706.7,571.7 1706.9,565.5 1707.1,559.3 1707.2,553.1 1707.4,546.9 1707.6,540.7 1707.7,534.5 1707.9,528.2 1708.1,522 1708.2,515.8 1708.4,509.6 1708.5,503.4 1708.6,497.2 1708.7,491 1708.9,484.8 1709,478.6 1709.1,472.4 1709.1,466.2 1709.2,460 1709.2,453.7 1709.2,447.5 1709.2,441.3 1709.2,435.1 1709.2,428.9 1709.2,422.7 1709.2,416.5 1709.2,410.3 1709.2,404.1 1709.2,397.9 1709.2,391.7 1709.1,385.4 1709,379.2 1708.9,373 1708.8,366.8 1708.7,360.6 1708.5,354.4 1708.4,348.2 1708.2,342 1708.1,335.8 1707.9,329.6 1707.7,323.4 1707.5,317.2 1707.4,310.9 1707.2,304.7 1707,298.5 1706.8,292.3 1706.6,286.1 1706.4,279.9 1706.2,273.7 1706,267.5 1705.8,261.3 1705.6,255.1 1705.4,248.9 1705.3,242.7 1705.1,236.4 1704.9,230.2 1704.8,224 1704.6,217.8 1704.5,211.6 1704.4,205.4" fill="#0000FF" class="vp"/>
<line x1="1703.2" y1="205.4" x2="1703.2" y2="640" stroke="#000" stroke-width="2.3"/>
<ellipse cx="1703.2" cy="432.6" rx="5.2" ry="4.6" fill="#fff"/>
<polygon points="1717.6,213.4 1717.6,219.5 1717.6,225.5 1717.6,231.6 1717.6,237.6 1717.6,243.7 1717.6,249.7 1717.5,255.8 1717.3,261.8 1717.2,267.9 1717,273.9 1716.7,280 1716.5,286 1716.3,292.1 1716,298.1 1715.7,304.2 1715.5,310.2 1715.2,316.3 1714.9,322.3 1714.6,328.4 1714.3,334.4 1714.1,340.5 1713.8,346.5 1713.6,352.6 1713.3,358.6 1713.1,364.7 1712.9,370.7 1712.7,376.8 1712.6,382.8 1712.4,388.9 1712.4,394.9 1712.4,401 1712.4,407 1712.4,413.1 1712.4,419.1 1712.4,425.2 1712.4,431.3 1712.4,437.3 1712.4,443.4 1712.5,449.4 1712.7,455.5 1712.8,461.5 1713,467.6 1713.2,473.6 1713.4,479.7 1713.6,485.7 1713.8,491.8 1714,497.8 1714.3,503.9 1714.5,509.9 1714.8,516 1715,522 1715.3,528.1 1715.5,534.1 1715.8,540.2 1716,546.2 1716.2,552.3 1716.5,558.3 1716.7,564.4 1716.9,570.4 1717.1,576.5 1717.2,582.5 1717.4,588.6 1717.5,594.6 1717.6,600.7 1717.6,606.7 1717.6,612.8 1717.6,618.8 1717.6,624.9 1717.6,630.9 1717.6,637 1719.2,637 1719.2,630.9 1719.2,624.9 1719.2,618.8 1719.2,612.8 1719.2,606.7 1719.2,600.7 1719.3,594.6 1719.4,588.6 1719.6,582.5 1719.7,576.5 1719.9,570.4 1720.1,564.4 1720.3,558.3 1720.6,552.3 1720.8,546.2 1721,540.2 1721.3,534.1 1721.5,528.1 1721.8,522 1722,516 1722.3,509.9 1722.5,503.9 1722.8,497.8 1723,491.8 1723.2,485.7 1723.4,479.7 1723.6,473.6 1723.8,467.6 1724,461.5 1724.1,455.5 1724.3,449.4 1724.4,443.4 1724.4,437.3 1724.4,431.3 1724.4,425.2 1724.4,419.1 1724.4,413.1 1724.4,407 1724.4,401 1724.4,394.9 1724.4,388.9 1724.2,382.8 1724.1,376.8 1723.9,370.7 1723.7,364.7 1723.5,358.6 1723.2,352.6 1723,346.5 1722.7,340.5 1722.5,334.4 1722.2,328.4 1721.9,322.3 1721.6,316.3 1721.3,310.2 1721.1,304.2 1720.8,298.1 1720.5,292.1 1720.3,286 1720.1,280 1719.8,273.9 1719.6,267.9 1719.5,261.8 1719.3,255.8 1719.2,249.7 1719.2,243.7 1719.2,237.6 1719.2,231.6 1719.2,225.5 1719.2,219.5 1719.2,213.4" fill="#FF0000" class="vp"/>
<line x1="1718.4" y1="213.4" x2="1718.4" y2="637" stroke="#000" stroke-width="2.3"/>
<ellipse cx="1718.4" cy="415" rx="5.2" ry="4.6" fill="#fff"/>
<line x1="1705.6" y1="205.7" x2="1716" y2="205.7" class="ln"/>
<text transform="translate(1710.8,197.5) scale(1,1.04)" font-size="16.5" text-anchor="middle" class="t">p=0.977</text>
<text transform="translate(1709,788.8) rotate(-45) scale(1,1.04)" font-size="19.9" text-anchor="end" class="t">Central.memory.CD4.T.cell</text>
<polygon points="1748.2,286 1748.2,289.9 1748.2,293.8 1748.2,297.6 1748.2,301.5 1748.2,305.4 1748.2,309.3 1748.2,313.1 1748.2,317 1748.2,320.9 1748.2,324.8 1748.2,328.6 1748.2,332.5 1748.2,336.4 1748,340.3 1747.8,344.2 1747.6,348 1747.3,351.9 1747,355.8 1746.7,359.7 1746.4,363.5 1746.1,367.4 1745.8,371.3 1745.5,375.2 1745.1,379.1 1744.8,382.9 1744.5,386.8 1744.2,390.7 1743.9,394.6 1743.7,398.4 1743.4,402.3 1743.2,406.2 1743.1,410.1 1743,413.9 1743,417.8 1743,421.7 1743,425.6 1743,429.5 1743,433.3 1743,437.2 1743,441.1 1743.2,445 1743.3,448.8 1743.5,452.7 1743.7,456.6 1743.9,460.5 1744.2,464.3 1744.4,468.2 1744.7,472.1 1744.9,476 1745.2,479.9 1745.5,483.7 1745.8,487.6 1746.1,491.5 1746.3,495.4 1746.6,499.2 1746.9,503.1 1747.1,507 1747.4,510.9 1747.6,514.8 1747.8,518.6 1747.9,522.5 1748.1,526.4 1748.2,530.3 1748.2,534.1 1748.2,538 1748.2,541.9 1748.2,545.8 1748.2,549.6 1748.2,553.5 1748.2,557.4 1749.8,557.4 1749.8,553.5 1749.8,549.6 1749.8,545.8 1749.8,541.9 1749.8,538 1749.8,534.1 1749.8,530.3 1749.9,526.4 1750.1,522.5 1750.3,518.6 1750.5,514.8 1750.7,510.9 1750.9,507 1751.2,503.1 1751.4,499.2 1751.7,495.4 1752,491.5 1752.3,487.6 1752.5,483.7 1752.8,479.9 1753.1,476 1753.4,472.1 1753.6,468.2 1753.9,464.3 1754.1,460.5 1754.3,456.6 1754.5,452.7 1754.7,448.8 1754.9,445 1755,441.1 1755,437.2 1755,433.3 1755,429.5 1755,425.6 1755,421.7 1755,417.8 1755,413.9 1755,410.1 1754.8,406.2 1754.6,402.3 1754.4,398.4 1754.1,394.6 1753.8,390.7 1753.5,386.8 1753.2,382.9 1752.9,379.1 1752.6,375.2 1752.3,371.3 1751.9,367.4 1751.6,363.5 1751.3,359.7 1751,355.8 1750.7,351.9 1750.5,348 1750.2,344.2 1750,340.3 1749.9,336.4 1749.8,332.5 1749.8,328.6 1749.8,324.8 1749.8,320.9 1749.8,317 1749.8,313.1 1749.8,309.3 1749.8,305.4 1749.8,301.5 1749.8,297.6 1749.8,293.8 1749.8,289.9 1749.8,286" fill="#0000FF" class="vp"/>
<line x1="1749" y1="286" x2="1749" y2="557.4" stroke="#000" stroke-width="2.3"/>
<ellipse cx="1749" cy="432.6" rx="5.2" ry="4.6" fill="#fff"/>
<polygon points="1763.5,245.4 1763.5,249.7 1763.5,254 1763.5,258.3 1763.5,262.6 1763.5,266.9 1763.5,271.3 1763.5,275.6 1763.5,279.9 1763.5,284.2 1763.5,288.5 1763.5,292.8 1763.5,297.1 1763.4,301.4 1763.3,305.7 1763.1,310 1762.9,314.3 1762.7,318.6 1762.5,323 1762.3,327.3 1762,331.6 1761.7,335.9 1761.4,340.2 1761.2,344.5 1760.9,348.8 1760.6,353.1 1760.3,357.4 1760,361.7 1759.8,366 1759.5,370.3 1759.3,374.7 1759,379 1758.8,383.3 1758.6,387.6 1758.5,391.9 1758.3,396.2 1758.3,400.5 1758.3,404.8 1758.3,409.1 1758.3,413.4 1758.3,417.7 1758.3,422.1 1758.3,426.4 1758.3,430.7 1758.4,435 1758.5,439.3 1758.7,443.6 1758.9,447.9 1759.2,452.2 1759.4,456.5 1759.7,460.8 1760,465.1 1760.3,469.4 1760.6,473.8 1760.9,478.1 1761.2,482.4 1761.5,486.7 1761.7,491 1762,495.3 1762.3,499.6 1762.5,503.9 1762.8,508.2 1763,512.5 1763.2,516.8 1763.4,521.1 1763.5,525.5 1763.5,529.8 1763.5,534.1 1763.5,538.4 1763.5,542.7 1763.5,547 1765.1,547 1765.1,542.7 1765.1,538.4 1765.1,534.1 1765.1,529.8 1765.1,525.5 1765.2,521.1 1765.4,516.8 1765.5,512.5 1765.8,508.2 1766,503.9 1766.2,499.6 1766.5,495.3 1766.8,491 1767.1,486.7 1767.4,482.4 1767.7,478.1 1768,473.8 1768.3,469.4 1768.6,465.1 1768.8,460.8 1769.1,456.5 1769.4,452.2 1769.6,447.9 1769.8,443.6 1770,439.3 1770.2,435 1770.3,430.7 1770.3,426.4 1770.3,422.1 1770.3,417.7 1770.3,413.4 1770.3,409.1 1770.3,404.8 1770.3,400.5 1770.2,396.2 1770.1,391.9 1769.9,387.6 1769.7,383.3 1769.5,379 1769.3,374.7 1769,370.3 1768.8,366 1768.5,361.7 1768.2,357.4 1768,353.1 1767.7,348.8 1767.4,344.5 1767.1,340.2 1766.8,335.9 1766.5,331.6 1766.3,327.3 1766,323 1765.8,318.6 1765.6,314.3 1765.4,310 1765.2,305.7 1765.1,301.4 1765.1,297.1 1765.1,292.8 1765.1,288.5 1765.1,284.2 1765.1,279.9 1765.1,275.6 1765.1,271.3 1765.1,266.9 1765.1,262.6 1765.1,258.3 1765.1,254 1765.1,249.7 1765.1,245.4" fill="#FF0000" class="vp"/>
<line x1="1764.3" y1="245.4" x2="1764.3" y2="547" stroke="#000" stroke-width="2.3"/>
<ellipse cx="1764.3" cy="416" rx="5.2" ry="4.6" fill="#fff"/>
<line x1="1751.4" y1="245.7" x2="1761.9" y2="245.7" class="ln"/>
<text transform="translate(1756.6,237.5) scale(1,1.04)" font-size="16.5" text-anchor="middle" class="t">p=0.323</text>
<text transform="translate(1754.8,788.8) rotate(-45) scale(1,1.04)" font-size="19.9" text-anchor="end" class="t">Central.memory.CD8.T.cell</text>
<polygon points="1791.2,207.4 1791.1,213.5 1790.9,219.6 1790.8,225.6 1790.7,231.7 1790.6,237.8 1790.4,243.9 1790.3,250 1790.2,256 1790.1,262.1 1790,268.2 1789.9,274.3 1789.8,280.4 1789.7,286.4 1789.6,292.5 1789.5,298.6 1789.4,304.7 1789.3,310.8 1789.2,316.8 1789.1,322.9 1789.1,329 1789,335.1 1788.9,341.2 1788.9,347.2 1788.9,353.3 1788.9,359.4 1788.9,365.5 1788.9,371.6 1788.9,377.6 1788.9,383.7 1788.9,389.8 1788.9,395.9 1788.9,402 1788.9,408 1788.9,414.1 1788.9,420.2 1788.9,426.3 1788.9,432.4 1788.9,438.4 1788.9,444.5 1788.9,450.6 1788.9,456.7 1789,462.8 1789.1,468.8 1789.1,474.9 1789.2,481 1789.3,487.1 1789.4,493.2 1789.5,499.2 1789.6,505.3 1789.7,511.4 1789.8,517.5 1789.9,523.6 1790,529.6 1790.1,535.7 1790.2,541.8 1790.4,547.9 1790.5,554 1790.6,560 1790.7,566.1 1790.9,572.2 1791,578.3 1791.1,584.4 1791.3,590.4 1791.4,596.5 1791.5,602.6 1791.7,608.7 1791.8,614.8 1791.9,620.8 1792.1,626.9 1792.2,633 1797.6,633 1797.7,626.9 1797.9,620.8 1798,614.8 1798.1,608.7 1798.2,602.6 1798.4,596.5 1798.5,590.4 1798.6,584.4 1798.8,578.3 1798.9,572.2 1799,566.1 1799.2,560 1799.3,554 1799.4,547.9 1799.5,541.8 1799.7,535.7 1799.8,529.6 1799.9,523.6 1800,517.5 1800.1,511.4 1800.2,505.3 1800.3,499.2 1800.4,493.2 1800.5,487.1 1800.6,481 1800.6,474.9 1800.7,468.8 1800.8,462.8 1800.9,456.7 1800.9,450.6 1800.9,444.5 1800.9,438.4 1800.9,432.4 1800.9,426.3 1800.9,420.2 1800.9,414.1 1800.9,408 1800.9,402 1800.9,395.9 1800.9,389.8 1800.9,383.7 1800.9,377.6 1800.9,371.6 1800.9,365.5 1800.9,359.4 1800.9,353.3 1800.9,347.2 1800.8,341.2 1800.8,335.1 1800.7,329 1800.7,322.9 1800.6,316.8 1800.5,310.8 1800.4,304.7 1800.3,298.6 1800.2,292.5 1800.1,286.4 1800,280.4 1799.9,274.3 1799.8,268.2 1799.7,262.1 1799.6,256 1799.5,250 1799.3,243.9 1799.2,237.8 1799.1,231.7 1799,225.6 1798.8,219.6 1798.7,213.5 1798.6,207.4" fill="#0000FF" class="vp"/>
<line x1="1794.9" y1="207.4" x2="1794.9" y2="633" stroke="#000" stroke-width="2.3"/>
<ellipse cx="1794.9" cy="398" rx="5.2" ry="4.6" fill="#fff"/>
<polygon points="1807.9,176 1807.8,183.4 1807.6,190.7 1807.4,198.1 1807.2,205.4 1807,212.8 1806.8,220.1 1806.6,227.5 1806.4,234.8 1806.2,242.2 1806,249.5 1805.8,256.9 1805.6,264.2 1805.4,271.6 1805.3,278.9 1805.1,286.3 1804.9,293.6 1804.8,301 1804.6,308.3 1804.5,315.7 1804.4,323 1804.3,330.4 1804.2,337.7 1804.1,345.1 1804.1,352.4 1804.1,359.8 1804.1,367.1 1804.1,374.5 1804.1,381.8 1804.1,389.2 1804.1,396.5 1804.1,403.9 1804.1,411.2 1804.1,418.6 1804.2,425.9 1804.4,433.3 1804.5,440.7 1804.7,448 1804.8,455.4 1805,462.7 1805.2,470.1 1805.5,477.4 1805.7,484.8 1805.9,492.1 1806.2,499.5 1806.4,506.8 1806.6,514.2 1806.9,521.5 1807.1,528.9 1807.4,536.2 1807.6,543.6 1807.8,550.9 1808.1,558.3 1808.3,565.6 1808.5,573 1808.7,580.3 1808.8,587.7 1809,595 1809.1,602.4 1809.3,609.7 1809.3,617.1 1809.3,624.4 1809.3,631.8 1809.3,639.1 1809.3,646.5 1809.3,653.8 1809.3,661.2 1809.3,668.5 1809.3,675.9 1809.3,683.2 1809.3,690.6 1810.9,690.6 1810.9,683.2 1810.9,675.9 1810.9,668.5 1810.9,661.2 1810.9,653.8 1810.9,646.5 1810.9,639.1 1810.9,631.8 1810.9,624.4 1810.9,617.1 1811,609.7 1811.1,602.4 1811.3,595 1811.4,587.7 1811.6,580.3 1811.8,573 1812,565.6 1812.2,558.3 1812.4,550.9 1812.7,543.6 1812.9,536.2 1813.2,528.9 1813.4,521.5 1813.6,514.2 1813.9,506.8 1814.1,499.5 1814.4,492.1 1814.6,484.8 1814.8,477.4 1815,470.1 1815.2,462.7 1815.4,455.4 1815.6,448 1815.8,440.7 1815.9,433.3 1816,425.9 1816.1,418.6 1816.1,411.2 1816.1,403.9 1816.1,396.5 1816.1,389.2 1816.1,381.8 1816.1,374.5 1816.1,367.1 1816.1,359.8 1816.1,352.4 1816.1,345.1 1816.1,337.7 1816,330.4 1815.9,323 1815.8,315.7 1815.6,308.3 1815.5,301 1815.3,293.6 1815.2,286.3 1815,278.9 1814.8,271.6 1814.7,264.2 1814.5,256.9 1814.3,249.5 1814.1,242.2 1813.9,234.8 1813.7,227.5 1813.5,220.1 1813.3,212.8 1813.1,205.4 1812.9,198.1 1812.7,190.7 1812.5,183.4 1812.3,176" fill="#FF0000" class="vp"/>
<line x1="1810.1" y1="176" x2="1810.1" y2="690.6" stroke="#000" stroke-width="2.3"/>
<ellipse cx="1810.1" cy="382" rx="5.2" ry="4.6" fill="#fff"/>
<line x1="1797.3" y1="176.3" x2="1807.7" y2="176.3" class="ln"/>
<text transform="translate(1802.5,168.1) scale(1,1.04)" font-size="16.5" text-anchor="middle" class="t">p=0.757</text>
<text transform="translate(1800.7,788.8) rotate(-45) scale(1,1.04)" font-size="19.9" text-anchor="end" class="t">Effector.memory.CD8.T.cell</text>
<rect x="506.8" y="59" width="1337.6" height="705.3" fill="none" class="ln"/>
<line x1="1738" y1="83" x2="1773" y2="83" stroke="#0000FF" stroke-width="4" stroke-linecap="round"/>
<line x1="1738" y1="107" x2="1773" y2="107" stroke="#FF0000" stroke-width="4" stroke-linecap="round"/>
<text transform="translate(1790.5,90) scale(1,1.04)" font-size="19.5" class="t">Con</text>
<text transform="translate(1790.5,114) scale(1,1.04)" font-size="19.5" class="t">SCZ</text>
</g>
<g id="panelB">
<text transform="translate(65.2,1057) scale(1,1.045)" font-size="84" class="t">B</text>
<line x1="345" y1="1104.5" x2="1005" y2="1104.5" stroke="#E8E8E8" stroke-width="2.2"/>
<line x1="345" y1="1137.5" x2="1005" y2="1137.5" stroke="#E8E8E8" stroke-width="2.2"/>
<line x1="345" y1="1170.5" x2="1005" y2="1170.5" stroke="#E8E8E8" stroke-width="2.2"/>
<line x1="345" y1="1203.5" x2="1005" y2="1203.5" stroke="#E8E8E8" stroke-width="2.2"/>
<line x1="345" y1="1236.5" x2="1005" y2="1236.5" stroke="#E8E8E8" stroke-width="2.2"/>
<line x1="345" y1="1269.5" x2="1005" y2="1269.5" stroke="#E8E8E8" stroke-width="2.2"/>
<line x1="345" y1="1302.6" x2="1005" y2="1302.6" stroke="#E8E8E8" stroke-width="2.2"/>
<line x1="345" y1="1335.6" x2="1005" y2="1335.6" stroke="#E8E8E8" stroke-width="2.2"/>
<line x1="345" y1="1368.6" x2="1005" y2="1368.6" stroke="#E8E8E8" stroke-width="2.2"/>
<line x1="345" y1="1401.6" x2="1005" y2="1401.6" stroke="#E8E8E8" stroke-width="2.2"/>
<line x1="345" y1="1434.6" x2="1005" y2="1434.6" stroke="#E8E8E8" stroke-width="2.2"/>
<line x1="345" y1="1467.6" x2="1005" y2="1467.6" stroke="#E8E8E8" stroke-width="2.2"/>
<line x1="345" y1="1500.6" x2="1005" y2="1500.6" stroke="#E8E8E8" stroke-width="2.2"/>
<line x1="345" y1="1533.6" x2="1005" y2="1533.6" stroke="#E8E8E8" stroke-width="2.2"/>
<line x1="345" y1="1566.6" x2="1005" y2="1566.6" stroke="#E8E8E8" stroke-width="2.2"/>
<line x1="345" y1="1599.7" x2="1005" y2="1599.7" stroke="#E8E8E8" stroke-width="2.2"/>
<line x1="345" y1="1632.7" x2="1005" y2="1632.7" stroke="#E8E8E8" stroke-width="2.2"/>
<line x1="345" y1="1665.7" x2="1005" y2="1665.7" stroke="#E8E8E8" stroke-width="2.2"/>
<line x1="345" y1="1698.7" x2="1005" y2="1698.7" stroke="#E8E8E8" stroke-width="2.2"/>
<line x1="345" y1="1731.7" x2="1005" y2="1731.7" stroke="#E8E8E8" stroke-width="2.2"/>
<line x1="345" y1="1764.7" x2="1005" y2="1764.7" stroke="#E8E8E8" stroke-width="2.2"/>
<line x1="345" y1="1797.7" x2="1005" y2="1797.7" stroke="#E8E8E8" stroke-width="2.2"/>
<line x1="345" y1="1830.7" x2="1005" y2="1830.7" stroke="#E8E8E8" stroke-width="2.2"/>
<line x1="345" y1="1863.7" x2="1005" y2="1863.7" stroke="#E8E8E8" stroke-width="2.2"/>
<line x1="345" y1="1896.7" x2="1005" y2="1896.7" stroke="#E8E8E8" stroke-width="2.2"/>
<line x1="345" y1="1929.8" x2="1005" y2="1929.8" stroke="#E8E8E8" stroke-width="2.2"/>
<line x1="345" y1="1962.8" x2="1005" y2="1962.8" stroke="#E8E8E8" stroke-width="2.2"/>
<line x1="345" y1="1995.8" x2="1005" y2="1995.8" stroke="#E8E8E8" stroke-width="2.2"/>
<text transform="translate(333,1113.1) scale(1,1.04)" font-size="24.2" font-weight="bold" text-anchor="end" fill="#444" class="tb">Type.2.T.helper.cell</text>
<rect x="375.5" y="1088" width="300" height="33" fill="#C1BBE2" stroke="#BDBDBD" stroke-width="5"/>
<rect x="675.5" y="1088" width="300" height="33" fill="#F5F3FA" stroke="#BDBDBD" stroke-width="5"/>
<text transform="translate(333,1146.1) scale(1,1.04)" font-size="24.2" font-weight="bold" text-anchor="end" fill="#444" class="tb">Type.17.T.helper.cell</text>
<rect x="375.5" y="1121" width="300" height="33" fill="#FFE5DF" stroke="#BDBDBD" stroke-width="5"/>
<rect x="675.5" y="1121" width="300" height="33" fill="#FFCDC3" stroke="#BDBDBD" stroke-width="5"/>
<text transform="translate(333,1179.1) scale(1,1.04)" font-size="24.2" font-weight="bold" text-anchor="end" fill="#444" class="tb">Type.1.T.helper.cell</text>
<rect x="375.5" y="1154" width="300" height="33" fill="#FD8471" stroke="#BDBDBD" stroke-width="5"/>
<rect x="675.5" y="1154" width="300" height="33" fill="#FFFFFF" stroke="#BDBDBD" stroke-width="5"/>
<text transform="translate(333,1212.1) scale(1,1.04)" font-size="24.2" font-weight="bold" text-anchor="end" fill="#444" class="tb">T.follicular.helper.cell</text>
<rect x="375.5" y="1187" width="300" height="33" fill="#FD8471" stroke="#BDBDBD" stroke-width="5"/>
<rect x="675.5" y="1187" width="300" height="33" fill="#AFA8D9" stroke="#BDBDBD" stroke-width="5"/>
<text transform="translate(333,1245.1) scale(1,1.04)" font-size="24.2" font-weight="bold" text-anchor="end" fill="#444" class="tb">Regulatory.T.cell</text>
<rect x="375.5" y="1220" width="300" height="33" fill="#FF9D8C" stroke="#BDBDBD" stroke-width="5"/>
<rect x="675.5" y="1220" width="300" height="33" fill="#C1BBE2" stroke="#BDBDBD" stroke-width="5"/>
<text transform="translate(333,1278.1) scale(1,1.04)" font-size="24.2" font-weight="bold" text-anchor="end" fill="#444" class="tb">Plasmacytoid.dendritic.cell</text>
<rect x="375.5" y="1253" width="300" height="33" fill="#FC7C69" stroke="#BDBDBD" stroke-width="5"/>
<rect x="675.5" y="1253" width="300" height="33" fill="#AAA2D7" stroke="#BDBDBD" stroke-width="5"/>
<text transform="translate(333,1311.2) scale(1,1.04)" font-size="24.2" font-weight="bold" text-anchor="end" fill="#444" class="tb">Neutrophil</text>
<rect x="375.5" y="1286.1" width="300" height="33" fill="#FE8976" stroke="#BDBDBD" stroke-width="5"/>
<rect x="675.5" y="1286.1" width="300" height="33" fill="#FFDFD8" stroke="#BDBDBD" stroke-width="5"/>
<text transform="translate(333,1344.2) scale(1,1.04)" font-size="24.2" font-weight="bold" text-anchor="end" fill="#444" class="tb">Natural.killer.T.cell</text>
<rect x="375.5" y="1319.1" width="300" height="33" fill="#F86C5A" stroke="#BDBDBD" stroke-width="5"/>
<rect x="675.5" y="1319.1" width="300" height="33" fill="#E3DFF2" stroke="#BDBDBD" stroke-width="5"/>
<text transform="translate(333,1377.2) scale(1,1.04)" font-size="24.2" font-weight="bold" text-anchor="end" fill="#444" class="tb">Natural.killer.cell</text>
<rect x="375.5" y="1352.1" width="300" height="33" fill="#FC7F6C" stroke="#BDBDBD" stroke-width="5"/>
<rect x="675.5" y="1352.1" width="300" height="33" fill="#E0DCF1" stroke="#BDBDBD" stroke-width="5"/>
<text transform="translate(333,1410.2) scale(1,1.04)" font-size="24.2" font-weight="bold" text-anchor="end" fill="#444" class="tb">Monocyte</text>
<rect x="375.5" y="1385.1" width="300" height="33" fill="#FFA897" stroke="#BDBDBD" stroke-width="5"/>
<rect x="675.5" y="1385.1" width="300" height="33" fill="#FAF9FD" stroke="#BDBDBD" stroke-width="5"/>
<text transform="translate(333,1443.2) scale(1,1.04)" font-size="24.2" font-weight="bold" text-anchor="end" fill="#444" class="tb">Memory.B.cell</text>
<rect x="375.5" y="1418.1" width="300" height="33" fill="#F2F0F9" stroke="#BDBDBD" stroke-width="5"/>
<rect x="675.5" y="1418.1" width="300" height="33" fill="#FFC2B6" stroke="#BDBDBD" stroke-width="5"/>
<text transform="translate(333,1476.2) scale(1,1.04)" font-size="24.2" font-weight="bold" text-anchor="end" fill="#444" class="tb">MDSC</text>
<rect x="375.5" y="1451.1" width="300" height="33" fill="#E82828" stroke="#BDBDBD" stroke-width="5"/>
<rect x="675.5" y="1451.1" width="300" height="33" fill="#B5ADDC" stroke="#BDBDBD" stroke-width="5"/>
<text transform="translate(333,1509.2) scale(1,1.04)" font-size="24.2" font-weight="bold" text-anchor="end" fill="#444" class="tb">Mast.cell</text>
<rect x="375.5" y="1484.1" width="300" height="33" fill="#FFD0C6" stroke="#BDBDBD" stroke-width="5"/>
<rect x="675.5" y="1484.1" width="300" height="33" fill="#C7C0E4" stroke="#BDBDBD" stroke-width="5"/>
<text transform="translate(333,1542.2) scale(1,1.04)" font-size="24.2" font-weight="bold" text-anchor="end" fill="#444" class="tb">Macrophage</text>
<rect x="375.5" y="1517.1" width="300" height="33" fill="#FFCDC3" stroke="#BDBDBD" stroke-width="5"/>
<rect x="675.5" y="1517.1" width="300" height="33" fill="#F7F6FB" stroke="#BDBDBD" stroke-width="5"/>
<text transform="translate(333,1575.2) scale(1,1.04)" font-size="24.2" font-weight="bold" text-anchor="end" fill="#444" class="tb">Immature.dendritic.cell</text>
<rect x="375.5" y="1550.1" width="300" height="33" fill="#FFF2EF" stroke="#BDBDBD" stroke-width="5"/>
<rect x="675.5" y="1550.1" width="300" height="33" fill="#D9D4ED" stroke="#BDBDBD" stroke-width="5"/>
<text transform="translate(333,1608.2) scale(1,1.04)" font-size="24.2" font-weight="bold" text-anchor="end" fill="#444" class="tb">Immature.B.cell</text>
<rect x="375.5" y="1583.2" width="300" height="33" fill="#FF9684" stroke="#BDBDBD" stroke-width="5"/>
<rect x="675.5" y="1583.2" width="300" height="33" fill="#F5F3FA" stroke="#BDBDBD" stroke-width="5"/>
<text transform="translate(333,1641.3) scale(1,1.04)" font-size="24.2" font-weight="bold" text-anchor="end" fill="#444" class="tb">Gamma.delta.T.cell</text>
<rect x="375.5" y="1616.2" width="300" height="33" fill="#F25646" stroke="#BDBDBD" stroke-width="5"/>
<rect x="675.5" y="1616.2" width="300" height="33" fill="#FFF2EF" stroke="#BDBDBD" stroke-width="5"/>
<text transform="translate(333,1674.3) scale(1,1.04)" font-size="24.2" font-weight="bold" text-anchor="end" fill="#444" class="tb">Eosinophil</text>
<rect x="375.5" y="1649.2" width="300" height="33" fill="#DBD7EE" stroke="#BDBDBD" stroke-width="5"/>
<rect x="675.5" y="1649.2" width="300" height="33" fill="#A8A0D6" stroke="#BDBDBD" stroke-width="5"/>
<text transform="translate(333,1707.3) scale(1,1.04)" font-size="24.2" font-weight="bold" text-anchor="end" fill="#444" class="tb">Effector.memory.CD8.T.cell</text>
<rect x="375.5" y="1682.2" width="300" height="33" fill="#E8E5F4" stroke="#BDBDBD" stroke-width="5"/>
<rect x="675.5" y="1682.2" width="300" height="33" fill="#FFF2EF" stroke="#BDBDBD" stroke-width="5"/>
<text transform="translate(333,1740.3) scale(1,1.04)" font-size="24.2" font-weight="bold" text-anchor="end" fill="#444" class="tb">Effector.memory.CD4.T.cell</text>
<rect x="375.5" y="1715.2" width="300" height="33" fill="#FFCDC3" stroke="#BDBDBD" stroke-width="5"/>
<rect x="675.5" y="1715.2" width="300" height="33" fill="#FAF9FD" stroke="#BDBDBD" stroke-width="5"/>
<text transform="translate(333,1773.3) scale(1,1.04)" font-size="24.2" font-weight="bold" text-anchor="end" fill="#444" class="tb">Central.memory.CD8.T.cell</text>
<rect x="375.5" y="1748.2" width="300" height="33" fill="#FF9D8C" stroke="#BDBDBD" stroke-width="5"/>
<rect x="675.5" y="1748.2" width="300" height="33" fill="#F0EEF8" stroke="#BDBDBD" stroke-width="5"/>
<text transform="translate(333,1806.3) scale(1,1.04)" font-size="24.2" font-weight="bold" text-anchor="end" fill="#444" class="tb">Central.memory.CD4.T.cell</text>
<rect x="375.5" y="1781.2" width="300" height="33" fill="#C9C3E6" stroke="#BDBDBD" stroke-width="5"/>
<rect x="675.5" y="1781.2" width="300" height="33" fill="#FFFFFF" stroke="#BDBDBD" stroke-width="5"/>
<text transform="translate(333,1839.3) scale(1,1.04)" font-size="24.2" font-weight="bold" text-anchor="end" fill="#444" class="tb">CD56dim.natural.killer.cell</text>
<rect x="375.5" y="1814.2" width="300" height="33" fill="#FB7966" stroke="#BDBDBD" stroke-width="5"/>
<rect x="675.5" y="1814.2" width="300" height="33" fill="#FFDFD8" stroke="#BDBDBD" stroke-width="5"/>
<text transform="translate(333,1872.3) scale(1,1.04)" font-size="24.2" font-weight="bold" text-anchor="end" fill="#444" class="tb">CD56bright.natural.killer.cell</text>
<rect x="375.5" y="1847.2" width="300" height="33" fill="#FFC0B3" stroke="#BDBDBD" stroke-width="5"/>
<rect x="675.5" y="1847.2" width="300" height="33" fill="#C9C3E6" stroke="#BDBDBD" stroke-width="5"/>
<text transform="translate(333,1905.3) scale(1,1.04)" font-size="24.2" font-weight="bold" text-anchor="end" fill="#444" class="tb">Activated.dendritic.cell</text>
<rect x="375.5" y="1880.2" width="300" height="33" fill="#FF9886" stroke="#BDBDBD" stroke-width="5"/>
<rect x="675.5" y="1880.2" width="300" height="33" fill="#B2AADB" stroke="#BDBDBD" stroke-width="5"/>
<text transform="translate(333,1938.3) scale(1,1.04)" font-size="24.2" font-weight="bold" text-anchor="end" fill="#444" class="tb">Activated.CD8.T.cell</text>
<rect x="375.5" y="1913.2" width="300" height="33" fill="#F66452" stroke="#BDBDBD" stroke-width="5"/>
<rect x="675.5" y="1913.2" width="300" height="33" fill="#DBD7EE" stroke="#BDBDBD" stroke-width="5"/>
<text transform="translate(333,1971.4) scale(1,1.04)" font-size="24.2" font-weight="bold" text-anchor="end" fill="#444" class="tb">Activated.CD4.T.cell</text>
<rect x="375.5" y="1946.3" width="300" height="33" fill="#F5F3FA" stroke="#BDBDBD" stroke-width="5"/>
<rect x="675.5" y="1946.3" width="300" height="33" fill="#E3DFF2" stroke="#BDBDBD" stroke-width="5"/>
<text transform="translate(333,2004.4) scale(1,1.04)" font-size="24.2" font-weight="bold" text-anchor="end" fill="#444" class="tb">Activated.B.cell</text>
<rect x="375.5" y="1979.3" width="300" height="33" fill="#FFFCFC" stroke="#BDBDBD" stroke-width="5"/>
<rect x="675.5" y="1979.3" width="300" height="33" fill="#FFCBC0" stroke="#BDBDBD" stroke-width="5"/>
<text transform="translate(525.5,1176.4) scale(1,1.04)" font-size="20.5" text-anchor="middle" class="t">**</text>
<text transform="translate(525.5,1209.4) scale(1,1.04)" font-size="20.5" text-anchor="middle" class="t">**</text>
<text transform="translate(525.5,1242.4) scale(1,1.04)" font-size="20.5" text-anchor="middle" class="t">*</text>
<text transform="translate(525.5,1275.5) scale(1,1.04)" font-size="20.5" text-anchor="middle" class="t">**</text>
<text transform="translate(825.5,1275.5) scale(1,1.04)" font-size="20.5" text-anchor="middle" class="t">*</text>
<text transform="translate(525.5,1308.5) scale(1,1.04)" font-size="20.5" text-anchor="middle" class="t">**</text>
<text transform="translate(525.5,1341.5) scale(1,1.04)" font-size="20.5" text-anchor="middle" class="t">***</text>
<text transform="translate(525.5,1374.5) scale(1,1.04)" font-size="20.5" text-anchor="middle" class="t">**</text>
<text transform="translate(525.5,1473.5) scale(1,1.04)" font-size="20.5" text-anchor="middle" class="t">***</text>
<text transform="translate(525.5,1605.6) scale(1,1.04)" font-size="20.5" text-anchor="middle" class="t">*</text>
<text transform="translate(525.5,1638.6) scale(1,1.04)" font-size="20.5" text-anchor="middle" class="t">***</text>
<text transform="translate(825.5,1671.6) scale(1,1.04)" font-size="20.5" text-anchor="middle" class="t">*</text>
<text transform="translate(525.5,1770.6) scale(1,1.04)" font-size="20.5" text-anchor="middle" class="t">*</text>
<text transform="translate(525.5,1836.6) scale(1,1.04)" font-size="20.5" text-anchor="middle" class="t">**</text>
<text transform="translate(525.5,1902.6) scale(1,1.04)" font-size="20.5" text-anchor="middle" class="t">*</text>
<text transform="translate(525.5,1935.7) scale(1,1.04)" font-size="20.5" text-anchor="middle" class="t">***</text>
<text transform="translate(537.6,2039.8) rotate(-45) scale(1,1.04)" font-size="23.5" font-weight="bold" text-anchor="end" fill="#444" class="tb">S100A9</text>
<text transform="translate(837.6,2040.2) rotate(-45) scale(1,1.04)" font-size="23.5" font-weight="bold" text-anchor="end" fill="#444" class="tb">VGLL1</text>
<text transform="translate(1046,1389.5) scale(1,1.04)" font-size="26" class="t">***</text><text transform="translate(1091.5,1389.5) scale(1,1.04)" font-size="26" class="t">p&lt;0.001</text>
<text transform="translate(1046,1418.3) scale(1,1.04)" font-size="26" class="t">**</text><text transform="translate(1081.5,1418.3) scale(1,1.04)" font-size="26" class="t">p&lt;0.01</text>
<text transform="translate(1053,1447.1) scale(1,1.04)" font-size="26" class="t">*</text><text transform="translate(1079,1447.1) scale(1,1.04)" font-size="26" class="t">p&lt;0.05</text>
<text transform="translate(1045,1504.7) scale(1,1.04)" font-size="26" class="t">Correlation</text>
<rect x="1045.2" y="1522" width="42.5" height="4.1" fill="#EC3D34"/>
<rect x="1045.2" y="1525.5" width="42.5" height="4.1" fill="#EE4338"/>
<rect x="1045.2" y="1529" width="42.5" height="4.1" fill="#EF493C"/>
<rect x="1045.2" y="1532.5" width="42.5" height="4.1" fill="#F14F40"/>
<rect x="1045.2" y="1536" width="42.5" height="4.1" fill="#F25445"/>
<rect x="1045.2" y="1539.4" width="42.5" height="4.1" fill="#F35949"/>
<rect x="1045.2" y="1542.9" width="42.5" height="4.1" fill="#F45E4D"/>
<rect x="1045.2" y="1546.4" width="42.5" height="4.1" fill="#F66351"/>
<rect x="1045.2" y="1549.9" width="42.5" height="4.1" fill="#F76856"/>
<rect x="1045.2" y="1553.4" width="42.5" height="4.1" fill="#F86C5A"/>
<rect x="1045.2" y="1556.9" width="42.5" height="4.1" fill="#F9715F"/>
<rect x="1045.2" y="1560.4" width="42.5" height="4.1" fill="#FA7663"/>
<rect x="1045.2" y="1563.9" width="42.5" height="4.1" fill="#FB7A67"/>
<rect x="1045.2" y="1567.3" width="42.5" height="4.1" fill="#FC7F6C"/>
<rect x="1045.2" y="1570.8" width="42.5" height="4.1" fill="#FD8371"/>
<rect x="1045.2" y="1574.3" width="42.5" height="4.1" fill="#FE8875"/>
<rect x="1045.2" y="1577.8" width="42.5" height="4.1" fill="#FF8D7A"/>
<rect x="1045.2" y="1581.3" width="42.5" height="4.1" fill="#FF917F"/>
<rect x="1045.2" y="1584.8" width="42.5" height="4.1" fill="#FF9684"/>
<rect x="1045.2" y="1588.3" width="42.5" height="4.1" fill="#FF9A89"/>
<rect x="1045.2" y="1591.8" width="42.5" height="4.1" fill="#FF9F8E"/>
<rect x="1045.2" y="1595.3" width="42.5" height="4.1" fill="#FFA393"/>
<rect x="1045.2" y="1598.7" width="42.5" height="4.1" fill="#FFA898"/>
<rect x="1045.2" y="1602.2" width="42.5" height="4.1" fill="#FFAC9D"/>
<rect x="1045.2" y="1605.7" width="42.5" height="4.1" fill="#FFB1A2"/>
<rect x="1045.2" y="1609.2" width="42.5" height="4.1" fill="#FFB6A7"/>
<rect x="1045.2" y="1612.7" width="42.5" height="4.1" fill="#FFBAAD"/>
<rect x="1045.2" y="1616.2" width="42.5" height="4.1" fill="#FFBFB2"/>
<rect x="1045.2" y="1619.7" width="42.5" height="4.1" fill="#FFC4B8"/>
<rect x="1045.2" y="1623.2" width="42.5" height="4.1" fill="#FFC9BE"/>
<rect x="1045.2" y="1626.6" width="42.5" height="4.1" fill="#FFCEC3"/>
<rect x="1045.2" y="1630.1" width="42.5" height="4.1" fill="#FFD3C9"/>
<rect x="1045.2" y="1633.6" width="42.5" height="4.1" fill="#FFD8CF"/>
<rect x="1045.2" y="1637.1" width="42.5" height="4.1" fill="#FFDDD6"/>
<rect x="1045.2" y="1640.6" width="42.5" height="4.1" fill="#FFE3DC"/>
<rect x="1045.2" y="1644.1" width="42.5" height="4.1" fill="#FFE8E3"/>
<rect x="1045.2" y="1647.6" width="42.5" height="4.1" fill="#FFEEEA"/>
<rect x="1045.2" y="1651.1" width="42.5" height="4.1" fill="#FFF4F2"/>
<rect x="1045.2" y="1654.6" width="42.5" height="4.1" fill="#FFFBFA"/>
<rect x="1045.2" y="1658" width="42.5" height="4.1" fill="#FCFCFE"/>
<rect x="1045.2" y="1661.5" width="42.5" height="4.1" fill="#F8F7FC"/>
<rect x="1045.2" y="1665" width="42.5" height="4.1" fill="#F3F2F9"/>
<rect x="1045.2" y="1668.5" width="42.5" height="4.1" fill="#EFEDF7"/>
<rect x="1045.2" y="1672" width="42.5" height="4.1" fill="#EAE8F5"/>
<rect x="1045.2" y="1675.5" width="42.5" height="4.1" fill="#E6E2F3"/>
<rect x="1045.2" y="1679" width="42.5" height="4.1" fill="#E1DDF1"/>
<rect x="1045.2" y="1682.5" width="42.5" height="4.1" fill="#DDD8EF"/>
<rect x="1045.2" y="1686" width="42.5" height="4.1" fill="#D8D3ED"/>
<rect x="1045.2" y="1689.4" width="42.5" height="4.1" fill="#D4CEEB"/>
<rect x="1045.2" y="1692.9" width="42.5" height="4.1" fill="#CFCAE8"/>
<rect x="1045.2" y="1696.4" width="42.5" height="4.1" fill="#CBC5E6"/>
<rect x="1045.2" y="1699.9" width="42.5" height="4.1" fill="#C6C0E4"/>
<rect x="1045.2" y="1703.4" width="42.5" height="4.1" fill="#C1BBE2"/>
<rect x="1045.2" y="1706.9" width="42.5" height="4.1" fill="#BDB6E0"/>
<rect x="1045.2" y="1710.4" width="42.5" height="4.1" fill="#B8B1DE"/>
<rect x="1045.2" y="1713.9" width="42.5" height="4.1" fill="#B4ACDC"/>
<rect x="1045.2" y="1717.3" width="42.5" height="4.1" fill="#AFA8D9"/>
<rect x="1045.2" y="1720.8" width="42.5" height="4.1" fill="#ABA3D7"/>
<rect x="1045.2" y="1724.3" width="42.5" height="4.1" fill="#A69ED5"/>
<rect x="1045.2" y="1727.8" width="42.5" height="4.1" fill="#A199D3"/>
<line x1="1045.2" y1="1539.1" x2="1053.7" y2="1539.1" stroke="#fff" stroke-width="1.2"/>
<line x1="1079.2" y1="1539.1" x2="1087.7" y2="1539.1" stroke="#fff" stroke-width="1.2"/>
<text transform="translate(1101,1546.6) scale(1,1.04)" font-size="21" class="t">0.6</text>
<line x1="1045.2" y1="1578.7" x2="1053.7" y2="1578.7" stroke="#fff" stroke-width="1.2"/>
<line x1="1079.2" y1="1578.7" x2="1087.7" y2="1578.7" stroke="#fff" stroke-width="1.2"/>
<text transform="translate(1101,1586.2) scale(1,1.04)" font-size="21" class="t">0.4</text>
<line x1="1045.2" y1="1618.2" x2="1053.7" y2="1618.2" stroke="#fff" stroke-width="1.2"/>
<line x1="1079.2" y1="1618.2" x2="1087.7" y2="1618.2" stroke="#fff" stroke-width="1.2"/>
<text transform="translate(1101,1625.7) scale(1,1.04)" font-size="21" class="t">0.2</text>
<line x1="1045.2" y1="1657.7" x2="1053.7" y2="1657.7" stroke="#fff" stroke-width="1.2"/>
<line x1="1079.2" y1="1657.7" x2="1087.7" y2="1657.7" stroke="#fff" stroke-width="1.2"/>
<text transform="translate(1101,1665.2) scale(1,1.04)" font-size="21" class="t">0.0</text>
<line x1="1045.2" y1="1697.2" x2="1053.7" y2="1697.2" stroke="#fff" stroke-width="1.2"/>
<line x1="1079.2" y1="1697.2" x2="1087.7" y2="1697.2" stroke="#fff" stroke-width="1.2"/>
<text transform="translate(1101,1704.7) scale(1,1.04)" font-size="21" class="t">−0.2</text>
</g>
<g id="panelC">
<text transform="translate(1258,1057.6) scale(1.02,1.045)" font-size="84" class="t">C</text>
<rect x="1410.4" y="1179.1" width="120.1" height="120" fill="#FF0000"/>
<rect x="1530" y="1179.1" width="120.1" height="120" fill="#E5E5FF"/>
<rect x="1649.6" y="1179.1" width="120.1" height="120" fill="#FFBBBB"/>
<rect x="1769.2" y="1179.1" width="120.1" height="120" fill="#FF3E3E"/>
<rect x="1888.8" y="1179.1" width="120.1" height="120" fill="#FFDBDB"/>
<rect x="2008.4" y="1179.1" width="120.1" height="120" fill="#FF8787"/>
<rect x="2128" y="1179.1" width="119.6" height="120" fill="#FF8787"/>
<rect x="1410.4" y="1298.6" width="120.1" height="120" fill="#E5E5FF"/>
<rect x="1530" y="1298.6" width="120.1" height="120" fill="#FF0000"/>
<rect x="1649.6" y="1298.6" width="120.1" height="120" fill="#C6C6FF"/>
<rect x="1769.2" y="1298.6" width="120.1" height="120" fill="#B1B1FF"/>
<rect x="1888.8" y="1298.6" width="120.1" height="120" fill="#B1B1FF"/>
<rect x="2008.4" y="1298.6" width="120.1" height="120" fill="#DBDBFF"/>
<rect x="2128" y="1298.6" width="119.6" height="120" fill="#A7A7FF"/>
<rect x="1410.4" y="1418.1" width="120.1" height="120" fill="#FFBBBB"/>
<rect x="1530" y="1418.1" width="120.1" height="120" fill="#C6C6FF"/>
<rect x="1649.6" y="1418.1" width="120.1" height="120" fill="#FF0000"/>
<rect x="1769.2" y="1418.1" width="120.1" height="120" fill="#FFA7A7"/>
<rect x="1888.8" y="1418.1" width="120.1" height="120" fill="#FFC6C6"/>
<rect x="2008.4" y="1418.1" width="120.1" height="120" fill="#FFC6C6"/>
<rect x="2128" y="1418.1" width="119.6" height="120" fill="#FFFAFA"/>
<rect x="1410.4" y="1537.6" width="120.1" height="120" fill="#FF3E3E"/>
<rect x="1530" y="1537.6" width="120.1" height="120" fill="#B1B1FF"/>
<rect x="1649.6" y="1537.6" width="120.1" height="120" fill="#FFA7A7"/>
<rect x="1769.2" y="1537.6" width="120.1" height="120" fill="#FF0000"/>
<rect x="1888.8" y="1537.6" width="120.1" height="120" fill="#FFE5E5"/>
<rect x="2008.4" y="1537.6" width="120.1" height="120" fill="#FF4949"/>
<rect x="2128" y="1537.6" width="119.6" height="120" fill="#FF9292"/>
<rect x="1410.4" y="1657.1" width="120.1" height="120" fill="#FFDBDB"/>
<rect x="1530" y="1657.1" width="120.1" height="120" fill="#B1B1FF"/>
<rect x="1649.6" y="1657.1" width="120.1" height="120" fill="#FFC6C6"/>
<rect x="1769.2" y="1657.1" width="120.1" height="120" fill="#FFE5E5"/>
<rect x="1888.8" y="1657.1" width="120.1" height="120" fill="#FF0000"/>
<rect x="2008.4" y="1657.1" width="120.1" height="120" fill="#FAFAFF"/>
<rect x="2128" y="1657.1" width="119.6" height="120" fill="#FFB1B1"/>
<rect x="1410.4" y="1776.7" width="120.1" height="120" fill="#FF8787"/>
<rect x="1530" y="1776.7" width="120.1" height="120" fill="#DBDBFF"/>
<rect x="1649.6" y="1776.7" width="120.1" height="120" fill="#FFC6C6"/>
<rect x="1769.2" y="1776.7" width="120.1" height="120" fill="#FF4949"/>
<rect x="1888.8" y="1776.7" width="120.1" height="120" fill="#FAFAFF"/>
<rect x="2008.4" y="1776.7" width="120.1" height="120" fill="#FF0000"/>
<rect x="2128" y="1776.7" width="119.6" height="120" fill="#FFB1B1"/>
<rect x="1410.4" y="1896.2" width="120.1" height="119.5" fill="#FF8787"/>
<rect x="1530" y="1896.2" width="120.1" height="119.5" fill="#A7A7FF"/>
<rect x="1649.6" y="1896.2" width="120.1" height="119.5" fill="#FFFAFA"/>
<rect x="1769.2" y="1896.2" width="120.1" height="119.5" fill="#FF9292"/>
<rect x="1888.8" y="1896.2" width="120.1" height="119.5" fill="#FFB1B1"/>
<rect x="2008.4" y="1896.2" width="120.1" height="119.5" fill="#FFB1B1"/>
<rect x="2128" y="1896.2" width="119.6" height="119.5" fill="#FF0000"/>
<text transform="translate(1471.7,1245.9) scale(1,1.04)" font-size="19.2" font-weight="bold" text-anchor="middle" class="tb">1.00</text>
<text transform="translate(1588.7,1245.9) scale(1,1.04)" font-size="19.2" font-weight="bold" text-anchor="middle" class="tb">−0.11</text>
<text transform="translate(1710.9,1245.9) scale(1,1.04)" font-size="19.2" font-weight="bold" text-anchor="middle" class="tb">0.25</text>
<text transform="translate(1830.5,1245.9) scale(1,1.04)" font-size="19.2" font-weight="bold" text-anchor="middle" class="tb">0.73</text>
<text transform="translate(1950.1,1245.9) scale(1,1.04)" font-size="19.2" font-weight="bold" text-anchor="middle" class="tb">0.14</text>
<text transform="translate(2069.7,1245.9) scale(1,1.04)" font-size="19.2" font-weight="bold" text-anchor="middle" class="tb">0.45</text>
<text transform="translate(2189.3,1245.9) scale(1,1.04)" font-size="19.2" font-weight="bold" text-anchor="middle" class="tb">0.46</text>
<text transform="translate(1469.1,1365.4) scale(1,1.04)" font-size="19.2" font-weight="bold" text-anchor="middle" class="tb">−0.11</text>
<text transform="translate(1591.3,1365.4) scale(1,1.04)" font-size="19.2" font-weight="bold" text-anchor="middle" class="tb">1.00</text>
<text transform="translate(1708.3,1365.4) scale(1,1.04)" font-size="19.2" font-weight="bold" text-anchor="middle" class="tb">−0.21</text>
<text transform="translate(1827.9,1365.4) scale(1,1.04)" font-size="19.2" font-weight="bold" text-anchor="middle" class="tb">−0.29</text>
<text transform="translate(1947.5,1365.4) scale(1,1.04)" font-size="19.2" font-weight="bold" text-anchor="middle" class="tb">−0.31</text>
<text transform="translate(2067.1,1365.4) scale(1,1.04)" font-size="19.2" font-weight="bold" text-anchor="middle" class="tb">−0.12</text>
<text transform="translate(2186.7,1365.4) scale(1,1.04)" font-size="19.2" font-weight="bold" text-anchor="middle" class="tb">−0.33</text>
<text transform="translate(1471.7,1484.9) scale(1,1.04)" font-size="19.2" font-weight="bold" text-anchor="middle" class="tb">0.25</text>
<text transform="translate(1588.7,1484.9) scale(1,1.04)" font-size="19.2" font-weight="bold" text-anchor="middle" class="tb">−0.21</text>
<text transform="translate(1710.9,1484.9) scale(1,1.04)" font-size="19.2" font-weight="bold" text-anchor="middle" class="tb">1.00</text>
<text transform="translate(1830.5,1484.9) scale(1,1.04)" font-size="19.2" font-weight="bold" text-anchor="middle" class="tb">0.35</text>
<text transform="translate(1950.1,1484.9) scale(1,1.04)" font-size="19.2" font-weight="bold" text-anchor="middle" class="tb">0.20</text>
<text transform="translate(2069.7,1484.9) scale(1,1.04)" font-size="19.2" font-weight="bold" text-anchor="middle" class="tb">0.22</text>
<text transform="translate(2189.3,1484.9) scale(1,1.04)" font-size="19.2" font-weight="bold" text-anchor="middle" class="tb">0.03</text>
<text transform="translate(1471.7,1604.4) scale(1,1.04)" font-size="19.2" font-weight="bold" text-anchor="middle" class="tb">0.73</text>
<text transform="translate(1588.7,1604.4) scale(1,1.04)" font-size="19.2" font-weight="bold" text-anchor="middle" class="tb">−0.29</text>
<text transform="translate(1710.9,1604.4) scale(1,1.04)" font-size="19.2" font-weight="bold" text-anchor="middle" class="tb">0.35</text>
<text transform="translate(1830.5,1604.4) scale(1,1.04)" font-size="19.2" font-weight="bold" text-anchor="middle" class="tb">1.00</text>
<text transform="translate(1950.1,1604.4) scale(1,1.04)" font-size="19.2" font-weight="bold" text-anchor="middle" class="tb">0.08</text>
<text transform="translate(2069.7,1604.4) scale(1,1.04)" font-size="19.2" font-weight="bold" text-anchor="middle" class="tb">0.71</text>
<text transform="translate(2189.3,1604.4) scale(1,1.04)" font-size="19.2" font-weight="bold" text-anchor="middle" class="tb">0.41</text>
<text transform="translate(1471.7,1723.9) scale(1,1.04)" font-size="19.2" font-weight="bold" text-anchor="middle" class="tb">0.14</text>
<text transform="translate(1588.7,1723.9) scale(1,1.04)" font-size="19.2" font-weight="bold" text-anchor="middle" class="tb">−0.31</text>
<text transform="translate(1710.9,1723.9) scale(1,1.04)" font-size="19.2" font-weight="bold" text-anchor="middle" class="tb">0.20</text>
<text transform="translate(1830.5,1723.9) scale(1,1.04)" font-size="19.2" font-weight="bold" text-anchor="middle" class="tb">0.08</text>
<text transform="translate(1950.1,1723.9) scale(1,1.04)" font-size="19.2" font-weight="bold" text-anchor="middle" class="tb">1.00</text>
<text transform="translate(2067.1,1723.9) scale(1,1.04)" font-size="19.2" font-weight="bold" text-anchor="middle" class="tb">−0.03</text>
<text transform="translate(2189.3,1723.9) scale(1,1.04)" font-size="19.2" font-weight="bold" text-anchor="middle" class="tb">0.29</text>
<text transform="translate(1471.7,1843.4) scale(1,1.04)" font-size="19.2" font-weight="bold" text-anchor="middle" class="tb">0.45</text>
<text transform="translate(1588.7,1843.4) scale(1,1.04)" font-size="19.2" font-weight="bold" text-anchor="middle" class="tb">−0.12</text>
<text transform="translate(1710.9,1843.4) scale(1,1.04)" font-size="19.2" font-weight="bold" text-anchor="middle" class="tb">0.22</text>
<text transform="translate(1830.5,1843.4) scale(1,1.04)" font-size="19.2" font-weight="bold" text-anchor="middle" class="tb">0.71</text>
<text transform="translate(1947.5,1843.4) scale(1,1.04)" font-size="19.2" font-weight="bold" text-anchor="middle" class="tb">−0.03</text>
<text transform="translate(2069.7,1843.4) scale(1,1.04)" font-size="19.2" font-weight="bold" text-anchor="middle" class="tb">1.00</text>
<text transform="translate(2189.3,1843.4) scale(1,1.04)" font-size="19.2" font-weight="bold" text-anchor="middle" class="tb">0.29</text>
<text transform="translate(1471.7,1962.9) scale(1,1.04)" font-size="19.2" font-weight="bold" text-anchor="middle" class="tb">0.46</text>
<text transform="translate(1588.7,1962.9) scale(1,1.04)" font-size="19.2" font-weight="bold" text-anchor="middle" class="tb">−0.33</text>
<text transform="translate(1710.9,1962.9) scale(1,1.04)" font-size="19.2" font-weight="bold" text-anchor="middle" class="tb">0.03</text>
<text transform="translate(1830.5,1962.9) scale(1,1.04)" font-size="19.2" font-weight="bold" text-anchor="middle" class="tb">0.41</text>
<text transform="translate(1950.1,1962.9) scale(1,1.04)" font-size="19.2" font-weight="bold" text-anchor="middle" class="tb">0.29</text>
<text transform="translate(2069.7,1962.9) scale(1,1.04)" font-size="19.2" font-weight="bold" text-anchor="middle" class="tb">0.29</text>
<text transform="translate(2189.3,1962.9) scale(1,1.04)" font-size="19.2" font-weight="bold" text-anchor="middle" class="tb">1.00</text>
<text transform="translate(1400,1245.8) scale(1,1.04)" font-size="23.3" text-anchor="end" class="t">S100A9</text>
<text transform="translate(1400,1365.3) scale(1,1.04)" font-size="23.3" text-anchor="end" class="t">VGLL1</text>
<text transform="translate(1203,1473.3) scale(1,1.04)" font-size="23.3" class="t">CD56bright.natural.</text>
<text transform="translate(1203,1501.8) scale(1,1.04)" font-size="23.3" class="t">killer.cell</text>
<text transform="translate(1400,1604.3) scale(1,1.04)" font-size="23.3" text-anchor="end" class="t">MDSC</text>
<text transform="translate(1400,1723.8) scale(1,1.04)" font-size="23.3" text-anchor="end" class="t">Mast.cell</text>
<text transform="translate(1400,1843.3) scale(1,1.04)" font-size="23.3" text-anchor="end" class="t">Natural.killer.cell</text>
<text transform="translate(1257.4,1947.4) scale(1,1.04)" font-size="23.3" class="t">Plasmacytoid.</text>
<text transform="translate(1257.4,1974.9) scale(1,1.04)" font-size="23.3" class="t">dendritic.cell</text>
<text transform="translate(1479.2,1171) rotate(-90) scale(1,1.04)" font-size="23.3" class="t">S100A9</text>
<text transform="translate(1598.8,1171) rotate(-90) scale(1,1.04)" font-size="23.3" class="t">VGLL1</text>
<text transform="translate(1708.1,1171) rotate(-90) scale(1,1.04)" font-size="23.3" class="t">CD56bright.natural.</text>
<text transform="translate(1735.6,1171) rotate(-90) scale(1,1.04)" font-size="23.3" class="t">killer.cell</text>
<text transform="translate(1838,1171) rotate(-90) scale(1,1.04)" font-size="23.3" class="t">MDSC</text>
<text transform="translate(1957.6,1171) rotate(-90) scale(1,1.04)" font-size="23.3" class="t">Mast.cell</text>
<text transform="translate(2077.2,1171) rotate(-90) scale(1,1.04)" font-size="23.3" class="t">Natural.killer.cell</text>
<text transform="translate(2181.6,1171) rotate(-90) scale(1,1.04)" font-size="23.3" class="t">Plasmacytoid.</text>
<text transform="translate(2209.4,1171) rotate(-90) scale(1,1.04)" font-size="23.3" class="t">dendritic.cell</text>
<rect x="2260.9" y="1180" width="28.1" height="17.3" fill="#FF0000"/>
<rect x="2260.9" y="1196.7" width="28.1" height="17.3" fill="#FF0A0A"/>
<rect x="2260.9" y="1213.4" width="28.1" height="17.3" fill="#FF1515"/>
<rect x="2260.9" y="1230.1" width="28.1" height="17.3" fill="#FF1F1F"/>
<rect x="2260.9" y="1246.8" width="28.1" height="17.3" fill="#FF2A2A"/>
<rect x="2260.9" y="1263.5" width="28.1" height="17.3" fill="#FF3434"/>
<rect x="2260.9" y="1280.2" width="28.1" height="17.3" fill="#FF3E3E"/>
<rect x="2260.9" y="1296.8" width="28.1" height="17.3" fill="#FF4949"/>
<rect x="2260.9" y="1313.5" width="28.1" height="17.3" fill="#FF5353"/>
<rect x="2260.9" y="1330.2" width="28.1" height="17.3" fill="#FF5E5E"/>
<rect x="2260.9" y="1346.9" width="28.1" height="17.3" fill="#FF6868"/>
<rect x="2260.9" y="1363.6" width="28.1" height="17.3" fill="#FF7272"/>
<rect x="2260.9" y="1380.3" width="28.1" height="17.3" fill="#FF7D7D"/>
<rect x="2260.9" y="1397" width="28.1" height="17.3" fill="#FF8787"/>
<rect x="2260.9" y="1413.7" width="28.1" height="17.3" fill="#FF9292"/>
<rect x="2260.9" y="1430.4" width="28.1" height="17.3" fill="#FF9C9C"/>
<rect x="2260.9" y="1447.1" width="28.1" height="17.3" fill="#FFA7A7"/>
<rect x="2260.9" y="1463.8" width="28.1" height="17.3" fill="#FFB1B1"/>
<rect x="2260.9" y="1480.5" width="28.1" height="17.3" fill="#FFBBBB"/>
<rect x="2260.9" y="1497.1" width="28.1" height="17.3" fill="#FFC6C6"/>
<rect x="2260.9" y="1513.8" width="28.1" height="17.3" fill="#FFD0D0"/>
<rect x="2260.9" y="1530.5" width="28.1" height="17.3" fill="#FFDBDB"/>
<rect x="2260.9" y="1547.2" width="28.1" height="17.3" fill="#FFE5E5"/>
<rect x="2260.9" y="1563.9" width="28.1" height="17.3" fill="#FFEFEF"/>
<rect x="2260.9" y="1580.6" width="28.1" height="17.3" fill="#FFFAFA"/>
<rect x="2260.9" y="1597.3" width="28.1" height="17.3" fill="#FAFAFF"/>
<rect x="2260.9" y="1614" width="28.1" height="17.3" fill="#EFEFFF"/>
<rect x="2260.9" y="1630.7" width="28.1" height="17.3" fill="#E5E5FF"/>
<rect x="2260.9" y="1647.4" width="28.1" height="17.3" fill="#DBDBFF"/>
<rect x="2260.9" y="1664.1" width="28.1" height="17.3" fill="#D0D0FF"/>
<rect x="2260.9" y="1680.8" width="28.1" height="17.3" fill="#C6C6FF"/>
<rect x="2260.9" y="1697.5" width="28.1" height="17.3" fill="#BBBBFF"/>
<rect x="2260.9" y="1714.1" width="28.1" height="17.3" fill="#B1B1FF"/>
<rect x="2260.9" y="1730.8" width="28.1" height="17.3" fill="#A7A7FF"/>
<rect x="2260.9" y="1747.5" width="28.1" height="17.3" fill="#9C9CFF"/>
<rect x="2260.9" y="1764.2" width="28.1" height="17.3" fill="#9292FF"/>
<rect x="2260.9" y="1780.9" width="28.1" height="17.3" fill="#8787FF"/>
<rect x="2260.9" y="1797.6" width="28.1" height="17.3" fill="#7D7DFF"/>
<rect x="2260.9" y="1814.3" width="28.1" height="17.3" fill="#7272FF"/>
<rect x="2260.9" y="1831" width="28.1" height="17.3" fill="#6868FF"/>
<rect x="2260.9" y="1847.7" width="28.1" height="17.3" fill="#5E5EFF"/>
<rect x="2260.9" y="1864.4" width="28.1" height="17.3" fill="#5353FF"/>
<rect x="2260.9" y="1881.1" width="28.1" height="17.3" fill="#4949FF"/>
<rect x="2260.9" y="1897.8" width="28.1" height="17.3" fill="#3E3EFF"/>
<rect x="2260.9" y="1914.4" width="28.1" height="17.3" fill="#3434FF"/>
<rect x="2260.9" y="1931.1" width="28.1" height="17.3" fill="#2A2AFF"/>
<rect x="2260.9" y="1947.8" width="28.1" height="17.3" fill="#1F1FFF"/>
<rect x="2260.9" y="1964.5" width="28.1" height="17.3" fill="#1515FF"/>
<rect x="2260.9" y="1981.2" width="28.1" height="17.3" fill="#0A0AFF"/>
<rect x="2260.9" y="1997.9" width="28.1" height="17.3" fill="#0000FF"/>
<rect x="2260.9" y="1180" width="28.1" height="834.6" fill="none" stroke="#000" stroke-width="1.8"/>
<line x1="2289" y1="1180" x2="2294.8" y2="1180" stroke="#000" stroke-width="1.8"/>
<text transform="translate(2324.3,1187.3) scale(1,1.04)" font-size="20" text-anchor="middle" class="t">1</text>
<line x1="2289" y1="1263.5" x2="2294.8" y2="1263.5" stroke="#000" stroke-width="1.8"/>
<text transform="translate(2324.3,1270.8) scale(1,1.04)" font-size="20" text-anchor="middle" class="t">0.8</text>
<line x1="2289" y1="1346.9" x2="2294.8" y2="1346.9" stroke="#000" stroke-width="1.8"/>
<text transform="translate(2324.3,1354.2) scale(1,1.04)" font-size="20" text-anchor="middle" class="t">0.6</text>
<line x1="2289" y1="1430.4" x2="2294.8" y2="1430.4" stroke="#000" stroke-width="1.8"/>
<text transform="translate(2324.3,1437.7) scale(1,1.04)" font-size="20" text-anchor="middle" class="t">0.4</text>
<line x1="2289" y1="1513.8" x2="2294.8" y2="1513.8" stroke="#000" stroke-width="1.8"/>
<text transform="translate(2324.3,1521.1) scale(1,1.04)" font-size="20" text-anchor="middle" class="t">0.2</text>
<line x1="2289" y1="1597.3" x2="2294.8" y2="1597.3" stroke="#000" stroke-width="1.8"/>
<text transform="translate(2324.3,1604.6) scale(1,1.04)" font-size="20" text-anchor="middle" class="t">0</text>
<line x1="2289" y1="1680.8" x2="2294.8" y2="1680.8" stroke="#000" stroke-width="1.8"/>
<text transform="translate(2324.3,1688.1) scale(1,1.04)" font-size="20" text-anchor="middle" class="t">−0.2</text>
<line x1="2289" y1="1764.2" x2="2294.8" y2="1764.2" stroke="#000" stroke-width="1.8"/>
<text transform="translate(2324.3,1771.5) scale(1,1.04)" font-size="20" text-anchor="middle" class="t">−0.4</text>
<line x1="2289" y1="1847.7" x2="2294.8" y2="1847.7" stroke="#000" stroke-width="1.8"/>
<text transform="translate(2324.3,1855) scale(1,1.04)" font-size="20" text-anchor="middle" class="t">−0.6</text>
<line x1="2289" y1="1931.1" x2="2294.8" y2="1931.1" stroke="#000" stroke-width="1.8"/>
<text transform="translate(2324.3,1938.4) scale(1,1.04)" font-size="20" text-anchor="middle" class="t">−0.8</text>
<line x1="2289" y1="2014.6" x2="2294.8" y2="2014.6" stroke="#000" stroke-width="1.8"/>
<text transform="translate(2324.3,2021.9) scale(1,1.04)" font-size="20" text-anchor="middle" class="t">−1</text>
</g>
</svg>
</body></html>
